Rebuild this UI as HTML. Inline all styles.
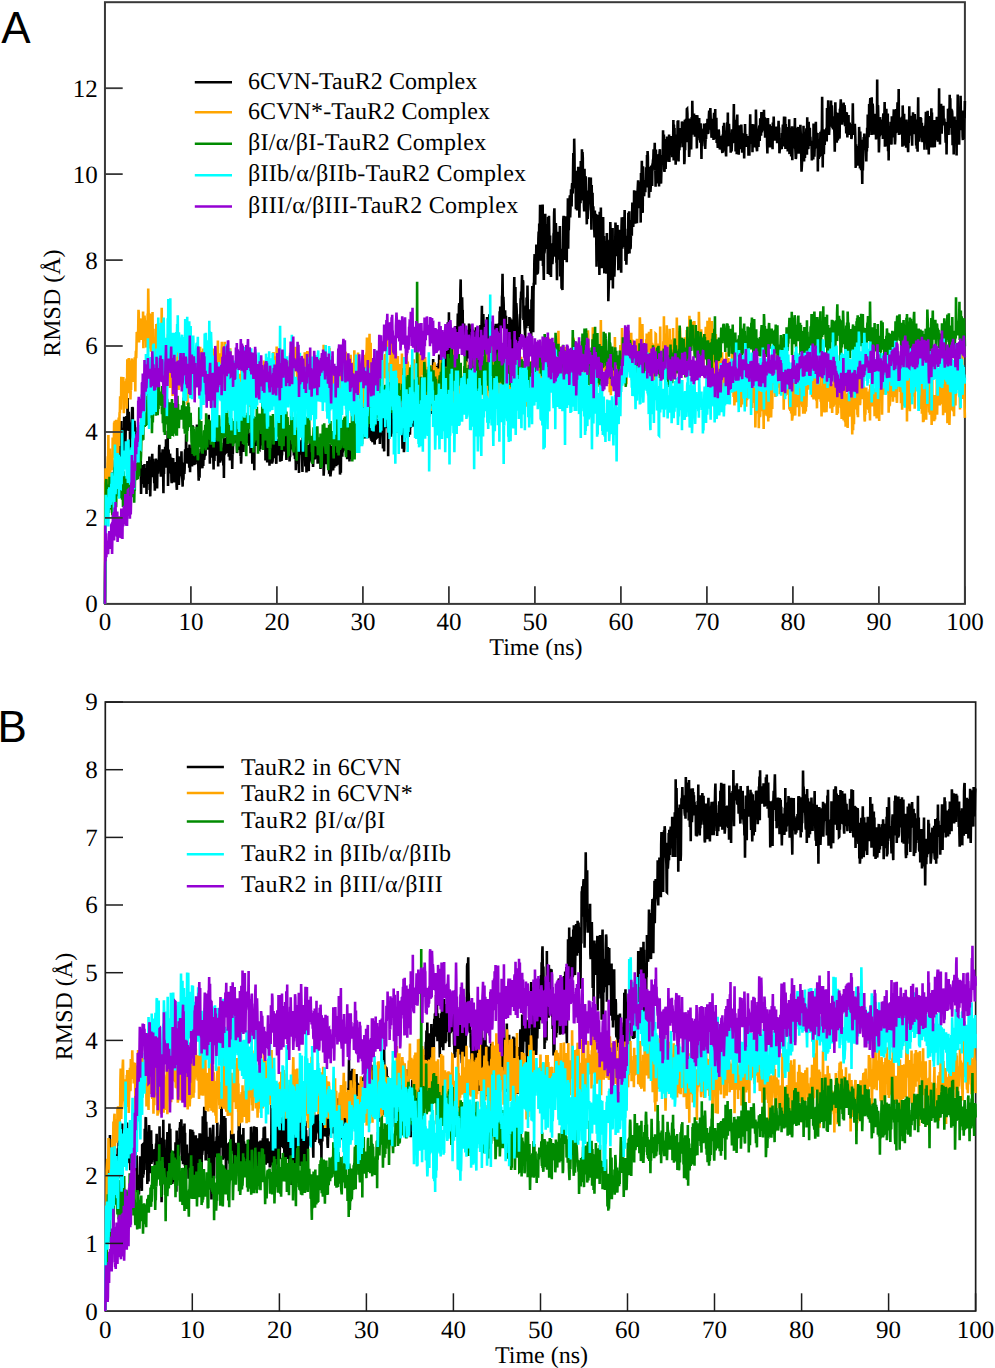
<!DOCTYPE html>
<html><head><meta charset="utf-8"><style>
html,body{margin:0;padding:0;background:#fff;}
svg{display:block;}
.t{font-family:"Liberation Serif",serif;font-size:24px;fill:#000;text-rendering:geometricPrecision;}
.n{font-family:"Liberation Serif",serif;font-size:25px;fill:#000;text-rendering:geometricPrecision;}
.L{font-family:"Liberation Sans",sans-serif;font-size:44px;fill:#000;}
.d path{fill:none;stroke-linejoin:miter;stroke-miterlimit:3;}
</style></head><body>
<svg width="995" height="1368" viewBox="0 0 995 1368">
<rect width="995" height="1368" fill="#fff"/>
<text x="1.2" y="43" class="L">A</text>
<text x="-2.5" y="742" class="L">B</text>
<rect x="104.95" y="2.20" width="859.95" height="601.70" fill="none" stroke="#383838" stroke-width="2.0"/>
<rect x="105.30" y="702.05" width="870.35" height="609.00" fill="none" stroke="#1c1c1c" stroke-width="1.7"/>
<g class="d">
<path transform="translate(104.95 2.20) scale(0.286650)" stroke-width="9.070" d="M0 2099 l1-129 1-158 1-46 1-103 1-29 1 35 1 57 1-34 1-3 1 19 1-20 1-1 1 34 1-45 1 1 1 40 1-26 1 21 1-59 1 29 1-6 1-36 1 26 1 27 1 5 1 68 1-99 1 21 1-24 1 30 1-16 1-41 1-10 1-19 1-12 1 10 1-10 1 32 1-20 1-13 1 16 1-20 1 27 1-26 1 35 1-18 1-3 1 28 1-25 1-11 1 14 1-76 1 31 1 22 1-34 1-2 1-92 1 158 1-72 1-29 1 22 1 49 1-79 1 15 1-40 1 83 1-122 1 57 1 7 1-55 1 85 1-23 1-67 1 16 1-22 1 51 1-15 1 6 1-105 1 86 1-35 1 24 1-27 1 52 1 15 1-7 1 7 1 64 1-80 1 34 1-6 1-38 1-1 1-18 1-39 1 14 1-13 1 109 1-37 1 8 1-2 1-20 1-11 1 23 1 1 1 2 1 66 1-41 1 52 1-14 1-51 1 99 1-20 1-10 1 27 1-35 1-57 1 50 1 69 1 18 1-18 1 33 1-9 1-43 1 1 1 113 1-55 1 20 1-45 1 18 1-39 1 45 1-33 1 10 1 29 1-33 1 61 1-83 1 81 1-21 1-17 1 12 1 21 1-62 1 91 1-60 1 25 1-80 1 52 1 13 1 14 1-5 1-30 1-1 1-59 1 117 1-55 1 77 1-45 1-76 1-1 1-1 1 50 1-42 1-34 1 82 1-41 1-23 1 17 1 37 1 6 1 25 1-27 1 53 1-26 1-29 1-6 1-51 1 14 1 2 1-11 1 99 1-68 1-15 1 32 1-27 1 0 1 10 1-74 1-10 1 69 1-42 1 11 1 40 1 33 1-29 1-15 1 30 1-36 1-11 1-34 1 82 1-1 1 72 1-96 1 29 1-70 1-12 1 18 1-31 1 62 1 11 1-99 1 20 1 39 1 34 1-38 1-22 1-63 1 193 1-43 1-84 1 27 1 21 1 15 1 20 1-69 1 14 1 44 1-3 1-42 1 82 1 8 1-40 1 28 1-55 1-8 1-13 1 22 1 32 1-37 1 68 1-6 1-28 1 19 1-45 1 57 1-68 1 28 1 56 1 13 1-146 1 39 1-6 1 22 1 29 1-55 1 100 1-34 1-16 1 19 1-10 1-17 1 13 1-52 1 16 1-36 1 65 1 24 1 9 1 25 1-49 1 26 1-6 1-55 1 6 1 34 1-19 1-52 1-15 1 7 1 42 1-102 1 59 1 24 1-35 1 31 1-9 1 33 1-14 1-14 1 4 1-26 1 64 1-81 1 41 1 56 1-72 1 13 1 28 1-53 1 49 1 10 1 0 1-24 1-115 1 118 1 14 1-59 1 11 1-11 1 66 1-104 1 67 1 25 1 9 1-36 1-1 1 16 1-58 1-60 1 26 1 64 1 40 1-29 1 57 1 38 1-25 1 7 1 8 1-65 1 5 1-10 1-30 1 45 1 14 1-8 1-72 1 75 1 13 1-69 1 42 1 19 1-48 1 12 1 15 1-10 1-52 1 11 1 34 1-1 1-60 1 40 1-3 1-21 1 3 1-32 1 55 1-36 1-46 1 41 1-81 1 65 1 0 1 41 1 65 1-68 1-21 1 23 1 1 1 44 1-34 1-41 1-9 1 46 1 20 1 0 1 15 1 44 1-101 1 54 1 18 1-59 1 26 1-3 1 17 1-14 1-30 1-54 1 76 1-3 1-23 1 19 1 18 1 49 1-77 1 57 1-98 1 83 1 3 1 14 1 4 1-24 1-37 1 18 1 13 1 23 1-8 1-19 1-8 1 21 1-3 1 34 1-79 1 123 1-140 1 60 1-6 1-38 1 25 1 14 1-25 1-2 1 18 1-71 1 73 1-96 1 46 1 55 1-69 1-14 1 96 1-45 1-18 1-3 1 79 1-41 1-45 1 26 1 33 1 5 1-28 1 14 1 65 1-57 1 7 1-41 1-46 1 14 1 8 1 2 1-12 1-3 1-20 1 24 1 33 1-32 1-39 1 48 1-43 1 102 1-31 1-3 1 4 1-37 1 3 1-14 1-22 1 89 1-39 1-82 1 94 1 48 1-5 1 32 1-36 1-40 1-24 1-32 1 35 1-30 1 0 1 86 1-27 1-58 1 47 1-43 1 43 1 2 1-13 1-75 1 93 1-34 1 34 1-88 1 44 1 5 1-28 1 44 1-8 1-6 1 26 1 20 1-4 1-21 1 2 1 7 1 42 1-38 1 30 1-83 1 27 1-28 1 129 1-9 1-55 1 6 1-15 1 25 1 5 1 66 1-167 1 72 1 4 1-5 1 11 1-36 1-28 1 24 1 4 1-28 1 33 1 11 1-33 1 38 1-45 1 59 1 11 1 1 1-30 1 28 1 2 1-73 1-7 1-22 1 55 1 4 1 10 1 20 1-9 1 0 1-31 1 23 1 16 1-33 1-11 1-6 1 41 1-56 1 119 1-80 1 42 1 18 1-16 1-30 1 73 1-69 1-10 1 22 1 15 1-20 1-11 1-40 1 124 1-96 1-22 1 92 1-65 1-14 1 42 1 0 1 19 1 36 1-5 1-3 1-55 1 37 1-41 1-20 1-21 1 40 1-15 1 60 1 0 1-79 1 20 1 80 1 3 1-74 1 39 1-50 1 5 1 51 1-37 1 24 1-27 1-15 1-25 1 64 1-34 1 72 1-91 1 80 1-22 1 8 1 22 1-18 1-5 1-63 1 10 1 5 1-3 1-16 1 57 1-20 1-4 1-46 1 38 1-27 1 60 1-83 1 75 1 37 1-34 1-17 1-8 1-49 1 57 1 4 1 14 1-76 1 47 1 5 1 62 1-16 1-2 1-47 1-60 1 6 1 77 1-33 1-41 1 41 1-30 1-17 1 25 1 25 1-75 1 126 1-27 1 4 1 12 1 23 1-11 1-38 1 89 1-28 1-18 1-16 1 17 1-19 1-26 1 68 1-67 1-77 1 96 1 79 1-84 1-18 1 38 1-10 1-33 1 24 1-27 1 22 1-27 1 28 1 38 1 46 1-126 1 74 1 7 1-71 1-1 1 45 1-48 1 57 1 2 1 42 1-104 1 66 1-18 1 77 1-93 1 81 1-31 1-28 1-19 1-7 1 65 1 27 1-84 1 42 1-28 1 4 1-43 1 15 1 38 1-19 1 32 1 8 1 5 1-6 1 0 1-38 1 59 1-21 1-59 1 45 1-16 1-43 1 68 1-63 1 61 1-39 1-31 1 57 1-9 1-2 1-1 1-22 1 64 1-11 1-25 1 19 1 11 1-45 1 15 1 32 1-59 1 23 1 58 1-41 1-55 1 33 1 25 1-38 1 6 1 5 1-16 1 58 1-73 1 120 1-22 1-88 1 34 1-53 1 29 1-19 1 7 1 19 1 53 1-55 1-41 1 15 1 49 1-32 1 51 1 27 1-56 1 24 1 43 1-1 1-55 1-41 1 110 1 0 1-13 1-2 1-65 1 58 1-45 1-7 1-29 1 68 1 18 1-15 1-5 1-12 1 23 1-53 1 34 1 2 1-27 1 6 1-38 1 71 1-47 1 18 1 24 1-18 1 10 1-71 1 43 1 16 1-8 1 2 1-3 1 0 1 63 1-17 1-33 1 44 1-117 1 37 1 8 1-31 1 47 1-61 1 46 1-40 1-31 1 65 1-67 1 46 1-6 1-23 1-15 1 53 1-33 1 23 1 11 1 9 1-51 1 82 1-67 1 25 1-6 1-40 1 27 1 22 1-78 1 125 1-47 1-63 1 102 1-57 1 0 1-35 1 15 1 11 1 34 1-30 1-76 1 33 1 46 1-7 1 63 1-69 1 40 1 8 1-22 1-65 1 49 1 25 1-134 1 96 1-27 1 23 1-60 1 1 1 10 1-3 1-5 1-7 1 23 1-48 1 18 1 3 1-6 1 85 1-43 1 46 1 16 1-78 1-69 1 37 1-9 1 51 1 18 1-25 1 35 1-56 1-42 1 22 1 26 1-1 1 68 1-68 1 24 1 13 1-1 1 18 1-45 1 42 1-53 1 52 1 17 1-85 1 49 1-6 1 37 1-69 1 64 1-10 1 9 1-4 1 19 1-39 1 45 1-5 1-11 1 20 1-21 1-31 1-54 1 6 1 70 1-66 1 98 1 6 1-48 1-40 1 71 1-12 1-20 1-3 1-37 1 41 1 23 1-1 1-19 1-30 1 32 1-13 1-44 1-69 1 67 1 100 1-56 1-25 1 18 1-30 1 11 1-12 1-2 1 45 1 2 1 28 1 37 1-17 1-4 1-9 1 40 1-118 1 33 1-33 1 37 1-11 1-26 1 2 1 29 1-39 1-11 1-42 1 95 1-34 1 135 1-142 1 11 1-14 1-10 1 22 1 7 1 51 1-29 1-17 1 53 1-17 1-54 1-24 1 18 1 5 1 4 1 3 1 4 1 3 1 38 1-1 1-37 1 3 1 28 1-22 1-83 1 104 1 12 1-53 1 50 1 0 1-16 1 2 1-39 1-19 1 68 1-27 1 35 1-62 1 16 1-21 1-38 1 87 1-6 1-21 1 50 1 1 1-48 1 23 1 76 1-64 1-1 1 24 1-17 1 70 1-12 1-81 1-23 1 1 1 12 1-3 1 8 1-60 1 99 1-50 1 56 1-46 1-37 1 35 1 28 1 20 1-83 1 45 1-17 1-8 1 55 1-46 1-47 1 68 1-21 1-42 1 45 1-3 1-62 1-29 1 109 1-54 1-3 1 10 1 18 1-28 1 17 1 4 1-23 1 19 1 56 1-79 1 7 1 20 1 55 1-128 1 42 1 69 1-102 1 12 1 8 1-30 1 11 1 63 1 1 1-51 1-44 1 55 1-33 1 53 1 8 1-53 1 42 1-42 1 70 1-54 1-41 1 68 1 10 1-100 1 22 1 51 1-17 1-63 1 99 1-71 1 0 1-26 1 43 1-10 1 50 1-42 1-44 1 17 1 21 1-26 1 98 1 10 1-128 1 50 1-31 1 38 1-12 1-8 1 30 1 12 1-12 1 38 1 13 1-85 1 1 1-107 1 109 1 6 1-101 1 55 1-3 1-38 1-1 1 14 1 4 1 52 1-26 1 7 1-36 1 37 1-55 1 13 1 0 1 84 1-106 1 55 1-86 1 31 1-4 1-1 1 68 1-7 1-33 1-34 1 76 1-10 1-73 1 77 1-31 1 60 1-130 1 18 1-16 1 25 1 57 1-76 1-24 1 22 1 72 1-88 1 16 1 60 1 10 1-37 1-116 1 69 1-93 1 47 1 116 1-53 1-145 1 125 1-14 1 11 1 27 1 42 1-45 1-28 1 8 1-28 1 69 1-3 1-69 1 41 1 71 1-8 1-117 1 79 1 15 1-67 1-5 1 58 1-37 1-77 1 98 1-43 1-48 1 32 1-14 1 26 1-30 1-65 1 6 1 14 1 35 1-79 1-12 1 47 1 9 1 38 1-138 1-39 1 122 1-16 1 101 1-78 1-67 1 56 1-1 1 98 1 17 1 10 1-75 1-13 1 32 1 8 1 46 1-20 1 26 1 16 1-55 1 82 1-113 1 42 1 43 1-27 1 42 1-80 1 21 1 17 1-80 1 65 1 9 1 25 1 3 1-49 1-33 1 35 1-15 1 29 1-66 1 67 1-50 1 78 1 10 1 32 1-12 1-53 1 37 1-88 1 92 1 64 1-84 1 12 1-95 1 38 1 69 1-51 1 30 1 9 1-50 1-25 1 60 1-48 1 106 1-94 1 21 1 45 1-93 1 28 1-53 1 106 1-87 1 17 1-41 1-62 1 114 1 15 1-25 1 5 1-80 1 49 1 23 1-3 1 14 1-49 1 68 1 27 1-75 1-14 1 70 1-44 1 15 1-71 1 52 1 27 1 15 1 2 1-3 1-55 1 20 1-67 1 81 1 71 1-88 1 12 1-51 1 55 1-1 1 63 1 23 1-63 1 14 1 8 1-82 1 122 1-3 1-78 1 38 1 20 1-57 1-44 1 75 1-82 1 72 1-66 1 186 1-179 1 78 1-66 1 42 1-63 1-4 1 42 1 46 1-40 1-27 1-65 1 58 1-74 1 37 1-7 1-4 1-23 1 72 1-108 1-9 1-73 1 89 1 30 1-38 1 27 1 64 1 27 1-33 1 1 1-39 1 31 1 73 1-85 1 111 1 12 1-5 1 10 1-64 1-35 1 91 1-32 1-25 1-12 1 61 1-108 1 30 1 39 1-64 1 128 1-37 1-29 1-17 1 9 1 3 1-53 1 63 1-25 1 11 1 89 1-160 1-69 1-57 1 140 1-83 1-18 1 0 1 87 1 104 1-139 1 18 1 27 1 15 1 51 1 14 1 69 1-33 1-46 1 0 1 67 1 24 1-64 1-103 1 14 1-70 1 4 1-28 1 24 1-38 1-43 1 45 1 21 1-48 1 6 1 133 1-9 1-1 1 17 1 23 1 9 1 44 1-130 1 37 1-41 1 79 1-107 1 23 1 29 1-94 1 66 1 54 1 16 1 1 1-54 1 40 1-35 1 61 1-21 1 32 1-30 1-3 1 57 1-135 1 45 1-47 1-45 1 96 1-15 1 80 1-140 1-32 1 2 1-76 1-26 1 48 1 59 1-67 1-28 1 5 1-51 1 36 1 70 1-54 1-10 1 60 1-18 1-103 1-26 1 70 1-98 1 72 1-49 1-88 1 55 1 140 1-18 1-103 1 57 1-24 1 51 1-46 1-113 1 214 1-127 1 129 1 47 1-132 1 39 1-9 1-58 1-71 1 99 1 24 1-11 1-20 1-51 1 22 1-19 1-8 1 174 1-199 1 37 1 0 1-41 1 56 1 63 1 88 1-138 1 95 1-64 1 114 1-87 1-31 1 55 1-45 1 63 1-20 1-12 1-12 1-62 1-4 1-69 1-16 1 75 1-13 1 36 1 71 1-118 1 30 1 109 1-15 1 76 1-116 1-46 1 52 1 38 1-97 1 53 1 4 1-40 1 39 1-76 1 176 1-81 1 78 1-94 1 75 1 65 1-86 1 82 1 8 1-101 1-78 1-67 1-13 1 144 1-67 1 77 1-79 1 57 1-101 1 24 1 7 1-60 1 53 1 107 1-124 1 65 1-53 1-111 1 176 1-91 1 28 1-49 1-28 1-32 1-14 1 77 1-30 1-34 1-34 1 31 1 29 1-70 1-12 1 35 1-2 1-70 1-68 1 36 1 46 1-132 1 54 1 120 1-34 1 1 1 4 1 101 1-134 1 114 1-34 1 59 1-137 1 26 1 59 1-101 1 36 1-29 1 33 1 138 1-48 1-94 1 2 1 89 1-147 1 29 1 109 1-42 1-137 1 147 1-137 1 21 1 146 1-52 1-13 1 85 1 20 1-149 1 63 1 68 1-104 1 3 1 60 1 31 1 21 1 52 1-107 1-11 1 99 1-26 1-7 1-23 1-35 1-54 1 85 1-44 1 25 1-62 1 65 1-68 1 90 1 92 1-156 1 68 1 20 1-61 1 72 1-14 1-1 1 30 1-23 1 61 1 31 1-94 1 32 1 39 1-60 1 50 1 36 1 99 1-182 1 95 1 62 1-109 1-37 1-10 1 74 1 2 1 69 1 65 1-221 1 48 1 18 1 100 1-181 1 132 1-35 1 95 1 20 1-120 1 32 1 75 1-166 1 153 1-81 1-5 1 130 1-88 1 13 1-37 1 52 1-33 1 94 1-35 1-49 1-58 1 118 1-94 1 17 1-5 1 202 1-35 1-32 1-94 1 42 1-30 1-29 1-98 1 38 1 77 1-2 1 90 1-29 1-14 1 4 1-143 1 211 1-129 1-14 1-13 1 42 1 73 1-30 1-41 1-23 1-95 1 28 1 22 1 44 1-33 1 56 1-39 1-70 1 80 1-36 1 114 1-59 1-33 1-49 1 64 1-18 1 42 1-54 1 14 1 76 1 26 1-157 1-37 1 32 1 78 1-29 1-5 1-56 1-20 1 104 1-70 1 1 1-60 1 87 1-22 1 113 1-65 1-23 1 101 1-40 1-40 1 4 1 25 1 13 1-50 1-93 1 23 1 47 1-76 1 148 1-117 1 74 1 27 1-7 1-52 1-32 1 30 1 15 1-74 1-42 1 26 1 1 1 58 1-32 1 18 1-114 1 107 1-76 1-11 1 97 1-69 1-46 1 50 1 32 1-42 1 73 1-63 1-45 1-21 1-21 1 88 1-46 1-36 1 4 1 88 1-26 1-12 1-24 1 112 1-173 1 55 1-32 1-66 1 106 1 51 1 25 1-163 1 98 1-26 1 25 1 8 1-25 1-16 1 20 1 7 1-43 1 9 1-53 1 41 1 29 1-113 1 112 1-126 1 20 1 93 1-10 1-44 1 104 1-96 1-12 1 62 1-17 1 43 1-18 1-51 1-22 1 50 1-52 1 72 1-78 1 3 1-16 1-2 1-35 1 41 1-28 1 8 1-44 1 97 1-5 1 62 1-130 1 40 1 64 1 14 1-55 1 27 1-63 1 84 1-22 1-62 1-11 1 113 1-101 1-22 1-7 1 89 1-60 1 45 1 46 1-36 1-42 1 1 1-23 1 25 1-15 1-96 1 66 1-28 1-23 1 122 1 8 1-35 1 12 1-92 1 105 1-49 1-53 1 77 1-48 1-40 1 65 1-64 1 38 1-19 1 28 1 36 1-91 1 95 1-37 1-26 1 15 1-32 1 33 1-5 1-38 1 65 1-63 1 72 1-30 1-41 1 48 1-107 1 141 1-124 1 46 1-35 1 72 1-49 1 18 1 87 1-43 1-10 1-34 1 71 1-71 1-1 1-65 1 93 1-95 1 144 1-56 1-26 1 43 1-54 1 44 1-28 1-18 1-22 1 36 1-31 1 38 1-66 1 4 1 25 1 61 1-61 1-11 1-12 1 15 1 128 1-13 1-142 1 106 1-78 1 35 1-66 1 16 1 46 1-96 1-1 1 17 1 99 1-29 1-35 1-18 1 71 1 63 1-19 1-48 1 41 1-108 1 77 1-62 1 93 1-59 1-54 1 60 1-117 1 57 1 47 1-28 1 33 1 9 1-74 1 49 1-27 1 59 1-25 1-10 1-40 1 47 1-19 1 18 1 70 1-116 1 11 1 64 1-28 1-15 1 48 1-28 1-42 1 55 1 22 1-12 1 21 1-68 1 46 1 16 1 63 1-87 1 42 1-30 1 11 1-24 1-8 1-10 1 28 1-46 1 35 1 0 1 34 1 20 1-25 1-14 1 4 1-35 1-20 1 14 1 25 1-54 1 19 1 32 1-3 1-20 1-40 1-17 1 11 1 45 1-20 1-45 1 35 1 41 1-22 1 50 1-6 1-22 1 13 1-38 1 25 1-38 1 74 1-73 1-22 1 59 1-38 1 36 1-70 1 104 1-39 1 30 1-65 1 88 1-20 1-25 1 42 1 20 1-36 1 17 1-45 1 8 1 26 1-12 1 48 1-8 1-20 1-20 1 44 1-15 1-26 1 28 1 21 1 8 1-64 1 61 1-92 1 26 1 61 1-97 1 19 1 34 1 24 1-2 1-48 1 75 1 15 1-61 1 8 1 19 1-85 1 70 1-104 1 117 1-29 1-12 1-37 1 18 1 26 1 5 1-11 1 3 1 60 1-35 1-24 1 55 1-21 1-57 1 6 1 42 1-3 1-6 1-61 1-66 1 116 1-36 1-7 1 10 1-28 1 111 1-53 1-14 1 6 1 70 1-123 1-15 1 107 1-62 1 18 1 10 1 67 1-94 1 17 1 39 1-65 1 82 1-26 1 8 1 20 1-86 1 28 1 24 1 46 1-38 1-30 1 59 1-18 1-37 1 17 1 67 1-61 1 3 1-62 1 50 1 9 1 8 1-32 1 45 1-21 1-9 1 0 1 21 1-13 1-5 1 58 1-69 1 10 1 59 1-47 1-39 1-59 1 82 1-12 1 14 1 18 1-4 1-50 1-14 1 98 1-82 1 13 1-24 1 75 1-55 1-24 1 81 1-54 1 36 1-19 1 30 1-126 1 49 1 81 1 8 1 8 1-29 1-8 1-39 1 10 1 51 1-59 1-8 1 1 1 45 1-28 1-51 1 35 1-12 1 38 1-83 1 31 1 40 1-24 1 18 1-28 1-15 1 22 1 7 1-59 1 52 1-13 1-13 1 72 1-68 1 56 1 1 1 10 1-6 1-33 1 62 1 33 1-82 1-42 1 54 1 12 1 24 1-64 1 52 1-56 1 81 1-40 1 1 1-16 1 14 1 27 1-41 1-20 1 31 1 50 1-93 1 52 1-19 1-54 1 49 1 11 1-12 1 36 1-23 1 20 1-43 1 34 1-1 1-36 1 24 1 34 1-28 1 11 1 6 1-37 1-30 1 43 1-20 1 90 1-10 1-42 1 34 1-24 1 16 1-15 1 17 1 10 1-57 1 46 1-51 1-24 1 19 1-1 1-1 1-41 1 0 1 95 1 5 1-103 1 112 1-87 1 36 1 15 1-6 1-3 1 8 1-40 1 86 1-76 1 13 1 20 1 29 1-99 1 122 1-83 1 6 1 63 1-78 1 73 1 27 1-8 1-23 1-74 1 118 1-100 1 59 1-43 1 22 1 8 1-11 1-41 1 6 1-47 1 95 1 23 1 25 1-5 1-31 1-38 1-35 1 57 1 25 1-23 1-62 1 87 1 6 1-57 1-9 1 4 1 38 1-41 1-35 1 24 1 35 1 43 1 61 1-16 1-20 1-41 1-31 1-25 1 59 1-86 1 66 1 59 1-89 1 48 1 28 1-45 1 30 1-60 1 0 1-28 1 73 1 19 1-131 1 112 1-47 1 45 1-2 1-92 1 34 1 17 1 5 1-35 1 43 1-11 1 22 1 9 1-17 1 3 1 65 1-38 1 32 1-29 1-12 1 44 1-126 1 105 1-102 1 113 1-33 1-36 1 9 1-6 1-56 1 59 1-21 1 20 1 29 1 6 1-54 1 135 1-102 1-8 1 66 1-37 1-13 1 44 1-63 1 36 1-62 1 84 1-28 1-46 1-13 1-6 1-113 1 137 1 110 1-93 1 5 1-46 1 87 1-51 1 2 1 17 1-42 1 8 1-4 1 12 1-23 1-11 1 48 1-117 1 9 1 25 1 15 1-76 1 111 1-52 1 62 1-21 1-74 1 40 1-24 1 50 1-55 1-36 1 56 1 3 1-42 1 27 1 52 1-22 1 27 1-46 1 9 1-7 1 32 1 35 1 55 1-67 1-106 1 46 1-12 1 26 1-14 1 95 1-57 1 42 1-39 1 46 1-80 1-16 1 18 1 16 1 56 1-6 1-98 1 8 1-18 1-23 1 51 1-34 1 47 1 17 1 7 1-33 1 6 1-29 1 4 1-25 1 68 1-10 1-49 1 11 1 63 1-9 1-41 1 24 1 51 1-13 1-61 1 38 1 50 1-30 1-36 1 25 1-37 1 68 1-5 1-34 1-3 1 30 1-5 1 10 1-10 1-20 1 52 1-6 1-30 1 8 1-17 1-79 1 74 1 17 1 7 1 8 1 2 1-13 1-24 1 22 1 33 1 99 1-82 1 53 1-26 1-7 1 15 1 39 1-34 1 10 1-36 1-8 1 23 1-90 1 39 1 58 1 48 1-129 1 39 1 27 1 69 1-106 1 34 1 64 1 56 1-128 1 81 1-41 1-48 1-28 1 31 1-43 1 25 1 18 1-7 1 17 1-9 1 15 1 39 1-55 1 20 1-83 1 71 1-117 1 44 1-7 1 42 1-28 1-88 1 43 1 48 1-92 1-20 1 59 1-6 1-43 1 119 1-131 1 102 1-40 1-40 1 10 1 44 1-13 1 67 1-47 1 22 1-48 1 35 1 28 1-20 1-29 1 76 1-21 1 15 1-18 1-185 1 181 1 12 1-103 1 51 1 35 1 78 1-32 1-82 1 59 1-68 1 39 1-18 1-8 1 0 1 19 1 31 1-20 1-26 1 6 1 53 1-82 1-7 1 27 1-26 1 20 1-61 1 156 1-115 1 64 1-23 1-19 1-39 1 58 1 73 1-69 1-7 1-39 1 132 1-87 1 119 1-111 1-8 1 27 1-24 1 22 1-4 1-37 1 28 1 40 1 12 1-99 1 74 1-28 1-45 1 31 1-9 1-14 1-33 1 49 1 29 1 14 1 30 1-16 1-76 1 53 1-84 1 31 1 14 1-6 1-24 1-39 1 74 1 32 1-35 1-117 1 160 1-38 1-1 1 13 1-29 1 53 1-4 1-39 1-16 1 38 1-32 1-9 1 105 1-144 1 41 1 2 1-7 1 105 1-112 1 86 1-10 1-1 1-34 1 68 1-43 1 53 1-99 1 63 1-55 1 40 1 40 1 8 1 18 1-57 1 25 1-18 1-110 1 103 1-53 1 11 1 37 1-21 1 20 1-64 1 26 1-15 1 94 1-72 1 30 1-75 1 62 1 14 1-40 1-2 1 16 1-44 1 26 1 23 1-8 1 26 1 43 1-66 1 77 1-102 1 45 1 68 1-120 1-70 1 116 1-36 1-2 1 77 1-85 1 47 1-4 1-44 1 25 1-22 1 68 1-2 1-49 1 55 1 12 1-35 1 10 1-10 1-15 1-1 1 25 1 53 1-47 1 22 1-54 1-16 1-38 1 106 1-44 1 39 1-25 1 57 1-136 1 82 1 10 1 8 1 52 1-124 1 7 1 6 1-23 1 21 1 47 1 7 1 35 1-137 1 118 1-103 1 86 1-31 1 24 1 43 1-69 1-2 1 25 1-18 1-32 1 95 1-50 1 15 1 10 1-13 1-11 1-3 1-54 1 42 1 31 1-36 1 50 1-73 1 28 1-15 1-127 1 156 1-101 1 141 1-94 1 17 1 3 1-68 1 67 1 38 1-47 1 15 1-35 1-21 1 24 1-34 1 58 1 11 1-24 1 16 1-5 1 13 1 32 1 28 1-64 1-1 1 106 1-87 1-15 1 21 1 11 1-89 1 41 1 50 1-38 1-55 1 27 1-74 1 116 1-104 1 80 1 16 1-23 1-36 1 90 1-85 1 12 1 110 1-89 1-6 1 47 1 80 1-125 1 3 1-10 1 94 1-20 1-6 1-46 1 70 1-21 1 65 1-124 1 45 1-19 1-115 1 76 1 31 1-1 1 35 1 34 1-100 1 22 1-12 1 40 1-121 1 74 1 9 1 18 1-2 1-12 1-15 1 70 1 13 1-68 1-35 1 99 1-52 1-24 1 5 1-61" stroke="#000000"/>
<path transform="translate(104.95 2.20) scale(0.286650)" stroke-width="9.070" d="M0 2099 l1-327 1-146 1 93 1-35 1-27 1 2 1 19 1 45 1-112 1-27 1 23 1-97 1 225 1-67 1 27 1-112 1-26 1 110 1-48 1-28 1-3 1 0 1 35 1 5 1 5 1-19 1-95 1 43 1 28 1-10 1-45 1-69 1 112 1-118 1 8 1 115 1-111 1 18 1-33 1 60 1 96 1-22 1 1 1-78 1 36 1 30 1-94 1-37 1 99 1-64 1-53 1 5 1-61 1 33 1 4 1 10 1-115 1 25 1 1 1 36 1-57 1 48 1-9 1-43 1 37 1 89 1-51 1-4 1-4 1 11 1-13 1-47 1-2 1 35 1-46 1 105 1-63 1-109 1 75 1 6 1 8 1 29 1-123 1 99 1-21 1-31 1-18 1-20 1 136 1-39 1 6 1-67 1-37 1-6 1 23 1-15 1 13 1 12 1 49 1-49 1-13 1-14 1 19 1-29 1 59 1 60 1-119 1-23 1 26 1-38 1-53 1 23 1-24 1 5 1 20 1-34 1-68 1 13 1 101 1-26 1-56 1 34 1-35 1 3 1 35 1 14 1 5 1 17 1-31 1-33 1 63 1-12 1-86 1 128 1-68 1 7 1-24 1-29 1 17 1 73 1-38 1-26 1-9 1 95 1-94 1 70 1-60 1 53 1-88 1 27 1-114 1 71 1 58 1-44 1 124 1-107 1-7 1 69 1 3 1 53 1-78 1-54 1 88 1-80 1 98 1-112 1 157 1-75 1-24 1 82 1-23 1-21 1 24 1 23 1 17 1-4 1-36 1 25 1-103 1 59 1-24 1-12 1 66 1-2 1-91 1 145 1-67 1-47 1 91 1-20 1-68 1 116 1-113 1 88 1 1 1-35 1-44 1-100 1 106 1 30 1-20 1 53 1-3 1-14 1-33 1 47 1 88 1-37 1 45 1-106 1 127 1-111 1 53 1-73 1-6 1 77 1-24 1-14 1 62 1-150 1 0 1 21 1 8 1 14 1 58 1-2 1 84 1-133 1 127 1-89 1 57 1-56 1-27 1 31 1-35 1 153 1-142 1-29 1 74 1 15 1 1 1 65 1-30 1-70 1-67 1 60 1 45 1 1 1-55 1-72 1 85 1 5 1 5 1-26 1 19 1 50 1 45 1-81 1-31 1-56 1 58 1 71 1-13 1 40 1-26 1-80 1 44 1-52 1 78 1-22 1-28 1-9 1 11 1 3 1 3 1 43 1-27 1-9 1 20 1 53 1-80 1-3 1 56 1 28 1 34 1-28 1-45 1 100 1-80 1-35 1 46 1 25 1-119 1 33 1 53 1-71 1-26 1 65 1 51 1-35 1-40 1 15 1 30 1 39 1-113 1 27 1 19 1 5 1 1 1 16 1-39 1 13 1-33 1-13 1-15 1 48 1-15 1 7 1 37 1-6 1-30 1-15 1-28 1 94 1 14 1-36 1 25 1-54 1-44 1 36 1 48 1-103 1 73 1-9 1-17 1 26 1-33 1 102 1-31 1-28 1-68 1 16 1-25 1 58 1-16 1-16 1 17 1 5 1 36 1-31 1-18 1 47 1-17 1 3 1-43 1-10 1 107 1-59 1 1 1-63 1 41 1 24 1-29 1 52 1-12 1 45 1-43 1-14 1 31 1-67 1 70 1-8 1-65 1 38 1-17 1 10 1-57 1 28 1 41 1 125 1-65 1-16 1 20 1-38 1 36 1-34 1-13 1 43 1 12 1-81 1 70 1-132 1 50 1-74 1 86 1 29 1-6 1-44 1-20 1 61 1 32 1-54 1 16 1-11 1 45 1-35 1-60 1-34 1 88 1 80 1-77 1 127 1-137 1 19 1-69 1 93 1 48 1-172 1 86 1 29 1 24 1 54 1 12 1-77 1 61 1-82 1-2 1-1 1 8 1-43 1 19 1-16 1 45 1 41 1-66 1 80 1-150 1 93 1 78 1-87 1-13 1 42 1 46 1-72 1-2 1 25 1-1 1-19 1 13 1-16 1-16 1 23 1 75 1-16 1-31 1-1 1 26 1-3 1-15 1-17 1-10 1 48 1 53 1-38 1 4 1 11 1-77 1 92 1-42 1-64 1 99 1-46 1 11 1-45 1-11 1 74 1-155 1 151 1-37 1-9 1 9 1-9 1-6 1-39 1-15 1-53 1 154 1-24 1-2 1 25 1-77 1 55 1-21 1 16 1-29 1 22 1 46 1-44 1-11 1-67 1 94 1 60 1-33 1 16 1 1 1-33 1-27 1-16 1 2 1 12 1-70 1 80 1 27 1-53 1-9 1 108 1-104 1 26 1 23 1-12 1-57 1-36 1 83 1-5 1-3 1-10 1 76 1 8 1-60 1 23 1-50 1 8 1 23 1-10 1-53 1 75 1-20 1-16 1 49 1-81 1 64 1-26 1 5 1-11 1 41 1 7 1-15 1-4 1 30 1 46 1-101 1 64 1-95 1 17 1-66 1 78 1 24 1 39 1-83 1-27 1 57 1 1 1 39 1-113 1 109 1-98 1 72 1 80 1-94 1 37 1 17 1 21 1-73 1 4 1 18 1-79 1 38 1 12 1 65 1-49 1-47 1 7 1-11 1 59 1-30 1 72 1-73 1-102 1 63 1-11 1-27 1-10 1 78 1-4 1-12 1 58 1-47 1 12 1-119 1 135 1-30 1-30 1-34 1 21 1 3 1-12 1 136 1-83 1-41 1 30 1-49 1 47 1 23 1-59 1 30 1-32 1 54 1 74 1-55 1-112 1 156 1-70 1 36 1-58 1-68 1 6 1 113 1-68 1 15 1 16 1 22 1 4 1 34 1-25 1-22 1 23 1-3 1-78 1 108 1-34 1 11 1 19 1-95 1 103 1-1 1-36 1-55 1 7 1 97 1-26 1 36 1-21 1-87 1 33 1-14 1 59 1-30 1 87 1-119 1-20 1-34 1 34 1 7 1 5 1-82 1 35 1-31 1 82 1-22 1 14 1 36 1-59 1 59 1-30 1 51 1-49 1 114 1-95 1-57 1 76 1 29 1-42 1 11 1-39 1-27 1 42 1 11 1 66 1-26 1-24 1-36 1-12 1 19 1-13 1-16 1 17 1-65 1 82 1 30 1-44 1-57 1 20 1 88 1-54 1 8 1-77 1 74 1 30 1 45 1-147 1 127 1-31 1 46 1 76 1-88 1 24 1-10 1-12 1-33 1-63 1 20 1 3 1 19 1-52 1 47 1-46 1 32 1 53 1-21 1 11 1-34 1 81 1-121 1 40 1-6 1-32 1 73 1-12 1 23 1-26 1-12 1 61 1-17 1 12 1 35 1-112 1-33 1 18 1 101 1-72 1-8 1-24 1-3 1 52 1-21 1-29 1 43 1 27 1 9 1-14 1-28 1 42 1-139 1 136 1 22 1-40 1-29 1-11 1-32 1 60 1 13 1 34 1-17 1-39 1 17 1 93 1-104 1-9 1 76 1-36 1 29 1-123 1-29 1 35 1 98 1-10 1-94 1 5 1 23 1 38 1 38 1-55 1-15 1 30 1 36 1-52 1 18 1 27 1-12 1 101 1-65 1 56 1-75 1 16 1-37 1-23 1 93 1-66 1 85 1-61 1 15 1-7 1 28 1 20 1 46 1-24 1-22 1-106 1 57 1-71 1-12 1 43 1-71 1 52 1 64 1-38 1-23 1 19 1 42 1-70 1 69 1-106 1 39 1-16 1-6 1 29 1-73 1 91 1-49 1-40 1 30 1-20 1 4 1 25 1 48 1 67 1-22 1 2 1-86 1 26 1-17 1 52 1 32 1-7 1-62 1-30 1-32 1 39 1 1 1 37 1-12 1 15 1 42 1-57 1 1 1-39 1 66 1 39 1-54 1-94 1 131 1-20 1-6 1 24 1-33 1 41 1-17 1 0 1-37 1 34 1-4 1-85 1-20 1 61 1 14 1-38 1 32 1-10 1 69 1 32 1-42 1-75 1 23 1 17 1 57 1-56 1-55 1 82 1-22 1 21 1-12 1 93 1-95 1 20 1 5 1-31 1-82 1 37 1 46 1-16 1-33 1-38 1-6 1-50 1 80 1-21 1 108 1-32 1-15 1 67 1-124 1 133 1-209 1 130 1-56 1-8 1-35 1 113 1-48 1 47 1-12 1 5 1 80 1-53 1-2 1-23 1 101 1-146 1 110 1-66 1 14 1 1 1 73 1-69 1 52 1-48 1 10 1 32 1-86 1 102 1-118 1 38 1 65 1-75 1-1 1 56 1-31 1-65 1 64 1 17 1-132 1 99 1-8 1 12 1 53 1-1 1-82 1 4 1 26 1 38 1-46 1-31 1-5 1 60 1-21 1-63 1 3 1 37 1 17 1-48 1 7 1 69 1-155 1 116 1 89 1-46 1 23 1 11 1-10 1-47 1-32 1 0 1 26 1-11 1 34 1-60 1-35 1-30 1 92 1 76 1-64 1 78 1-9 1-20 1-77 1 71 1-128 1 81 1-39 1 73 1-11 1-35 1 24 1-19 1-61 1 45 1 31 1 78 1-20 1-6 1-20 1-92 1 139 1 1 1-39 1-4 1 82 1-40 1-76 1-35 1 20 1 1 1 31 1 43 1-72 1-59 1 62 1-43 1 0 1 101 1-43 1 6 1-12 1 5 1-13 1 45 1 25 1-98 1 52 1 24 1-53 1-60 1 13 1 49 1 64 1-96 1 19 1 22 1 22 1 14 1-41 1 57 1-45 1 10 1 57 1-42 1 42 1-18 1-86 1 57 1-11 1 37 1-70 1 74 1 1 1-10 1-97 1 97 1-12 1-35 1 116 1-149 1 13 1 58 1 26 1-86 1 12 1 50 1 29 1-85 1-5 1 128 1-82 1-77 1 88 1-75 1-31 1 106 1-47 1 86 1-128 1 26 1 31 1-29 1-1 1 12 1 10 1-28 1-40 1 19 1 4 1 64 1-33 1 51 1-14 1 20 1-97 1 21 1 71 1-14 1 1 1 39 1-17 1-67 1 136 1-97 1 68 1-27 1-6 1-9 1-19 1 24 1-14 1-60 1 124 1-69 1 103 1-160 1 149 1-90 1 64 1-53 1-3 1 61 1-48 1-57 1 31 1 18 1-68 1-14 1 104 1-62 1 61 1-18 1-68 1 19 1 15 1 68 1-50 1-36 1 45 1-56 1 62 1-22 1-36 1 69 1 41 1-51 1-51 1 47 1-90 1 131 1-69 1-5 1-36 1 5 1 64 1-22 1 61 1 7 1-45 1 32 1-36 1 49 1 47 1-110 1-22 1 24 1-50 1 102 1-67 1 97 1-56 1 3 1-51 1 19 1-13 1 34 1-71 1 14 1 84 1-15 1 6 1-35 1 59 1-32 1 30 1 22 1-51 1-40 1 41 1 19 1-45 1-7 1-25 1-44 1 12 1 163 1-262 1 110 1 99 1-57 1 53 1-121 1 138 1-92 1 59 1-16 1 33 1 17 1 19 1-72 1 27 1 9 1-90 1 79 1 20 1-112 1 62 1 11 1-18 1 11 1 29 1 20 1-16 1 27 1 4 1-73 1 96 1-70 1-43 1 69 1-19 1-57 1 31 1 49 1-23 1 9 1-61 1-51 1 115 1-38 1-3 1-13 1 101 1-43 1-5 1-39 1 20 1-40 1 43 1 35 1 54 1-81 1 81 1-67 1 22 1-50 1 33 1-40 1 58 1-93 1 25 1 26 1-49 1 62 1 71 1-218 1 37 1 51 1 32 1 0 1 76 1-57 1-26 1-2 1 19 1-49 1-2 1 36 1 29 1-41 1-10 1 47 1-67 1 28 1-45 1 28 1 18 1 6 1-88 1 130 1-5 1-51 1-3 1 29 1-22 1 12 1-27 1-55 1-13 1 118 1 35 1-34 1-73 1-8 1 36 1 59 1-13 1-86 1 71 1-127 1 134 1 66 1-178 1 34 1 91 1-2 1-24 1-67 1 29 1 0 1 65 1-45 1-60 1 81 1-7 1-67 1 67 1-17 1 42 1-36 1 22 1-145 1 73 1-10 1 44 1-6 1-4 1 44 1-40 1 42 1-80 1 59 1-58 1-9 1 73 1-31 1 7 1 26 1-91 1-7 1 153 1-88 1 24 1-3 1 14 1 4 1-51 1 66 1-97 1 64 1-16 1 39 1-12 1-46 1 80 1-36 1-119 1 133 1-71 1 43 1-86 1 44 1 61 1-108 1 87 1-116 1 107 1 14 1 20 1-19 1 19 1-56 1 35 1 23 1-85 1 78 1 30 1-46 1 61 1-40 1 3 1 39 1-26 1 4 1 36 1-29 1 0 1-72 1-33 1-14 1 85 1-60 1 29 1-12 1 93 1-145 1 107 1-12 1-4 1-71 1 141 1-33 1 26 1-51 1-19 1-44 1 39 1 48 1-33 1-14 1-9 1 16 1-35 1 5 1-23 1 89 1-109 1 20 1 41 1-68 1 79 1 87 1-63 1-40 1-19 1 18 1 62 1-64 1 7 1-16 1-10 1 7 1 17 1-33 1-8 1-25 1 76 1 99 1-101 1-34 1 18 1-37 1 95 1-53 1 14 1-70 1 28 1 89 1-20 1-66 1-11 1 16 1 56 1-21 1-4 1-58 1 48 1 48 1-92 1 62 1 18 1-49 1 70 1-95 1-16 1 51 1-67 1 117 1-111 1 71 1-68 1 108 1 0 1-102 1 120 1-55 1 36 1-44 1-41 1 63 1-68 1-13 1 32 1-43 1 69 1-88 1 46 1 1 1-58 1 94 1 85 1-124 1 45 1 4 1-66 1 147 1-98 1-18 1-49 1 113 1 32 1-71 1-28 1 56 1-59 1 50 1-81 1 77 1 3 1-50 1-5 1-37 1 51 1 8 1-111 1 93 1 78 1-103 1 26 1 1 1-22 1 40 1-81 1 13 1-7 1 81 1-55 1 52 1-80 1 9 1 37 1 5 1-31 1 15 1 16 1-5 1-39 1 109 1-54 1 107 1-151 1 9 1-39 1 27 1 17 1-30 1 0 1 25 1 3 1-90 1 83 1-21 1 100 1-90 1-9 1 34 1 112 1-61 1-93 1 59 1 5 1-15 1 44 1-3 1-91 1 86 1-3 1-32 1-6 1-34 1 83 1-67 1-17 1 68 1-76 1 115 1-68 1-18 1-18 1 102 1-35 1-29 1-38 1 18 1-15 1 32 1 36 1-16 1-18 1 56 1-53 1-33 1 44 1 67 1-25 1-79 1 97 1-44 1 73 1-68 1-116 1 14 1-1 1 97 1-10 1-53 1-7 1 64 1-17 1 16 1-10 1-4 1-7 1 74 1-93 1 1 1 35 1-65 1 59 1-65 1-12 1 32 1 23 1-39 1 42 1-10 1 25 1 48 1-20 1-69 1 51 1-19 1 61 1 15 1-118 1-19 1 51 1 45 1 15 1-56 1 44 1-36 1-7 1-25 1-57 1 87 1 41 1-28 1-58 1 111 1-80 1 8 1-98 1 25 1 34 1 42 1 4 1 32 1-64 1 23 1 29 1 102 1-93 1 3 1-58 1 101 1-64 1-32 1 14 1-109 1 106 1-4 1 34 1-2 1-77 1 40 1-19 1 23 1-57 1 36 1-7 1 74 1 15 1-54 1 5 1-25 1 28 1 21 1-52 1 97 1 25 1-73 1-25 1 75 1-62 1-36 1 10 1-121 1 131 1 2 1 38 1-46 1 21 1-4 1-2 1 20 1-3 1-10 1-19 1 31 1 19 1-44 1 16 1 24 1-6 1-20 1-13 1 8 1-25 1 61 1 29 1-74 1 6 1 54 1-4 1-54 1 15 1-39 1 140 1-47 1 19 1-29 1 67 1-132 1 1 1-23 1 22 1 39 1 8 1-21 1 39 1 25 1-41 1-16 1 16 1 46 1-166 1 82 1 4 1-1 1 15 1 8 1 52 1-50 1-11 1-9 1-10 1 47 1-35 1-16 1 44 1-20 1 68 1-12 1-53 1-75 1 60 1-26 1 31 1-38 1-13 1-73 1 105 1-26 1 17 1 27 1 1 1 53 1-79 1-34 1 105 1-126 1 60 1 48 1 43 1-49 1 51 1-41 1-58 1-26 1 7 1 65 1-28 1-18 1-89 1 44 1 54 1 44 1-24 1-63 1 69 1-65 1 0 1-51 1 79 1 21 1-40 1-36 1 20 1 18 1-19 1 72 1-38 1 13 1 33 1 1 1-87 1 67 1-1 1-72 1 51 1 40 1-59 1-42 1 63 1-11 1 9 1 0 1 17 1 27 1-44 1-28 1-17 1-91 1 28 1 128 1-64 1-9 1 59 1-27 1-57 1 70 1-104 1 62 1 39 1 49 1-80 1 34 1 46 1-36 1-11 1 10 1-10 1 57 1-33 1-74 1 103 1-123 1 159 1-9 1-60 1 38 1 7 1-2 1-84 1-55 1 20 1 14 1 80 1-5 1-12 1-42 1-65 1 53 1 52 1-19 1-38 1 137 1-132 1 114 1-112 1 39 1-19 1 105 1-88 1 5 1 65 1-41 1-104 1 1 1 44 1 48 1-10 1-10 1 12 1-22 1-29 1 69 1 23 1-35 1-27 1-6 1-9 1 37 1-112 1 108 1-12 1 0 1 3 1 57 1-5 1-53 1 10 1-20 1 74 1-110 1 46 1-133 1 143 1 3 1-32 1-54 1 53 1 41 1-6 1-15 1 78 1-180 1 87 1 37 1 6 1-23 1 5 1-54 1 24 1-25 1 49 1-94 1 78 1 35 1-58 1 97 1-77 1-28 1 35 1 79 1-123 1 14 1 59 1-113 1 135 1-14 1-63 1 7 1 42 1-5 1 67 1-13 1-35 1-65 1 4 1 10 1-107 1 118 1 50 1-87 1 9 1 90 1-25 1-108 1 97 1-47 1-35 1-27 1 47 1 96 1-91 1-18 1 41 1 80 1-53 1-60 1 41 1 40 1-22 1 24 1-34 1 33 1-39 1 18 1-69 1 73 1-39 1 42 1 55 1-83 1 23 1-96 1 12 1 51 1 27 1-98 1 58 1-39 1-24 1 63 1-100 1 38 1-3 1 33 1 37 1-80 1 37 1-34 1 56 1-18 1-2 1-44 1 85 1-44 1 37 1-4 1 3 1-79 1 20 1 54 1 40 1-66 1 31 1-26 1 2 1-16 1 23 1 30 1-10 1-25 1 10 1 45 1-7 1-137 1 41 1 53 1-26 1 35 1-25 1 32 1-7 1-42 1 13 1 71 1-1 1 57 1-5 1-43 1 15 1 37 1-52 1-32 1 34 1-7 1-6 1-44 1-9 1-37 1 27 1 37 1-50 1 79 1 27 1-141 1 104 1 66 1-100 1-7 1 17 1 31 1-122 1 60 1 41 1-7 1-8 1 88 1-30 1-39 1-93 1 90 1-17 1 11 1-45 1-9 1 59 1 82 1 27 1-154 1 53 1-13 1-6 1 5 1-37 1 54 1-16 1 100 1-18 1 71 1-54 1 2 1-50 1 22 1-28 1 59 1 7 1 18 1 3 1-53 1 4 1 86 1-131 1 67 1-40 1 39 1-79 1 162 1-24 1-17 1 47 1-76 1 39 1-95 1-8 1 156 1-139 1 29 1 76 1-73 1 19 1-96 1 58 1-14 1 8 1 14 1 5 1-1 1-50 1 56 1 6 1-8 1-29 1 6 1 5 1 86 1-20 1-53 1 21 1 48 1-102 1-47 1 91 1-2 1 57 1-25 1 46 1-10 1-31 1 71 1-91 1 3 1 77 1-111 1-2 1 87 1-51 1 26 1 19 1-26 1 57 1-65 1 49 1 9 1 1 1 8 1-83 1 75 1-81 1 93 1-26 1 38 1-12 1-40 1-19 1-76 1 137 1-60 1 17 1-1 1 13 1 2 1-109 1 103 1-73 1 63 1-53 1 30 1 24 1-13 1 65 1-103 1 73 1 7 1-9 1 4 1-36 1 32 1-43 1-44 1-13 1-10 1-16 1 1 1 103 1-48 1-4 1 22 1 15 1-22 1-3 1 99 1-66 1-2 1 8 1 34 1-53 1 61 1-53 1-68 1 90 1-23 1 140 1-56 1-26 1 15 1 12 1 2 1-25 1-18 1-24 1 7 1 64 1-78 1 129 1-96 1-84 1 110 1 31 1-5 1-44 1-38 1 67 1-45 1 42 1-28 1 18 1-54 1 22 1-56 1 82 1 81 1-157 1 23 1 39 1 10 1 6 1-21 1 7 1-6 1 38 1 14 1-77 1-25 1 31 1 74 1-122 1 140 1-102 1 90 1-49 1-64 1 20 1 1 1-34 1-8 1 38 1 94 1-49 1-132 1 85 1 66 1-132 1 32 1-24 1-27 1 12 1 55 1-58 1 38 1-10 1-23 1 95 1-20 1-17 1-10 1 6 1-113 1 81 1-46 1 79 1-17 1 25 1-99 1 48 1-5 1-86 1 165 1-67 1 4 1-18 1-22 1 65 1-36 1-49 1 37 1 2 1-7 1-5 1 17 1 23 1 110 1-94 1 20 1-91 1 28 1-19 1 108 1-130 1 77 1-4 1 52 1-23 1-77 1 47 1-68 1 5 1 37 1 43 1 21 1 44 1 23 1-19 1-72 1 96 1-63 1 24 1 48 1-44 1 3 1 66 1-8 1-10 1-167 1 26 1 66 1-78 1 48 1 30 1-59 1 124 1 10 1-54 1-4 1-109 1 19 1 97 1-62 1-46 1 10 1 120 1-83 1 50 1 18 1-53 1 100 1-65 1-20 1-33 1 31 1-20 1 1 1 48 1-6 1 13 1 9 1-1 1-33 1 24 1 43 1-83 1 10 1 10 1 41 1 21 1-11 1-75 1-13 1 92 1-63 1 47 1-43 1-73 1 24 1 11 1-5 1-21 1 47 1-30 1 4 1-13 1 13 1-109 1 66 1-13 1 66 1-33 1 40 1 16 1-18 1 37 1-50 1-42 1 91 1-9 1 18 1-82 1-3 1 6 1 59 1-25 1-10 1-20 1-29 1 97 1 11 1-39 1 66 1-165 1 117 1-79 1 9 1 49 1-14 1-51 1 1 1 101 1-37 1 21 1-69 1 94 1-21 1 17 1 55 1-48 1 14 1-71 1 8 1 81 1-139 1 57 1-19 1-24 1 127 1-39 1 7 1-86 1 37 1-17 1 17 1 80 1-23 1-78 1-13 1 15 1 62 1-8 1-37 1-19 1 19 1-46 1 50 1 21 1-125 1 169 1-21 1-24 1 12 1-52 1 55 1 46 1-73 1 52 1-16 1-1 1 16 1-110 1 30 1 22 1-47 1 79 1 19 1-28 1-34 1 62 1-21 1 57 1-85 1 74 1-4 1 10 1-77 1-91 1 24 1 87 1-76 1 104 1-28 1 0 1-90 1 127 1-60 1 62 1 37 1-58 1 51 1-126 1 32 1 92 1-91 1 105 1-63 1 21 1-89 1 7 1 130 1-42 1 58 1-56 1-9 1-44 1-6 1 50 1-37 1 106 1-122 1 30 1-9 1 45 1-136 1 153 1-45 1-8 1-76 1 42 1 21 1 55 1-93 1 33 1 47 1 86 1-140 1 44 1 81 1-144 1-6 1 129 1-106 1 3 1 52 1-29 1-31 1-71 1 100 1-22 1 31 1 1 1-51 1 86 1 0 1 13 1-112 1-68 1 95 1 9 1 3 1-31 1 62 1-10 1-79 1 61 1-13 1-16 1-48 1 84 1-46 1 21 1-2 1-9 1-5 1 12 1-15 1 81 1 34 1 7 1-84 1 60 1-86 1 7 1-16 1 75 1 2 1-62 1 49 1-50 1 27 1 6 1 18 1-17 1 41 1-36 1-47 1 109 1-125 1 43 1 33 1-54 1-24 1 49 1 12 1-41 1-17 1 49 1-18 1 44 1-30 1-33 1 41 1 56 1-64 1 27 1-16 1-7 1 17 1-103 1 154 1-95 1-17 1 93 1-82 1-23 1-11 1 40 1-32 1 136 1-188 1 54 1-10 1 45 1-36 1 59 1-34 1 0 1-3 1 91 1-83 1 10 1-55 1 28 1 30 1-27 1-7 1-4 1-5 1-37 1 38 1-51 1 84 1-51 1 55 1-76 1 3 1-58 1 46 1 58 1-105 1 57 1 143 1-43 1 21 1-33 1 31 1-19 1-110 1 55 1-46 1 89 1-29 1 7 1 6 1-23 1-8 1 64 1-39 1 19 1-63 1-21 1 88 1-30 1-33 1 35 1-82 1 89 1 6 1-79 1 102 1 12 1-45 1-69 1 9 1-1 1-16 1 10 1 1 1 47 1-49 1 35 1 40 1-57 1-14 1 110 1-69 1-34 1 54 1 72 1-88 1-30 1 8 1 78 1-12 1 6 1 16 1-1 1-68 1 17 1 55 1-4 1-59 1-111 1 142 1-57 1 149 1-171 1 8 1 14 1 8 1 43 1 3 1-30 1 80 1-48 1 57 1-106 1-24 1-9 1 10 1 16 1-39 1 14 1 33 1 22 1 3 1 29 1-90 1 40 1-7 1 40 1-57 1 116 1-62 1-62 1-24 1 59 1-25 1 25 1-38 1 12 1-1 1-64 1 117 1-8 1 25 1 37 1-58 1 68 1-148 1 37 1 99 1-79 1 51 1-52 1 3 1 15 1 91 1-168 1 50 1 39 1 108 1-87 1 86 1-123 1 37 1-27 1-37 1-87 1 125 1-16 1 19 1 102 1-195 1 33 1-2 1 51 1-94 1 76 1 59 1-48 1 57 1 37 1-61 1-67 1 136 1-14 1-5 1-35 1-14 1 24 1 80 1-121 1-41 1 107 1 30 1-53 1 5 1-8 1 12 1 56 1-86 1-6 1 86 1-61 1-20 1 11 1 45 1 5 1-120 1 123 1-48 1-58 1-25 1 67 1-19 1-65 1 30 1 51 1 34 1-8 1-69 1 73 1-91 1 30 1 49 1 12 1-133 1 94 1-43 1 26 1 95 1-98 1-26 1-15 1 113 1-40 1-49 1-27 1 20 1 113 1-25 1-62 1-4 1-59 1 63 1 124 1-150 1 90 1 1 1-4 1 62 1-108 1 115 1-35 1-67 1 3 1-76 1 111 1-75 1 11 1 63 1 14 1-103 1 86 1-42 1 63 1-55 1-46 1 117 1-67 1-99 1 82 1-29 1 76 1-57 1 22 1-82 1 35 1-13 1-41 1 80 1-45 1 12 1-2 1 14 1-2 1-34 1 25 1 40 1 62 1-150 1 4 1-4 1 14 1-27 1 93 1 33 1-173 1 153 1-26 1-27 1 19 1 36 1-24 1-28 1 98 1 38" stroke="#ffa500"/>
<path transform="translate(104.95 2.20) scale(0.286650)" stroke-width="9.070" d="M0 2099 l1-127 1-103 1-189 1-13 1-3 1 40 1 57 1-31 1 17 1-29 1-35 1 18 1 9 1 72 1-72 1-54 1 70 1-15 1 27 1-20 1 21 1 31 1-76 1 23 1 52 1 20 1-53 1 59 1-125 1 33 1 54 1-31 1-103 1 49 1 35 1-15 1 40 1-74 1 104 1-48 1-32 1-2 1 24 1 19 1-41 1-10 1-35 1 34 1-32 1 37 1 20 1-79 1 57 1 4 1-65 1 109 1 8 1-24 1-70 1 100 1-27 1-30 1 82 1-93 1-32 1 41 1 35 1-6 1 20 1-25 1-20 1-23 1 136 1-75 1-66 1 5 1 52 1-56 1 0 1 32 1 12 1-14 1 87 1-66 1-38 1-112 1 126 1-61 1-7 1 40 1-13 1-30 1 117 1-65 1 46 1-97 1 31 1 13 1 16 1 42 1-52 1 85 1-51 1 9 1-59 1 23 1-21 1-44 1-48 1 112 1-63 1 56 1-44 1 25 1 23 1-110 1 22 1 34 1 43 1-75 1 37 1-72 1 84 1-117 1 90 1-21 1-56 1-31 1-9 1 41 1 5 1-85 1 72 1 1 1-96 1-3 1 2 1-36 1 98 1-65 1-45 1 79 1 27 1-90 1 15 1 11 1 5 1 47 1-11 1 20 1-138 1 133 1-32 1 14 1-55 1-48 1 83 1-11 1-14 1-69 1 83 1 3 1-30 1 110 1-55 1-17 1 34 1-47 1-13 1-59 1 12 1 46 1 26 1-76 1 77 1-37 1 8 1 40 1-74 1 37 1-26 1-53 1 0 1 114 1-19 1-19 1 16 1-86 1 27 1 34 1 8 1-44 1 26 1 21 1-20 1-20 1 44 1-10 1 38 1-98 1 37 1 93 1-73 1-23 1 99 1 28 1-81 1 49 1 42 1-61 1-35 1 59 1-16 1-33 1 13 1-53 1 3 1 22 1 48 1 7 1 57 1-53 1 0 1-4 1-68 1 7 1 121 1-80 1 3 1 41 1 5 1-83 1 32 1-58 1 129 1-7 1 1 1-72 1-28 1-9 1 78 1 29 1-89 1 0 1 16 1-24 1 66 1 38 1-120 1 75 1 45 1-80 1-59 1 93 1-64 1 52 1-26 1 58 1-43 1 10 1-31 1 5 1 26 1-27 1 5 1 19 1 6 1-7 1-43 1 30 1 12 1-13 1-9 1-47 1 109 1-94 1 60 1 35 1 16 1-70 1 41 1-50 1-16 1 95 1-6 1 34 1-84 1 47 1-16 1-5 1-78 1 23 1-8 1 71 1-21 1-23 1 29 1-7 1-29 1 47 1-3 1 57 1 10 1 1 1-23 1 55 1-51 1-45 1 8 1 4 1 90 1-35 1-12 1-21 1 43 1 18 1-1 1-58 1-12 1-23 1 51 1-20 1 67 1 19 1-7 1-76 1 33 1 0 1-135 1 137 1-50 1 50 1-27 1-44 1 48 1-66 1 106 1-12 1 19 1-44 1 45 1-26 1 7 1-32 1 14 1-41 1-1 1 17 1-7 1-32 1 6 1 83 1-129 1 40 1-6 1 16 1 69 1-74 1-6 1 41 1-59 1 36 1 30 1-45 1 8 1 34 1 9 1-68 1 85 1-42 1 8 1 16 1-41 1 59 1-90 1 35 1 29 1 19 1 16 1-68 1-52 1 86 1-16 1-19 1-19 1-5 1 29 1 10 1 19 1-55 1 64 1-35 1 40 1-29 1-7 1 28 1-79 1-4 1 16 1 75 1-19 1-4 1 9 1 15 1 33 1-30 1-56 1 5 1 13 1 2 1-6 1-20 1 47 1-3 1-42 1-34 1 45 1-18 1 6 1-2 1 11 1-2 1 35 1-133 1 71 1-46 1 46 1 86 1-22 1-47 1-15 1 3 1 79 1-38 1-18 1-35 1 9 1 82 1-53 1-3 1 12 1-43 1 8 1 6 1 66 1-4 1 21 1-40 1-9 1 40 1-79 1 21 1 16 1-17 1 39 1-18 1-69 1 96 1-50 1 71 1 21 1-89 1 60 1-17 1-64 1 89 1-51 1-72 1-22 1 77 1-27 1 70 1-82 1 89 1-78 1 58 1-77 1 2 1 47 1 16 1-8 1 49 1-88 1-1 1 27 1 65 1-34 1 5 1-47 1-27 1 15 1 99 1 29 1-63 1-35 1-40 1 59 1-73 1 49 1-29 1 30 1-9 1 9 1-12 1 14 1 4 1-47 1 61 1-12 1 5 1-35 1-65 1 96 1-83 1 131 1-27 1-55 1 114 1-68 1-23 1 56 1-85 1 1 1 71 1 5 1-54 1 3 1 40 1-10 1-96 1 63 1 0 1 29 1 72 1-100 1 17 1-10 1-16 1-31 1 27 1-25 1 28 1-11 1 32 1 20 1-58 1 23 1-7 1-66 1 51 1 113 1-32 1-44 1 10 1-55 1 14 1-22 1-7 1-18 1 111 1 10 1-13 1-58 1 28 1-57 1 32 1 16 1 72 1 5 1-56 1 54 1-33 1-74 1-3 1 153 1-46 1 8 1-28 1-13 1-33 1-16 1 26 1-49 1 77 1-12 1-72 1 28 1 78 1-5 1-43 1 0 1 4 1 0 1-2 1 24 1-37 1 25 1 6 1-26 1 23 1-4 1-69 1 20 1-62 1 21 1 89 1 9 1 20 1 12 1-92 1 24 1 34 1-102 1 26 1-17 1 70 1 71 1-114 1 38 1 25 1-52 1 4 1 86 1-53 1 9 1 4 1 0 1-87 1 92 1-54 1 45 1 4 1-81 1 63 1-9 1 9 1-44 1 40 1 66 1 27 1-1 1-21 1-53 1 10 1-9 1-31 1 53 1-20 1-28 1-57 1 85 1-11 1 20 1 25 1-34 1 57 1-118 1 124 1-25 1-66 1 2 1 9 1 58 1-38 1 5 1-20 1-2 1 35 1 71 1-77 1 36 1-70 1-54 1 97 1-80 1 44 1-7 1 25 1-22 1-17 1-57 1-11 1 84 1-35 1 7 1 36 1-22 1-40 1 27 1 60 1-88 1 20 1-19 1 27 1 47 1 2 1-33 1 5 1-16 1 67 1-83 1 134 1-130 1 65 1 21 1-97 1 65 1 1 1-6 1-8 1-21 1-37 1 34 1 49 1 17 1-21 1 2 1-8 1 25 1-10 1 4 1 38 1-39 1 80 1-87 1 64 1-70 1-35 1 23 1 32 1-36 1-19 1 4 1 1 1 59 1-3 1-9 1-36 1 28 1 24 1-72 1 55 1 46 1-47 1 39 1 2 1 3 1-59 1 37 1-13 1 42 1-79 1 95 1 25 1-19 1 14 1-61 1-8 1-15 1-63 1 22 1 32 1-25 1 47 1-80 1 31 1 3 1 30 1 22 1 17 1 3 1-27 1-63 1 55 1-26 1-17 1 37 1-3 1 102 1-108 1 12 1-63 1 24 1 15 1-2 1-7 1-43 1 72 1-30 1 34 1-1 1-7 1 6 1 10 1-49 1 38 1 38 1 20 1-55 1 1 1-27 1-15 1 40 1-38 1-48 1 50 1 49 1-21 1-56 1-2 1 102 1-92 1-32 1 30 1 103 1-29 1-65 1 26 1 21 1 28 1-46 1-16 1 57 1-47 1-43 1 11 1 17 1-38 1 38 1-11 1 30 1 28 1 9 1 4 1-104 1 37 1-43 1 108 1-38 1 63 1 9 1-74 1 28 1-47 1-77 1 93 1 8 1 19 1 25 1-65 1 21 1 12 1 15 1-26 1-22 1-29 1 96 1-2 1-78 1 21 1 31 1-121 1 187 1-100 1-31 1-7 1 79 1-38 1 8 1-29 1 111 1-57 1-7 1-73 1-19 1-11 1 105 1-33 1-6 1-22 1 17 1-51 1 12 1-9 1 38 1-75 1 145 1-22 1 0 1-10 1-7 1-19 1-122 1 126 1-54 1 55 1 46 1-121 1 95 1 8 1-51 1-13 1-46 1 50 1-1 1-23 1-13 1 38 1-10 1 45 1-68 1-2 1-32 1-28 1 94 1 19 1-47 1 7 1-2 1-27 1 7 1-30 1 20 1 28 1 32 1-71 1 21 1 4 1 11 1 34 1-20 1 15 1 6 1 18 1-65 1 3 1 25 1-65 1 23 1 59 1 10 1-69 1-17 1-5 1 66 1-16 1-38 1 50 1-104 1 15 1 76 1-39 1-37 1 12 1 50 1 1 1-3 1-69 1 15 1-52 1 26 1-10 1-4 1 56 1 12 1-51 1 18 1 12 1 7 1 26 1-46 1 40 1-8 1-11 1 17 1-57 1-7 1 57 1-37 1-13 1 23 1-24 1-4 1 50 1-45 1 103 1-17 1-67 1 25 1-8 1-41 1-11 1 58 1-8 1-7 1-19 1-11 1 81 1-48 1 25 1-67 1 103 1-80 1 48 1 13 1-57 1 11 1 85 1-60 1 29 1-12 1 15 1-18 1 37 1-22 1 70 1-107 1 4 1 32 1-49 1 26 1-12 1-27 1 6 1 121 1-157 1 52 1-21 1 30 1-11 1 18 1-35 1-9 1 19 1-8 1 22 1-33 1-22 1 32 1-10 1 24 1-62 1-39 1 124 1 1 1 42 1-137 1 48 1-13 1 40 1 7 1 25 1-62 1 49 1-34 1-29 1-36 1 129 1-47 1 15 1 9 1-26 1-35 1-52 1-20 1 87 1-40 1 25 1-13 1-16 1-4 1 11 1 30 1 48 1-17 1-50 1 19 1-25 1 11 1-24 1 70 1-23 1-13 1-1 1 77 1-115 1-25 1 95 1-406 1 300 1 100 1-18 1 31 1-1 1-23 1 28 1 31 1-41 1-17 1-5 1-17 1-36 1 23 1 31 1-21 1 45 1-10 1 9 1 32 1-78 1 67 1 2 1-64 1-88 1 13 1 29 1-16 1 74 1-37 1-9 1 15 1 35 1-23 1-38 1-3 1 104 1-118 1 65 1-28 1 21 1-10 1-51 1 27 1-5 1-32 1 46 1-28 1 0 1 40 1-25 1 93 1 15 1-49 1-7 1 13 1-82 1 39 1 57 1-29 1-39 1 78 1-84 1 73 1-40 1-25 1 63 1-18 1 3 1-15 1-15 1 5 1 48 1-23 1-13 1-11 1-17 1-3 1-16 1 58 1-4 1-12 1-55 1 16 1 13 1-28 1-32 1 59 1-27 1-66 1 68 1-8 1 58 1-17 1-16 1-24 1 26 1 44 1-64 1-14 1-2 1 79 1-56 1 63 1-58 1-18 1 52 1-110 1 143 1-45 1 60 1-70 1-66 1 12 1-19 1 60 1 46 1-33 1-122 1 40 1 71 1-55 1 20 1-39 1 57 1 70 1-34 1-61 1 20 1 29 1 21 1-70 1 35 1 42 1-1 1-101 1 62 1-76 1 48 1 16 1 9 1-18 1-2 1 62 1-111 1 87 1 7 1-43 1 56 1-28 1 0 1-48 1 78 1 5 1 63 1-81 1 26 1-33 1 24 1 10 1-27 1 49 1-39 1-19 1-45 1 53 1-134 1 119 1 40 1-47 1 34 1-55 1 3 1 57 1-63 1 30 1-24 1 47 1-17 1-32 1-15 1 98 1-54 1-53 1 68 1-43 1 25 1-2 1-21 1 33 1-73 1 1 1 44 1-8 1 6 1-4 1 0 1 80 1-84 1-9 1 36 1 32 1 18 1-69 1 29 1-5 1-100 1 115 1 38 1-84 1 113 1-50 1-22 1 28 1-91 1 48 1-16 1 32 1 19 1-3 1-90 1 56 1-11 1 4 1 63 1-60 1 49 1 20 1-4 1-96 1-32 1 58 1-24 1 77 1 17 1-160 1 10 1 93 1-48 1 30 1 4 1 24 1-48 1-14 1 65 1-34 1 52 1-61 1 25 1-63 1 46 1 70 1-28 1-59 1-10 1-7 1 66 1-45 1-56 1 73 1 56 1 60 1-78 1-21 1 71 1-98 1 4 1-18 1 6 1 2 1 29 1-71 1 104 1-97 1 34 1 50 1 40 1-62 1 1 1-12 1-23 1-43 1 105 1-14 1-104 1 78 1 10 1 29 1-79 1 26 1-6 1-19 1-39 1 23 1 18 1-1 1 46 1 53 1-24 1 64 1-89 1 0 1-19 1 44 1-87 1 17 1-27 1 64 1 0 1 6 1-7 1 12 1-35 1 81 1-31 1 6 1-28 1 5 1 28 1-12 1-56 1 15 1 45 1 14 1-7 1-34 1-2 1 31 1 10 1 10 1-69 1 45 1-35 1 29 1-11 1 15 1-56 1 52 1 49 1-49 1 42 1-65 1-50 1 73 1-56 1 25 1-40 1 28 1-15 1 6 1-9 1 23 1 40 1-16 1-10 1-63 1 95 1 42 1-108 1 82 1 22 1-13 1-13 1 5 1-92 1 58 1-52 1 22 1 49 1 66 1-137 1 59 1 25 1-32 1 40 1-1 1-58 1 19 1-26 1 15 1-80 1 112 1 41 1-81 1 39 1-129 1 125 1-9 1-6 1 27 1 2 1 39 1-33 1-86 1 119 1-43 1-25 1-7 1 18 1-29 1-10 1 22 1-12 1-34 1 35 1 25 1-79 1 38 1 55 1 30 1-32 1-22 1-3 1 33 1-75 1 57 1 9 1-48 1-55 1 35 1 17 1-42 1 20 1-32 1 56 1-8 1-5 1-17 1-61 1 59 1 2 1 53 1-14 1-40 1 17 1 44 1-41 1 8 1-26 1 4 1 14 1 55 1-19 1-67 1-75 1 56 1-3 1 45 1-59 1 67 1 10 1-26 1 10 1-40 1 22 1 1 1 57 1-13 1-19 1 61 1-47 1-16 1 2 1-71 1 112 1-76 1 22 1-12 1 19 1 36 1-58 1 22 1-74 1 62 1-43 1-11 1 5 1 56 1 3 1 7 1 34 1-60 1-86 1 31 1 90 1-73 1 39 1 2 1 12 1-44 1 71 1-12 1-77 1 101 1-21 1-30 1 8 1 23 1-60 1 48 1 27 1-31 1 12 1 28 1-38 1-37 1 64 1-76 1-15 1 62 1 68 1-91 1 30 1-50 1 45 1 16 1 20 1-17 1-21 1 35 1-24 1 14 1-63 1 25 1 39 1-49 1 41 1-7 1 7 1-57 1 44 1 87 1-39 1-26 1 65 1-107 1-15 1 62 1-74 1 15 1 21 1 39 1-146 1 52 1 27 1-45 1 44 1 12 1-51 1 29 1 64 1-49 1-18 1 7 1-11 1 16 1 0 1 65 1-27 1 8 1-34 1-2 1 36 1 43 1-86 1-19 1 42 1 25 1-74 1 83 1-45 1 36 1-62 1 73 1-100 1 26 1-53 1 88 1 40 1-104 1 48 1-45 1 43 1-88 1 43 1 11 1 0 1 31 1-85 1 14 1 7 1 89 1-46 1-4 1 33 1 27 1-30 1-17 1 125 1-105 1 26 1-32 1 61 1-53 1-11 1 29 1-36 1 55 1-65 1 69 1-26 1-72 1 74 1-2 1-44 1-12 1-35 1 44 1 11 1-13 1-67 1 173 1-75 1-14 1 21 1-44 1-4 1 140 1-175 1 77 1 27 1 41 1-10 1-7 1-3 1-87 1 133 1 16 1-73 1-42 1 46 1-73 1 64 1-18 1-10 1-16 1-2 1 34 1 20 1-1 1-120 1 62 1-12 1 59 1-66 1 11 1-49 1 18 1 11 1 84 1-44 1 34 1 45 1-58 1-30 1 38 1-13 1 23 1-27 1-67 1-17 1 107 1-71 1 8 1 48 1 70 1-59 1 57 1-75 1 10 1-46 1 68 1-10 1 26 1-27 1 6 1-8 1 23 1-54 1 19 1-40 1 54 1 0 1-38 1-4 1 50 1-10 1-9 1-15 1 3 1 31 1 12 1-28 1 25 1 36 1-41 1-55 1 38 1-6 1 21 1 13 1 41 1-11 1-48 1 0 1-6 1 49 1-137 1 128 1-80 1 82 1-71 1-4 1-26 1 7 1 59 1 45 1 33 1-73 1-47 1 85 1-112 1 41 1 51 1-63 1-65 1 116 1-47 1 2 1 52 1-46 1-56 1 2 1 10 1 40 1-28 1 78 1-80 1 59 1 58 1-74 1 54 1-14 1-66 1 21 1 72 1 49 1-106 1 71 1-103 1 23 1 27 1-56 1 27 1 46 1-7 1-4 1-5 1 42 1-53 1-25 1 81 1-29 1-66 1 65 1-99 1 24 1 12 1 26 1-4 1-25 1-1 1-29 1 155 1-138 1-6 1 37 1-16 1 49 1 7 1 27 1-56 1 8 1 18 1 15 1-35 1-47 1 2 1 54 1 41 1-39 1 70 1-113 1 10 1 54 1-24 1 7 1-20 1 41 1-69 1 43 1 44 1-58 1 24 1-2 1 17 1-23 1 11 1-3 1-1 1-9 1 18 1-89 1 26 1-7 1 35 1 0 1-25 1 33 1 16 1 31 1-46 1-15 1-15 1 41 1-49 1-13 1-1 1 11 1 14 1-18 1-16 1 59 1 4 1 37 1-22 1 35 1-54 1-38 1 57 1-38 1 45 1-9 1 35 1 6 1-9 1-48 1 8 1 25 1-75 1-8 1 67 1-41 1 28 1-23 1 9 1 54 1-49 1-6 1 59 1-48 1 59 1-68 1 16 1 42 1-5 1 39 1-62 1 19 1-52 1-16 1 47 1-14 1-70 1 66 1-48 1 25 1-15 1 57 1 50 1-29 1-22 1-41 1 48 1-35 1 28 1-36 1-57 1-12 1 57 1-18 1-11 1-4 1 52 1-2 1 7 1-38 1 79 1-62 1 9 1 0 1 30 1-49 1-14 1 29 1-110 1 70 1-19 1 30 1-23 1-3 1 81 1 23 1-116 1 120 1-29 1-47 1 9 1-2 1-48 1 26 1 93 1-46 1-21 1 13 1 70 1-36 1-68 1 31 1 0 1 27 1-60 1-71 1 93 1-36 1 39 1 25 1 10 1-43 1-13 1 21 1-40 1-23 1-58 1 101 1 8 1-5 1-49 1-22 1 35 1-50 1 47 1 18 1-8 1-5 1 9 1 16 1 25 1 13 1-55 1 25 1-84 1 92 1-33 1 12 1 38 1 17 1-8 1-97 1 80 1-45 1 13 1-29 1 122 1-88 1 60 1-75 1 2 1-37 1 30 1-9 1 25 1 15 1-27 1 78 1-48 1 22 1-19 1-26 1-25 1 29 1-37 1 47 1-37 1 56 1 22 1-36 1 20 1-16 1-34 1 39 1 29 1 64 1-48 1-85 1 157 1-148 1 84 1 10 1-67 1 71 1-15 1 22 1-41 1-33 1-33 1 119 1-5 1-126 1 47 1-52 1-15 1 60 1 16 1-59 1 26 1-58 1 33 1-76 1 147 1 13 1-39 1 43 1-55 1 37 1-60 1 39 1-45 1 45 1-43 1 50 1 24 1-82 1 76 1-55 1 19 1-35 1 38 1 27 1-70 1-35 1 12 1-4 1 39 1 8 1-43 1 31 1-51 1-2 1-3 1 8 1 39 1 1 1-10 1 60 1-79 1 9 1 55 1-43 1-15 1-27 1 64 1-62 1 81 1-32 1-42 1 91 1 17 1-79 1 25 1-32 1-12 1 41 1-27 1 18 1 4 1-13 1 64 1-24 1-9 1-69 1 83 1 21 1-36 1-35 1 8 1 58 1 45 1-81 1-35 1 40 1-14 1 34 1 22 1-45 1 44 1-33 1 18 1 11 1 7 1-62 1 53 1-65 1 26 1 31 1-2 1-30 1-90 1 89 1 37 1-34 1 64 1 2 1-56 1-16 1-45 1 59 1 28 1-54 1-34 1-16 1 97 1-71 1 62 1 46 1-71 1 14 1 31 1-8 1-58 1 4 1 52 1-88 1 61 1 40 1-70 1-28 1 74 1-10 1-25 1-39 1 35 1 15 1 22 1 5 1-93 1 20 1-38 1 49 1-21 1 28 1-13 1 104 1-9 1-26 1-107 1 64 1 37 1 40 1-28 1-76 1 50 1-51 1 87 1-24 1-29 1 1 1 52 1 5 1-49 1 36 1 14 1-59 1 40 1-16 1-31 1 9 1 59 1-38 1-48 1-7 1-17 1 7 1 25 1-8 1 56 1-1 1 11 1 11 1-139 1 19 1 100 1-77 1 19 1 19 1 5 1-7 1 72 1-25 1-43 1-31 1 45 1-1 1 12 1-36 1 13 1-42 1-11 1 35 1 41 1 14 1-45 1 4 1-4 1-7 1 19 1-38 1 53 1-44 1 41 1-8 1-29 1 25 1-19 1 86 1-77 1-18 1-4 1 81 1-5 1-96 1 79 1-50 1 52 1-21 1-39 1-18 1 131 1-64 1 49 1-36 1 44 1-35 1 48 1-54 1-4 1 11 1-31 1-25 1 18 1 6 1 28 1 28 1-58 1-11 1 19 1 47 1-19 1-61 1 20 1 28 1-27 1 15 1 51 1-13 1-62 1 55 1-11 1-80 1 9 1 9 1 59 1 5 1-39 1 15 1-50 1-4 1-12 1-25 1 61 1 11 1-63 1 53 1 11 1-11 1 2 1-85 1 151 1-112 1 1 1-20 1 57 1-11 1 2 1 8 1 37 1-101 1 7 1 45 1 2 1 24 1 35 1-80 1 26 1 10 1 22 1-23 1-10 1-40 1-17 1 68 1-27 1 49 1-18 1-6 1-41 1 91 1 71 1-154 1 34 1 5 1-18 1 36 1-17 1 84 1 1 1-66 1 2 1 30 1 35 1-119 1 33 1 20 1 62 1-15 1 8 1 26 1-70 1 4 1-91 1 127 1-87 1 48 1-17 1 21 1-8 1 26 1-53 1 15 1 67 1-25 1-67 1-26 1 76 1-63 1-56 1 26 1 52 1-47 1 27 1 74 1-79 1 12 1-19 1-42 1-13 1 35 1-15 1 99 1 11 1-48 1 4 1-27 1 42 1-49 1-33 1 54 1-7 1 15 1 69 1-47 1-20 1 0 1 13 1-64 1-10 1-23 1 164 1-49 1-56 1 4 1 9 1 18 1-57 1 50 1-15 1-85 1 98 1-56 1 41 1-34 1 47 1-59 1 9 1 58 1 15 1 15 1 9 1-83 1-31 1 137 1-45 1-34 1-22 1 87 1-47 1 20 1-17 1 55 1-77 1 62 1-73 1 50 1-22 1-29 1 6 1-33 1 55 1 4 1-25 1-32 1 60 1-16 1 56 1-97 1 88 1-37 1-41 1 109 1-87 1 38 1-53 1-21 1 73 1-96 1-32 1 85 1-12 1-29 1 50 1 15 1-69 1 66 1-56 1 79 1-61 1 136 1-63 1 77 1-162 1 86 1 8 1-26 1-19 1-13 1-70 1 31 1 57 1-21 1 50 1-51 1 37 1-21 1 73 1-87 1 37 1-53 1 51 1 38 1-100 1 129 1-167 1 35 1 19 1-15 1 22 1 18 1 35 1-29 1 78 1-102 1 47 1-14 1 20 1 23 1-47 1-7 1-10 1-5 1-12 1-11 1 77 1-63 1 102 1-21 1 21 1-23 1-36 1-51 1 6 1 17 1 48 1-88 1 42 1-52 1 49 1-60 1 107 1-80 1-9 1 62 1-10 1-64 1 10 1 38 1 24 1 16 1 14 1-113 1 66 1-8 1-27 1 0 1 26 1-56 1 133 1-86 1 42 1 20 1-40 1-20 1 39 1-15 1 27 1-9 1-24 1 64 1 21 1-55 1-52 1-15 1 3 1-26 1 59 1 19 1 8 1-60 1-16 1 55 1-116 1 68 1 86 1 32 1-62 1-11 1 75 1-48 1 3 1 1 1-54 1 98 1-74 1 78 1-36 1 13 1-94 1 94 1-73 1 31 1-11 1 43 1 15 1-31 1 30 1-70 1 47 1-71 1 65 1 59 1-39 1 15 1-59 1 110 1-69 1 47 1 6 1-84 1 46 1-109 1 21 1 5 1 2 1-8 1-14 1 85 1-17 1 27 1-20 1-14 1 68 1-45 1 31 1-57 1 71 1-18 1-15 1-49 1 18 1-44 1 17 1 88 1 5 1-64 1-31 1 19 1 31 1-47 1 28 1 11 1-38 1 30 1 56 1-12 1-28 1 50 1 19 1-101 1-25 1 38 1-2 1 20 1-34 1 48 1-31 1-36 1 48 1-15 1-12 1-57 1 49 1 42 1-22 1-22 1-51 1-16 1 87 1-37 1-22 1 40 1-18 1 2 1-50 1-6 1 80 1-28 1 41 1-44 1-15 1 114 1-48 1-9 1-62 1 28 1-19 1 29 1-23 1-24 1 35 1-17 1 23 1 49 1-57 1 19 1 97 1-38 1-23 1-96 1 39 1-52 1 155 1-70 1-36 1 52 1-36 1 27 1-66 1 39 1 63 1-116 1 27 1 6 1 90 1-119 1 71 1-62 1 99 1-81 1 65 1-22 1-1 1 40 1-59 1-59 1-15 1 62 1-16 1 64 1 18 1-44 1-23 1-20 1 120 1-92 1 21 1 2 1 67 1 20 1-120 1 47 1-48 1 79 1-59 1 24 1 45 1-29 1-56 1 64 1-61 1 36 1 65 1-48 1 31 1-83 1 115 1 6 1-41 1-56 1 49 1-12 1-25 1-7 1-17 1 38 1-53 1-3 1 71 1-18 1-19 1-14 1-88 1 30 1 22 1 146 1-46 1-89 1 56 1 3 1-16 1-35 1 14 1 8 1 70 1-87 1-46 1 20 1 62 1 26 1-98 1-36 1 74 1-5 1-3 1 35 1-16 1-11 1-10 1-26 1-6 1 46 1 60 1-43 1-13 1-36 1 2 1 17 1-3 1 16 1-8 1-3 1 30 1 34 1-43 1 20 1-10 1-18 1 85 1-25 1-59 1 50 1-26 1-61 1 18 1 10 1-11 1 52 1-31 1 94 1-19 1-130 1 12 1 66 1-44 1 119 1-90 1-36 1-7 1 20 1-9 1-16 1-28 1 89 1-41 1-10 1 57 1-100 1 133 1-57 1-11 1-10 1 48 1-34 1-16 1 54 1-64 1 99 1-39 1-90 1 107 1-45 1 4 1 5 1-23 1 96 1-65 1 48 1-32 1-36 1 16 1-5 1-139 1 72 1 34 1-18 1 6 1 4 1 36 1-28 1 20 1-42 1 14 1-22 1-60 1 133 1-61 1 19 1 0 1-60 1 75 1-9 1-46 1 98 1-30 1 14 1-19 1-24 1 58 1-90 1 5 1 81 1-34 1 45" stroke="#008b00"/>
<path transform="translate(104.95 2.20) scale(0.286650)" stroke-width="9.070" d="M0 2099 l1-147 1-57 1-177 1 35 1-2 1 16 1-40 1 58 1-51 1 19 1-18 1 94 1-131 1 63 1-69 1 73 1-49 1 38 1-19 1-12 1 30 1-73 1 25 1-64 1 13 1 1 1 28 1 45 1-11 1 23 1 6 1 54 1-120 1 26 1-163 1 127 1 46 1-36 1 2 1-41 1-15 1 42 1 30 1-125 1 45 1-14 1 76 1-101 1 153 1-85 1 6 1-39 1-5 1 85 1 1 1-110 1 50 1 47 1-110 1-79 1 99 1-10 1-14 1 86 1-36 1-54 1 60 1-32 1 38 1-8 1-13 1-25 1-52 1 91 1-7 1 46 1-20 1-46 1 11 1 70 1-131 1-20 1 102 1 8 1-18 1 14 1-71 1 122 1-25 1-80 1 65 1-31 1-59 1 29 1 29 1 1 1-157 1 165 1-20 1 29 1-131 1 202 1-157 1 21 1-49 1 51 1 42 1-40 1-13 1 50 1-18 1-13 1-10 1 13 1 28 1-140 1 141 1-121 1 6 1 51 1 20 1-72 1 67 1 1 1-83 1 15 1-40 1-81 1 97 1-4 1 39 1 8 1-20 1-82 1 52 1 16 1-42 1-5 1-2 1-102 1-17 1 65 1-145 1 140 1-99 1-10 1 81 1-98 1 19 1-88 1 51 1 169 1 52 1 45 1-154 1 9 1-106 1 142 1 33 1-76 1-30 1-12 1 146 1-133 1 94 1-34 1 27 1-200 1 61 1-65 1 247 1-206 1 13 1 97 1 11 1-33 1 110 1-137 1 4 1-89 1 8 1 56 1-14 1-30 1 55 1-183 1 96 1 86 1 1 1-48 1 34 1-120 1 60 1 19 1-29 1-81 1 37 1-32 1 73 1 87 1-31 1 8 1 67 1-116 1-111 1 70 1 88 1-43 1 97 1-20 1 96 1-84 1-133 1 153 1-20 1 140 1-89 1-58 1-194 1 149 1-217 1 223 1 19 1-115 1-59 1 117 1 66 1-253 1 212 1-27 1 38 1-68 1 97 1-132 1 49 1 38 1 19 1 18 1 2 1-72 1-54 1 131 1 75 1-81 1-86 1 6 1 24 1 15 1-86 1 55 1-37 1-46 1 81 1-112 1 130 1-58 1 54 1-66 1 17 1 104 1-80 1 75 1-7 1-20 1 35 1-22 1-58 1-22 1-14 1 34 1-19 1 131 1-138 1 222 1-118 1-36 1-17 1 5 1 32 1-151 1 216 1-206 1 277 1-223 1-19 1 146 1-199 1 194 1 46 1-132 1 31 1 3 1-86 1-40 1 84 1-54 1 239 1-177 1-75 1 208 1-105 1 101 1-33 1 84 1-139 1-59 1 43 1-67 1 43 1 27 1 12 1 60 1-87 1 39 1 38 1 42 1-118 1 37 1-59 1-8 1 95 1-96 1 53 1-74 1 91 1-17 1 25 1 20 1 18 1 79 1-106 1 30 1 44 1-92 1 197 1-60 1-116 1 89 1-7 1-72 1-2 1 67 1-6 1 56 1-104 1-31 1 4 1-118 1 105 1 93 1-35 1-166 1 65 1 85 1 94 1-113 1 82 1-85 1-102 1 93 1 12 1-102 1 119 1-190 1 173 1-136 1 40 1 100 1-94 1-43 1 33 1 21 1 63 1 16 1 249 1-145 1-90 1-65 1 45 1 136 1-49 1 169 1-185 1-18 1-26 1 124 1-132 1 131 1-6 1-85 1 147 1-70 1-68 1-8 1 35 1-7 1-110 1 6 1 121 1-34 1-68 1 108 1-27 1 30 1-123 1 99 1-10 1-96 1 241 1-64 1-32 1-6 1-35 1 138 1-65 1-92 1 67 1-7 1-192 1 164 1-142 1 141 1-185 1 240 1-87 1 78 1-7 1-93 1 85 1-79 1-22 1 66 1-9 1-155 1 200 1 59 1-148 1 154 1-232 1 113 1 138 1-173 1-8 1 29 1 15 1 8 1 17 1-120 1-12 1 175 1-71 1 14 1-6 1 148 1-66 1-77 1-80 1 119 1 56 1-24 1-84 1 53 1-174 1 185 1-17 1 89 1-176 1 185 1-101 1-57 1 27 1-44 1 49 1 11 1 45 1 31 1-113 1 81 1-134 1-70 1 221 1-50 1 38 1-173 1 99 1-156 1 247 1-103 1 57 1-97 1 31 1-33 1 57 1-20 1 28 1-110 1 119 1 3 1 86 1-52 1-74 1 63 1-197 1 199 1-105 1 22 1 37 1-142 1 138 1-150 1 200 1 148 1-7 1-315 1 155 1 32 1 32 1-35 1-55 1-136 1 39 1 136 1-27 1-164 1 177 1 32 1-118 1 50 1-35 1 86 1 0 1-106 1 48 1 11 1 17 1-150 1 145 1-135 1 138 1-40 1-51 1 36 1 83 1-71 1 71 1-91 1-18 1-5 1 100 1 27 1-95 1 79 1 23 1-27 1 5 1-19 1-77 1 135 1-64 1-36 1 84 1-193 1 150 1-117 1 204 1 25 1-166 1 124 1 35 1-186 1-56 1 88 1-109 1 207 1 3 1-83 1-1 1 3 1-86 1-19 1 162 1-139 1 101 1 57 1-200 1 146 1-5 1-66 1-50 1 106 1 56 1-41 1-58 1 44 1 55 1 43 1 78 1-191 1 122 1-116 1 35 1-85 1 81 1 5 1-55 1-29 1 170 1-211 1 104 1-101 1-131 1 188 1-57 1 180 1-42 1-67 1-11 1 35 1-9 1-4 1-79 1 224 1-3 1-100 1 6 1-88 1-131 1 168 1 98 1-16 1-168 1 38 1 74 1-55 1-75 1 87 1 85 1-32 1 39 1-30 1-52 1 30 1-31 1-58 1 41 1-91 1 162 1-38 1 97 1-38 1 52 1-298 1 262 1-79 1-24 1-78 1 52 1 107 1-50 1 78 1-8 1 90 1-161 1 48 1-77 1-13 1 105 1-24 1 2 1 17 1-88 1 165 1-109 1-41 1 173 1 61 1-195 1-63 1-15 1-72 1 84 1 144 1 68 1-85 1-2 1 40 1-86 1 16 1-136 1 216 1 86 1-54 1-76 1 12 1-179 1 28 1 12 1 163 1-46 1-112 1-37 1 22 1 21 1 41 1 55 1-102 1-6 1 100 1 41 1-42 1-170 1 87 1-16 1 10 1-22 1 62 1 98 1-3 1-68 1-24 1-75 1 152 1-204 1 161 1 9 1-89 1 71 1-10 1-26 1 103 1 74 1-187 1 82 1-105 1-87 1 223 1-87 1-100 1 89 1-24 1 45 1 15 1-166 1-12 1 67 1 40 1-56 1 62 1-43 1 109 1-71 1-31 1 57 1-41 1-8 1 91 1 0 1-144 1 65 1 114 1-93 1 40 1-58 1-61 1 63 1 29 1-40 1 90 1-62 1-138 1 168 1 10 1-82 1 136 1-72 1 97 1-17 1-38 1-106 1 114 1-23 1-184 1 271 1-253 1 24 1 183 1-86 1 24 1-66 1 98 1 26 1-38 1-47 1 19 1 21 1-45 1 8 1 83 1 104 1-122 1 9 1 97 1-136 1-37 1-43 1 11 1 143 1-56 1-62 1 50 1 77 1-143 1-31 1-57 1 180 1 123 1-177 1 91 1-13 1-28 1 28 1 15 1 41 1-138 1 17 1-48 1 124 1-62 1-31 1 19 1-77 1 83 1-49 1 73 1 11 1-154 1 61 1 77 1-7 1-31 1 68 1-165 1 186 1-40 1-40 1-80 1 202 1-118 1 8 1-66 1 44 1-19 1 17 1-1 1 30 1 46 1-23 1-116 1 147 1-59 1 70 1-106 1 15 1 68 1 41 1-93 1-39 1 26 1-47 1 31 1 3 1 71 1 7 1 17 1-62 1-147 1 241 1-132 1 62 1 173 1-231 1 86 1 55 1-91 1 20 1-6 1 167 1-111 1-69 1 24 1 129 1-183 1 13 1 20 1-116 1 259 1 10 1-13 1-51 1 11 1 9 1-7 1-84 1 29 1 17 1 37 1-100 1 121 1-170 1 63 1-134 1 124 1-76 1 197 1-252 1 174 1-30 1-28 1-110 1 65 1-50 1 26 1 69 1-66 1 62 1-3 1 33 1-7 1 80 1-7 1 4 1 13 1-160 1-44 1 134 1-102 1 175 1-74 1-165 1 172 1-43 1-28 1-29 1 142 1-257 1 193 1-36 1 51 1-88 1 62 1 43 1-106 1-47 1 95 1 78 1-97 1 54 1 23 1-2 1 14 1 48 1-135 1 8 1 121 1-152 1-6 1-144 1 172 1 86 1-33 1 9 1 18 1-72 1 68 1-87 1 12 1-15 1 132 1-62 1-43 1 79 1-108 1-4 1-143 1 181 1-95 1 91 1 67 1 56 1-105 1-27 1 63 1 91 1-167 1 3 1-1 1-38 1-59 1 148 1-55 1 9 1 22 1-20 1 57 1-26 1-86 1-24 1 291 1-88 1-98 1 62 1-34 1 190 1-140 1-185 1 92 1 68 1-134 1 187 1-111 1 112 1-128 1 51 1 75 1 79 1-134 1-68 1 23 1 81 1-53 1 24 1 54 1-72 1 79 1-10 1-87 1 48 1 25 1-95 1 57 1-147 1 182 1-180 1-65 1 296 1-172 1 38 1 61 1 23 1-5 1-76 1-53 1 56 1 114 1-48 1 97 1-110 1-92 1 132 1-129 1 70 1-8 1 42 1-130 1 2 1 36 1 3 1 98 1-123 1 110 1-127 1-132 1 173 1 57 1-82 1 97 1-18 1-15 1 37 1-47 1-10 1 117 1-155 1 101 1-206 1 264 1-216 1 135 1-100 1 119 1-111 1-16 1 149 1 57 1-139 1 151 1-103 1-31 1 60 1 70 1-60 1-35 1-65 1 93 1-16 1-102 1-55 1 144 1 115 1-166 1 45 1-17 1 80 1-35 1-167 1 182 1 33 1-93 1 63 1-10 1-3 1-110 1 10 1 48 1 8 1 69 1 8 1-109 1-87 1-96 1 416 1-102 1-239 1 123 1-38 1 10 1-103 1 113 1-21 1-28 1-4 1-25 1 38 1-7 1 128 1-11 1-10 1-68 1 3 1 49 1 20 1 96 1-38 1-74 1-79 1 34 1 85 1 22 1-16 1-39 1 11 1-88 1-9 1 42 1-82 1 155 1 75 1-145 1-58 1 41 1 76 1 39 1-164 1 109 1-90 1 156 1-85 1 40 1-43 1-53 1-149 1 263 1-82 1-51 1 55 1 13 1 138 1-81 1-178 1 209 1-70 1-83 1 76 1-58 1 7 1 2 1 57 1 70 1-49 1-120 1 98 1 163 1-197 1 96 1-29 1-187 1 159 1 22 1-76 1-122 1 112 1 43 1 32 1-48 1-19 1 105 1-28 1-79 1 173 1-83 1-166 1 70 1 4 1 1 1-111 1 128 1 93 1-216 1 45 1 126 1-176 1 42 1 117 1 28 1 6 1-14 1 1 1-82 1 56 1-74 1 41 1 53 1-122 1-26 1 3 1 150 1-86 1 43 1-51 1-64 1 133 1-73 1 30 1-102 1 42 1 52 1 51 1-70 1 46 1-82 1 121 1-42 1 36 1-8 1-21 1-58 1-48 1 117 1-22 1 0 1-6 1-121 1 91 1 120 1-77 1 78 1-209 1 121 1 75 1-73 1-3 1-45 1 102 1 20 1-203 1 161 1-1 1 191 1-231 1-70 1 4 1 57 1-103 1 229 1-100 1 55 1-114 1 23 1-16 1 91 1 113 1-189 1 137 1-167 1 54 1 86 1-177 1 47 1 89 1-110 1 153 1 51 1 42 1-199 1 33 1 37 1-51 1 83 1 29 1-105 1 15 1 24 1-163 1 64 1 77 1-87 1-55 1 128 1-66 1 55 1-6 1-23 1 22 1 72 1-75 1 8 1 89 1-109 1 89 1-73 1 58 1-8 1-23 1-403 1 314 1-30 1 59 1 37 1 77 1-86 1-30 1 54 1 5 1 80 1 48 1-197 1 73 1-24 1-89 1 186 1-92 1-81 1 44 1 20 1-4 1-79 1 19 1 95 1-92 1 50 1 99 1-71 1 41 1 16 1-72 1 143 1-168 1 61 1 17 1-113 1 107 1 26 1-118 1 120 1-88 1-14 1 13 1-42 1 101 1 32 1 144 1-156 1 22 1-88 1-25 1 57 1-31 1-136 1 177 1-213 1 174 1 52 1 13 1 4 1-165 1 87 1 133 1-53 1 71 1-67 1-30 1-88 1 124 1-53 1 112 1-120 1 19 1-22 1 69 1-40 1-140 1 51 1-104 1 231 1 11 1-123 1 110 1-109 1-83 1 76 1 0 1 38 1 114 1-125 1-169 1 184 1 25 1-124 1 110 1-92 1 0 1 55 1-13 1 93 1-42 1-34 1 70 1-67 1-107 1 27 1 22 1 119 1 44 1-125 1-27 1-56 1 160 1-101 1-62 1 98 1 13 1 30 1-6 1-87 1 170 1-166 1 64 1-172 1 52 1 68 1-57 1 88 1 24 1-12 1-64 1 31 1 99 1-102 1 36 1 102 1-129 1 94 1-58 1 43 1-17 1-110 1 40 1-23 1 55 1 93 1-178 1 104 1-29 1-22 1-14 1-70 1 136 1 8 1-40 1-77 1 54 1-43 1 16 1 63 1-63 1 77 1-5 1-111 1 41 1 101 1-42 1 10 1 4 1 12 1-109 1 70 1-24 1 64 1-23 1 74 1-71 1 75 1-72 1-78 1 24 1 143 1-114 1 73 1-194 1 318 1-287 1 85 1-3 1 199 1-269 1 120 1-92 1-102 1 209 1-88 1 28 1 72 1 9 1 49 1-121 1-19 1-4 1-73 1 152 1 2 1-115 1 8 1-44 1 29 1 57 1-103 1 70 1-35 1-7 1 62 1-5 1-11 1-9 1 58 1 34 1-39 1-11 1 12 1-43 1-127 1 282 1-160 1-118 1 78 1-42 1 140 1-152 1 176 1-112 1-29 1 46 1 62 1-30 1-6 1 59 1 13 1 3 1-179 1 153 1-77 1-40 1 24 1 33 1 34 1-2 1 63 1-76 1-45 1 61 1 26 1-77 1 57 1 20 1 16 1 136 1-207 1-57 1 81 1 16 1 27 1-144 1 155 1-138 1 113 1-120 1-1 1 40 1 72 1 24 1-59 1 37 1-2 1-29 1 80 1-217 1 60 1 154 1-139 1 22 1 98 1-128 1 38 1-34 1-38 1 100 1 21 1-167 1 148 1 75 1-201 1 52 1-7 1 30 1 126 1-167 1-27 1 124 1-24 1-45 1 51 1-150 1 146 1-25 1 128 1-214 1 117 1 59 1-17 1-37 1 175 1-202 1-55 1 39 1-12 1 0 1 68 1 13 1 11 1 13 1 32 1-118 1 136 1-153 1 63 1 155 1-30 1 16 1-142 1-12 1 13 1-77 1 159 1 42 1-127 1 65 1 34 1-114 1 119 1-56 1-2 1-57 1 108 1-52 1-1 1 38 1-165 1 141 1 36 1 114 1-261 1 95 1 34 1 30 1 12 1-89 1-65 1 115 1-48 1 19 1-3 1 37 1-29 1-27 1-127 1 97 1 37 1 129 1-104 1 96 1-94 1-45 1 77 1-78 1-5 1 84 1 29 1-141 1 130 1-124 1 21 1 101 1-43 1 52 1-150 1 174 1-89 1 103 1-48 1-29 1-57 1 79 1 29 1 31 1-60 1-21 1 100 1-92 1 35 1-44 1 43 1-4 1-86 1 94 1 18 1-47 1 44 1-98 1 79 1 55 1-20 1-122 1 119 1-83 1 74 1-107 1 56 1 1 1 32 1-106 1 15 1 116 1-90 1 93 1 37 1-88 1-7 1-9 1-4 1 10 1-78 1 68 1-84 1 155 1-10 1 103 1-140 1-21 1-22 1-7 1 52 1-14 1 22 1-76 1 34 1-68 1 58 1-14 1 38 1-66 1-47 1 29 1-53 1-38 1 5 1 64 1-57 1 36 1-18 1-70 1 83 1-10 1 28 1-31 1-61 1-10 1-29 1 86 1-8 1-66 1 42 1 56 1-16 1-108 1 104 1-32 1 5 1-45 1-12 1 23 1 38 1 4 1 22 1 18 1-23 1-5 1-31 1 43 1 51 1-98 1 127 1-111 1 27 1-7 1-2 1 94 1-46 1-6 1 1 1-86 1 119 1 63 1-71 1-18 1 30 1-27 1 56 1-49 1-5 1-67 1 7 1-6 1 78 1-5 1-32 1-4 1 96 1-35 1 34 1-159 1 135 1-40 1-31 1 1 1 49 1-104 1 44 1 65 1 35 1-31 1-65 1-4 1 30 1-31 1 29 1 11 1-43 1 59 1-65 1 7 1 62 1-123 1-12 1 144 1-98 1 105 1-14 1 79 1-149 1 50 1 37 1-35 1 128 1 25 1-233 1 41 1-15 1 42 1 63 1 46 1-109 1 101 1-66 1-44 1 89 1 60 1-117 1 15 1-2 1 3 1 21 1-47 1 27 1-103 1 38 1 57 1 64 1-28 1-5 1-35 1 69 1-56 1 142 1 1 1-173 1 40 1-66 1 118 1-53 1-9 1-65 1 117 1-39 1 14 1-31 1-2 1-14 1 48 1-31 1 15 1 67 1-77 1 13 1 38 1-33 1-151 1 126 1-16 1 56 1-80 1 64 1-53 1 67 1 50 1-43 1-38 1 38 1 2 1 21 1-53 1 9 1 32 1-135 1 81 1 43 1-123 1 89 1 94 1-72 1 11 1-70 1 64 1 20 1 20 1 9 1-65 1 7 1 36 1-77 1-30 1 11 1 48 1 31 1-34 1-61 1-1 1 99 1-27 1 40 1 47 1-34 1-87 1 91 1-47 1-25 1-79 1 97 1 7 1-37 1 62 1-55 1 14 1-59 1 170 1-175 1 100 1-8 1 3 1 10 1-62 1 86 1-20 1 30 1-11 1-90 1 68 1 23 1-46 1-25 1 3 1 31 1-71 1-13 1 63 1-119 1 136 1 40 1-50 1-38 1 44 1 82 1-24 1-118 1-6 1 15 1-41 1 44 1 26 1 124 1-34 1-38 1-96 1 114 1-4 1-29 1-6 1-20 1-74 1 95 1 59 1-31 1-52 1 1 1-29 1 21 1-9 1-3 1 30 1 20 1-46 1 54 1-47 1 70 1-141 1 34 1 71 1-47 1 4 1-2 1 0 1 24 1-35 1 65 1-38 1 7 1 10 1 103 1-86 1 75 1-110 1 20 1-35 1-28 1 15 1-11 1 32 1-10 1 101 1-125 1-47 1 109 1 34 1-27 1-99 1 0 1-14 1 73 1 4 1-48 1 86 1 2 1-126 1 116 1 51 1-131 1 54 1-31 1-39 1 61 1-8 1 44 1-29 1-56 1 88 1-54 1-5 1 49 1 66 1-72 1-16 1-10 1-32 1 29 1 37 1 52 1-24 1-33 1 28 1-15 1 17 1-45 1 18 1-82 1 124 1-23 1 11 1-86 1-47 1-38 1 51 1 33 1 11 1 18 1 52 1 6 1-71 1 5 1 12 1 25 1 44 1-25 1-77 1-15 1 79 1-70 1-9 1 46 1-58 1-37 1 115 1-17 1-77 1 102 1-16 1-40 1-23 1 37 1-9 1-4 1-27 1 83 1-87 1-29 1 0 1-10 1-11 1-23 1 90 1-67 1 95 1-13 1 10 1-8 1-20 1 26 1-29 1-4 1-5 1 40 1-13 1-109 1 60 1-109 1 118 1 37 1 13 1-55 1 13 1 10 1-31 1 83 1 55 1-217 1 118 1-20 1-23 1 44 1-33 1 60 1-6 1-64 1-10 1 17 1-9 1 32 1-60 1-28 1 84 1 68 1-106 1 21 1-37 1 167 1-168 1-71 1 34 1 88 1 70 1-131 1 88 1-84 1-45 1 138 1-89 1 14 1-23 1-42 1 176 1-95 1 30 1-37 1 7 1 84 1-51 1 119 1-145 1-73 1 104 1 0 1-41 1 48 1-35 1 21 1 2 1 23 1-63 1 11 1-29 1 13 1-8 1 60 1-60 1-50 1 207 1-46 1-113 1 21 1-2 1 54 1-14 1-40 1 40 1-63 1 42 1 53 1-56 1 11 1-72 1 45 1-42 1 25 1 10 1 39 1 43 1-79 1-76 1 118 1-12 1 23 1 87 1-134 1 72 1-58 1 12 1-47 1-23 1 58 1-36 1 56 1-28 1 61 1-11 1-95 1 80 1 34 1 32 1-87 1-38 1 56 1 27 1-52 1-21 1 29 1-22 1 50 1 18 1-68 1-86 1 124 1 4 1-32 1-94 1 1 1 105 1-2 1-23 1 81 1-122 1 31 1 19 1 49 1-42 1 54 1 6 1 16 1-54 1-6 1 1 1 6 1-24 1 26 1 5 1-71 1 34 1-12 1-16 1-9 1-39 1-2 1 159 1-90 1-14 1-29 1 79 1-106 1 19 1 109 1-92 1 29 1 41 1-81 1 69 1-102 1 180 1-127 1 13 1 65 1-179 1 101 1 93 1-148 1 110 1-67 1 16 1-33 1 95 1-67 1 3 1 56 1 9 1-13 1 100 1-72 1-48 1 48 1-31 1 43 1-95 1 42 1 20 1 8 1-24 1 7 1-59 1 61 1-8 1-30 1 22 1-56 1-20 1 148 1-166 1 3 1 54 1 29 1-38 1-25 1 57 1 88 1-92 1-33 1 48 1-63 1 26 1 18 1-16 1 10 1-10 1 89 1-127 1 95 1 78 1-154 1 58 1 23 1-96 1 82 1-27 1 96 1-116 1-4 1 66 1-98 1 65 1 51 1-21 1-68 1 22 1 32 1-88 1 72 1-20 1 7 1 60 1-65 1-10 1 16 1-23 1-42 1 17 1-21 1 80 1 82 1-65 1-106 1 100 1 13 1 11 1-95 1 69 1-36 1-57 1 36 1 9 1 50 1-53 1 53 1 14 1-46 1-40 1-13 1 64 1 8 1-10 1 16 1-18 1 61 1-158 1 114 1 43 1-22 1-56 1 39 1-14 1-54 1 38 1 20 1-45 1-17 1 3 1 18 1 29 1 6 1-20 1 32 1-114 1 22 1-18 1 114 1-51 1 88 1-37 1-7 1 4 1 12 1-67 1 48 1-23 1 43 1-58 1 16 1 84 1-99 1 5 1-9 1-28 1 115 1-6 1-74 1-13 1 49 1-78 1 27 1-10 1 2 1 69 1-2 1-56 1 20 1-45 1-61 1 82 1 28 1-61 1 49 1-12 1 86 1-87 1 17 1 13 1 56 1-59 1-66 1 32 1 74 1-72 1 50 1-19 1 65 1-59 1 17 1-35 1 57 1-1 1 22 1-42 1 10 1 40 1-107 1 8 1 19 1-34 1 96 1-7 1-72 1 29 1 47 1-64 1-18 1-7 1 104 1-47 1 32 1-103 1-2 1 30 1 36 1 3 1 2 1 2 1 12 1-43 1-37 1 49 1 41 1-15 1 101 1-146 1 2 1 84 1-24 1-6 1 74 1-70 1-44 1-16 1 115 1-103 1 2 1-48 1 104 1 8 1-66 1-33 1 51 1-12 1 117 1-117 1-62 1 85 1 41 1-93 1 58 1 21 1-127 1 105 1-92 1 22 1-4 1 45 1-114 1 19 1 122 1-9 1-30 1 10 1 53 1-54 1 5 1-47 1 78 1-54 1 48 1 23 1-124 1 87 1 69 1-34 1-63 1-95 1 27 1 67 1 28 1-55 1 25 1 51 1-22 1 31 1 16 1-134 1 151 1-52 1 42 1-45 1-13 1-16 1 47 1-38 1-54 1 59 1-84 1 116 1 14 1-34 1 68 1 48 1-103 1 7 1-33 1 37 1 64 1-73 1 25 1-82 1 19 1 46 1-32 1 4 1-6 1-11 1 103 1-74 1 22 1-4 1-36 1-48 1 65 1 98 1-49 1-115 1 126 1-13 1 12 1-42 1-24 1 36 1-71 1 91 1-28 1-41 1-42 1 80 1 17 1-24 1-60 1 48 1-47 1 102 1-1 1-3 1-60 1-5 1 60 1 7 1 32 1-80 1-4 1-55 1 51 1-1 1 60 1 16 1-30 1-47 1-11 1 16 1 28 1 11 1-76 1-35 1 101 1-38 1 13 1-8 1 58 1-69 1 59 1-108 1 65 1-83 1 107 1 47 1-37 1-25 1-7 1-14 1-2 1-91 1 86 1 20 1 63 1-90 1-10 1 48 1-23 1 5 1 9 1-21 1 65 1 8 1-50 1-7 1-27 1 3 1 28 1-50 1 58 1 17 1 30 1-87 1-33 1 116 1-39 1 41 1 20 1-135 1-30 1 39 1 95 1 14 1 71 1-182 1-5 1 76 1 16 1-92 1 55 1 8 1 18 1-114 1 114 1 11 1-29 1-5 1-14 1 5 1 17 1 17 1-46 1-50 1-2 1 1 1 88 1 61 1-51 1-47 1 138 1-134 1 84 1-60 1 69 1-21 1 1 1-114 1 69 1 45 1-24 1-19 1-64 1 75 1-20 1-57 1 65 1 60 1-135 1 14 1 13 1 52 1 120 1 0 1-87 1 37 1-38 1-55 1-33 1-48 1 27 1 53 1-63 1 117 1-18 1 18 1-102 1 67 1-27 1 48 1-37 1-33 1 102 1-15 1-76 1 67 1-101 1 38 1 60 1-1 1-69 1 48 1-9 1 110 1-106 1 39 1-54 1 14 1 3 1-23 1 53 1-31 1-68 1 75 1-50 1-37 1 64 1-3 1 146 1-160 1-16 1 44 1-20 1-8 1 54 1-110 1 94 1-21 1 10 1-24 1 48 1-32 1-84 1 49 1 17 1 20 1-2 1 41 1 16 1 33 1-70 1-2 1-19 1 8 1-15 1 29 1-9 1 46 1-116 1 36 1 64 1 18 1-79 1 28 1-36 1 90 1-71 1 57 1-51 1-43 1-65 1 144 1-36 1 6 1-4 1-45 1 74 1-60 1 22 1 37 1 13 1-68 1 36 1-25 1 67 1-23 1-61 1 0 1 30 1 35 1-94 1 22 1 91 1 26 1-3 1-112 1 78 1-19 1 23 1-82 1 64 1-17 1 6 1 112 1-104 1-37 1-10 1 80 1-91 1 67 1 52 1-97 1 15 1-40 1 119 1-175 1 164 1-68 1-64 1 40 1 58 1 22 1-94 1 45 1-59 1 145 1-53 1-113 1 67 1 137 1-126 1-47 1 121 1-23 1-95 1 118 1 5 1-103 1 18 1 9 1-20 1 43 1-17 1 32 1-21" stroke="#00ffff"/>
<path transform="translate(104.95 2.20) scale(0.286650)" stroke-width="9.070" d="M0 2099 l1-273 1 124 1-50 1-47 1 83 1-57 1 21 1 6 1-5 1 10 1 15 1-39 1 9 1-22 1-29 1 17 1 45 1-9 1-6 1-13 1 20 1-75 1-2 1 3 1 100 1-71 1 1 1-67 1 4 1-12 1 24 1 74 1-75 1-40 1 94 1-71 1-42 1 117 1-12 1 12 1-49 1 53 1-88 1 106 1-19 1-22 1 18 1-67 1 52 1 11 1-26 1 38 1-47 1 16 1-18 1 51 1-104 1 26 1 46 1-15 1 50 1-91 1 47 1-51 1 43 1-64 1 58 1-7 1-49 1 48 1-91 1 3 1 107 1-95 1 13 1 13 1 70 1-78 1 18 1-65 1-1 1 91 1-6 1-53 1 31 1-41 1 79 1-63 1-16 1 64 1-44 1-67 1 4 1-100 1 77 1 11 1 48 1-88 1 51 1-10 1 26 1-68 1-7 1-21 1 36 1-100 1-9 1-6 1 57 1-70 1 4 1 41 1-52 1 34 1-11 1-123 1 1 1-24 1 17 1-10 1 25 1 23 1-37 1 56 1-53 1 34 1-22 1 16 1-97 1-3 1 90 1-121 1 64 1-20 1-33 1 121 1-93 1-86 1 87 1-72 1 63 1 33 1-71 1 49 1 1 1-32 1-23 1-8 1-3 1-31 1 41 1 31 1-17 1-7 1 1 1 17 1-28 1 13 1-3 1 55 1-10 1-20 1-8 1-49 1-39 1 28 1 93 1-21 1-55 1 24 1 13 1 55 1-26 1-32 1 56 1-77 1 3 1 65 1-11 1-96 1 58 1-4 1 4 1 13 1-7 1-10 1 5 1 47 1-59 1-7 1 17 1-53 1 74 1-82 1 84 1 1 1-27 1 34 1-79 1 5 1 71 1-16 1 13 1 49 1-55 1 41 1-41 1-11 1 113 1-76 1-81 1-15 1-47 1 74 1 58 1-38 1-8 1 57 1-51 1-5 1-40 1 41 1-38 1 28 1-17 1-4 1 10 1 9 1 21 1-51 1-41 1 55 1 29 1-10 1 35 1-59 1-10 1 127 1-106 1 81 1-57 1-56 1 79 1-18 1 30 1 94 1-161 1 69 1 92 1-135 1 37 1 13 1-23 1-56 1 13 1 62 1-23 1 34 1-88 1 16 1-13 1 53 1-66 1-15 1 76 1-19 1 31 1 46 1-23 1-4 1-4 1-10 1-62 1-31 1 22 1-5 1 27 1 0 1 33 1-2 1-33 1-30 1 11 1 87 1-54 1 43 1 24 1-30 1-56 1 19 1 11 1 31 1-22 1 67 1-98 1-106 1 101 1 106 1-77 1-3 1-37 1 6 1-30 1 34 1 13 1 20 1-4 1-23 1 19 1-53 1 19 1 28 1 114 1-74 1-63 1 48 1-13 1-16 1 66 1-11 1-39 1 7 1-25 1 67 1-135 1-7 1 41 1 28 1 102 1-118 1 44 1 60 1-17 1-56 1 20 1-36 1-48 1 72 1 13 1-33 1-42 1 74 1-16 1 3 1-71 1 82 1-68 1 88 1 4 1-34 1-7 1 50 1 32 1-20 1 67 1-88 1 19 1-3 1-46 1 53 1 16 1-40 1 3 1 62 1-75 1-39 1-19 1 70 1 31 1 53 1 3 1-112 1-9 1 70 1-23 1-28 1 21 1-41 1 18 1 78 1-48 1 10 1 64 1-98 1-118 1 45 1 47 1-19 1-16 1 32 1 24 1 39 1 10 1-72 1 54 1-17 1-55 1 9 1 36 1 18 1-20 1 21 1-56 1 50 1-51 1-13 1 106 1-67 1-17 1-50 1 21 1-11 1-13 1-30 1 63 1-67 1 35 1 121 1-87 1-33 1 1 1 56 1-10 1-27 1 49 1-58 1-49 1 98 1-116 1 3 1 72 1 14 1-19 1-16 1-12 1 34 1 39 1-77 1 87 1-1 1-12 1-48 1 13 1 0 1-25 1 54 1 56 1-56 1-19 1-9 1 34 1 26 1-19 1 15 1-49 1 17 1-77 1 18 1 49 1-83 1 79 1-54 1-3 1 61 1 4 1-12 1 19 1-8 1-12 1 1 1-22 1-26 1 2 1-43 1 105 1-44 1 50 1-95 1 41 1-12 1-22 1 65 1-41 1-5 1 75 1-27 1-50 1 101 1-27 1-20 1-7 1 13 1-79 1 70 1 17 1-61 1 32 1-58 1-21 1 66 1 35 1-65 1 57 1-33 1-31 1 55 1-39 1 62 1 0 1 6 1 10 1-23 1-29 1-24 1 68 1-44 1 42 1 26 1-90 1 34 1 42 1-21 1-24 1-53 1 22 1 9 1 79 1 68 1-71 1 55 1-32 1-70 1 24 1 64 1 21 1-48 1-42 1 105 1-71 1-62 1 43 1-17 1 62 1-75 1-34 1 61 1-27 1 73 1-42 1-10 1 69 1-57 1-17 1 4 1 19 1 57 1-95 1 50 1-54 1 25 1-33 1 28 1-31 1 74 1-68 1 34 1 21 1 3 1-19 1-1 1 11 1 6 1 29 1 5 1 14 1-93 1 24 1 28 1 8 1 14 1-3 1-40 1 13 1-1 1 19 1 39 1-75 1 23 1-41 1 41 1-26 1-27 1 101 1-24 1 15 1-32 1 48 1-32 1-3 1 7 1-120 1 69 1-31 1 2 1-9 1 47 1 13 1-108 1 159 1 23 1-81 1-29 1-3 1 36 1 34 1-80 1-7 1 9 1-56 1 51 1-21 1 68 1-37 1-29 1 3 1 29 1 6 1 18 1-29 1-27 1 29 1 67 1-91 1 8 1 54 1-37 1 54 1-47 1 11 1 8 1-11 1 15 1-33 1 69 1-78 1-30 1 5 1-53 1 85 1 7 1-47 1 40 1 64 1-91 1 12 1 12 1-100 1 111 1-31 1-4 1 5 1 12 1 7 1-4 1-15 1 40 1-17 1 8 1-1 1-4 1 9 1-97 1 85 1 22 1-97 1 56 1 126 1-102 1 3 1 52 1 3 1-92 1 14 1 30 1 41 1-92 1 12 1 5 1 23 1 51 1-30 1-52 1 41 1 24 1-36 1 77 1-7 1-11 1-39 1 18 1 53 1-74 1 3 1 38 1-103 1 59 1 17 1-14 1-10 1-17 1 46 1-38 1 19 1 31 1 32 1-147 1 129 1 13 1-69 1 6 1 92 1-60 1-20 1 13 1 21 1-26 1 33 1 11 1-67 1-65 1 20 1 27 1-1 1 9 1 17 1-10 1 69 1-25 1-84 1 81 1 52 1-125 1 42 1-18 1-21 1 94 1-53 1-7 1 21 1-11 1-21 1-19 1 33 1-45 1 52 1-52 1-17 1 48 1-7 1 18 1-71 1 73 1-9 1-58 1 62 1-13 1 19 1 30 1-97 1 38 1 3 1 1 1 43 1-20 1-21 1-25 1 20 1 73 1-35 1-26 1-44 1 67 1 26 1 27 1-14 1-8 1-27 1 71 1 32 1-53 1-100 1 47 1 2 1-78 1 65 1 16 1-16 1-7 1 4 1-19 1 43 1-22 1-10 1-3 1 110 1-49 1-27 1 12 1-12 1 26 1-6 1 22 1-60 1-77 1 91 1-90 1-15 1 111 1-90 1-12 1 86 1-69 1 40 1-27 1-39 1 47 1 25 1 56 1-109 1-1 1-21 1-17 1 85 1-34 1 13 1-14 1-45 1 101 1 47 1-78 1 58 1-27 1-26 1 35 1 12 1-18 1-19 1 59 1-98 1 56 1 34 1-16 1-48 1-7 1 106 1 9 1-76 1 64 1-56 1-32 1 24 1 60 1-39 1-2 1 22 1-29 1 13 1 33 1 51 1-94 1 44 1-37 1-6 1 25 1 22 1-25 1-35 1 78 1-64 1 47 1-41 1 64 1-71 1 15 1-6 1-26 1-54 1 24 1 24 1 50 1-30 1 28 1-32 1 12 1 7 1 5 1-33 1-40 1-30 1 43 1 32 1 59 1-73 1 43 1 8 1-18 1-21 1 15 1 36 1-38 1 32 1-14 1-10 1 3 1-3 1 23 1-82 1 164 1-80 1-26 1-6 1 24 1-31 1 29 1-1 1 21 1-21 1 38 1 16 1-119 1 45 1-29 1 44 1-4 1-33 1-38 1 131 1-56 1-3 1-103 1 66 1 61 1-18 1 6 1-7 1-34 1 24 1-21 1 42 1-114 1 100 1 41 1-24 1-55 1-3 1-29 1-85 1 102 1-59 1 111 1-119 1 35 1-68 1 50 1 36 1-38 1 15 1-22 1 7 1 8 1-9 1-26 1 22 1-81 1 48 1 38 1-6 1 13 1-10 1-65 1 15 1-48 1 28 1-13 1-37 1 57 1-9 1 20 1 25 1-6 1-56 1 2 1 111 1-24 1-61 1 46 1-63 1 23 1 18 1-71 1 69 1-78 1 66 1-1 1 24 1 44 1-27 1-27 1 60 1-63 1 23 1-26 1 5 1 75 1-113 1-22 1-25 1 21 1 38 1-22 1 22 1-14 1 44 1-42 1-22 1 34 1 42 1-18 1-56 1 19 1 86 1-20 1-34 1-31 1 20 1-17 1-37 1 18 1 81 1-52 1 12 1 29 1-24 1 6 1-5 1-9 1-53 1 109 1-33 1 54 1 33 1-42 1 11 1-20 1 14 1-62 1 12 1-5 1 42 1-29 1-46 1 0 1-22 1 1 1 52 1-18 1-70 1 57 1-14 1 76 1-40 1-41 1-52 1 88 1 51 1-30 1 2 1-17 1-13 1 23 1-38 1 90 1-60 1 25 1-18 1-57 1 75 1-11 1-44 1-5 1 24 1 70 1-3 1-88 1-10 1 97 1-87 1 35 1-13 1 45 1-52 1-11 1 98 1-113 1 56 1 43 1-34 1 65 1-64 1-39 1 84 1-14 1 28 1-40 1-104 1 100 1-77 1 19 1 37 1-63 1 23 1-13 1-29 1 3 1 54 1 7 1-15 1-6 1 15 1-23 1 9 1-16 1 38 1 37 1-102 1 34 1 59 1-67 1 46 1 15 1-83 1 14 1 42 1-37 1-1 1 88 1 26 1-76 1 54 1 13 1-30 1-42 1-16 1 36 1 51 1-84 1 81 1-2 1-15 1-18 1-19 1 49 1-72 1 67 1-2 1-94 1 91 1-12 1-16 1-36 1-12 1 73 1 45 1-35 1-6 1-31 1-32 1 52 1 42 1-79 1 38 1 40 1-63 1-6 1 76 1-88 1-14 1-19 1 94 1-42 1 41 1-55 1 26 1-40 1 66 1-73 1-19 1 37 1-38 1-4 1 69 1 21 1-11 1-33 1-53 1 19 1 38 1 5 1-27 1 41 1-30 1 56 1-75 1 36 1-29 1 8 1-2 1 37 1 14 1-69 1 143 1-134 1 97 1-22 1-58 1 49 1 38 1-84 1-9 1 3 1 74 1-44 1 9 1 10 1-31 1 37 1-78 1 56 1-20 1-13 1 28 1-53 1 26 1 1 1 75 1-83 1 21 1 22 1-70 1 39 1 7 1 36 1 9 1 23 1-55 1 13 1 16 1 0 1-29 1-52 1 20 1 37 1 9 1 13 1 7 1-32 1-6 1 8 1-24 1 4 1 25 1 11 1 57 1 22 1-103 1 28 1-3 1 75 1-73 1-52 1 7 1-37 1 62 1-27 1-7 1 93 1-74 1 82 1-9 1 51 1-45 1-14 1-11 1-55 1 74 1-78 1-17 1 80 1-91 1-6 1 97 1-42 1-15 1 79 1-11 1-23 1 26 1 32 1-26 1 38 1-72 1-69 1 28 1 96 1-84 1 67 1-50 1 31 1-69 1 51 1-19 1-2 1 16 1 0 1-58 1-17 1 34 1-2 1 4 1-62 1 107 1 15 1-19 1-37 1 6 1 2 1 49 1-2 1 28 1-76 1 42 1-50 1 52 1-32 1-28 1 20 1-1 1 12 1 5 1-15 1 14 1-17 1-89 1 66 1 27 1 68 1-31 1-29 1 4 1 6 1 48 1-110 1 47 1 15 1 1 1-3 1-65 1 36 1-23 1 2 1 60 1-27 1-31 1 21 1-19 1 96 1-17 1-53 1 0 1 34 1-88 1 67 1 29 1 12 1 31 1-22 1-20 1-37 1 61 1 11 1-60 1 16 1-112 1 45 1 52 1 22 1-11 1-7 1 40 1-38 1-68 1 191 1-80 1-30 1 23 1 23 1-57 1 3 1-6 1 43 1-98 1 62 1-36 1 42 1 74 1-41 1 76 1-101 1 9 1 26 1-45 1-10 1 73 1 24 1-14 1-22 1-54 1 99 1-166 1 115 1-39 1 42 1-87 1 46 1-7 1 14 1-10 1-33 1 9 1 3 1 48 1-11 1 7 1-62 1 47 1 43 1-77 1-27 1 34 1-12 1 21 1-39 1-14 1 45 1-4 1-28 1 9 1 19 1 3 1-40 1 51 1-19 1 46 1-69 1 104 1-34 1-12 1 22 1 20 1-47 1 39 1-32 1-66 1 81 1-29 1 2 1 52 1-20 1-98 1 74 1-29 1-34 1 72 1-80 1 26 1 50 1-42 1-6 1 39 1-58 1 46 1 133 1-94 1 7 1-61 1 24 1-16 1 62 1 8 1-102 1 72 1-60 1 13 1 49 1-5 1-56 1 23 1 24 1 54 1-84 1 29 1-44 1 1 1 2 1 3 1 35 1-51 1 54 1 9 1-40 1 30 1-30 1 31 1-30 1 32 1 24 1-91 1 67 1 51 1-23 1-15 1-8 1-67 1 53 1 15 1 13 1-83 1 38 1 49 1-67 1-21 1 51 1-12 1-6 1-49 1 112 1-83 1 53 1 75 1-107 1 94 1-34 1-88 1 111 1-60 1 90 1-43 1-44 1 65 1-52 1-70 1 91 1-13 1-25 1 38 1-74 1 141 1-124 1 33 1 37 1-22 1 70 1-54 1-33 1 33 1 41 1-64 1 8 1 51 1-67 1 61 1-22 1 4 1-41 1 31 1 4 1-56 1 58 1 4 1 14 1-11 1-82 1 34 1 24 1-53 1 56 1-27 1-17 1-23 1 22 1 98 1-78 1-21 1 82 1-25 1-20 1-18 1 60 1-64 1-11 1 29 1-56 1 99 1-94 1 42 1-26 1 83 1-86 1 72 1 51 1-50 1-76 1 83 1-13 1-54 1-19 1 44 1 2 1-8 1-19 1 62 1-21 1 26 1-79 1 113 1 13 1-72 1 58 1-38 1-17 1-49 1-2 1-36 1 189 1-42 1-68 1 55 1-102 1 83 1-108 1 55 1 27 1-44 1-59 1 51 1-19 1 101 1-4 1-78 1-22 1 15 1 33 1 44 1-37 1 24 1-50 1 24 1 28 1-7 1-42 1 54 1-25 1-22 1 54 1-45 1 21 1-54 1 63 1-71 1 1 1 42 1-77 1 129 1-35 1-89 1-2 1 57 1-24 1 38 1 0 1 17 1-41 1 11 1 16 1-3 1 87 1-101 1 87 1-10 1-31 1 26 1-20 1 42 1-68 1 125 1-125 1-54 1 51 1 27 1-17 1 7 1-51 1 55 1-11 1 10 1-5 1 41 1-21 1 22 1-38 1-25 1-11 1 30 1 39 1-11 1 16 1-35 1-20 1 58 1-16 1-7 1 6 1-38 1 80 1-50 1 49 1 18 1-3 1-28 1-27 1 47 1 6 1-54 1-8 1 19 1-9 1 16 1-26 1-8 1 59 1-54 1 46 1-78 1 26 1 32 1-15 1-2 1-52 1 8 1 55 1-18 1-12 1-12 1-37 1 60 1-2 1-10 1 10 1 53 1-16 1-17 1 20 1 15 1-13 1 30 1-7 1-2 1-9 1-4 1-79 1 34 1 46 1-12 1 82 1-84 1-42 1 73 1-5 1-20 1 19 1-21 1-12 1 63 1-28 1-47 1-11 1-3 1 4 1-9 1-2 1 15 1 5 1-17 1-38 1 9 1 14 1-29 1-20 1-30 1 22 1 7 1-22 1 3 1-34 1-39 1 72 1 33 1-60 1 40 1-1 1 21 1-22 1-3 1-75 1 54 1-61 1 82 1 18 1 0 1 10 1-29 1-17 1 53 1-6 1-25 1-7 1 6 1 6 1-18 1 61 1-63 1 47 1-41 1 24 1-25 1 31 1-52 1 58 1 4 1-37 1-8 1 69 1-16 1-34 1 17 1-8 1-7 1 39 1-15 1-9 1-9 1 13 1 37 1-31 1-18 1-8 1 27 1-21 1 35 1-19 1-64 1 78 1 12 1-45 1 41 1 33 1-14 1-42 1-44 1 33 1-38 1 53 1-44 1 14 1 45 1-42 1-15 1-9 1 83 1 2 1-40 1 77 1-78 1 4 1-6 1-5 1 15 1 14 1 7 1 29 1-19 1-16 1 47 1-81 1 37 1 32 1-85 1 71 1 42 1-40 1-7 1-40 1 61 1-92 1 17 1 11 1 27 1-21 1 54 1-54 1-19 1 77 1 10 1-32 1 0 1 25 1-53 1 33 1-23 1 27 1-11 1-26 1 19 1-39 1 33 1-11 1 50 1-45 1-11 1 80 1-105 1 71 1 25 1-27 1 30 1-14 1-41 1 0 1 6 1 16 1-19 1 1 1 14 1-59 1-22 1 50 1-16 1-23 1 17 1 2 1 20 1-45 1 77 1-10 1-30 1 62 1 16 1-36 1 0 1-9 1-26 1 14 1 12 1 4 1 45 1-32 1-11 1-15 1 23 1-50 1 31 1-8 1 18 1 6 1 32 1-15 1-52 1 16 1 52 1-91 1 37 1 8 1 4 1 8 1 3 1-30 1-16 1 44 1-21 1-19 1 30 1-11 1 68 1-50 1-28 1 32 1-37 1 35 1 4 1 1 1 24 1-49 1-20 1-19 1 20 1 13 1 10 1 28 1 6 1-24 1 3 1-45 1-14 1 10 1 55 1 10 1-29 1 41 1-6 1-42 1 46 1-20 1-33 1 31 1-4 1-28 1-6 1 21 1-27 1-20 1-17 1 60 1 42 1-19 1-36 1 4 1 70 1-41 1 19 1-54 1 23 1 1 1-36 1 98 1-36 1-10 1-2 1 36 1-47 1-19 1-5 1 42 1 4 1-38 1 10 1-1 1 52 1-104 1 49 1 0 1 4 1-41 1 25 1-2 1 60 1-52 1 38 1-56 1-1 1 43 1-14 1 36 1-18 1-3 1-38 1-29 1-2 1 48 1 17 1 11 1 18 1-15 1 19 1-43 1 7 1 11 1 15 1-7 1-28 1 23 1-9 1-1 1 34 1-12 1 40 1-97 1 66 1-26 1-35 1 42 1 10 1 42 1-67 1 49 1-37 1 22 1 13 1 16 1-5 1-60 1 47 1-9 1 11 1-8 1 0 1-20 1 3 1 79 1-45 1-17 1-20 1 2 1-49 1 21 1 11 1 32 1-23 1 92 1-80 1 3 1 21 1 23 1-48 1 41 1-48 1-15 1 82 1-4 1-45 1-46 1 49 1-1 1-43 1 2 1 36 1-32 1-26 1 24 1-26 1 21 1-26 1 18 1 17 1 29 1-64 1 96 1-59 1 16 1 27 1-18 1-16 1-31 1 28 1 4 1 79 1-29 1-21 1-4 1 36 1-98 1 51 1-22 1 66 1-32 1-30 1 10 1 21 1-48 1 23 1 21 1 14 1-46 1-10 1-21 1 28 1 3 1-4 1-56 1 57 1-6 1 45 1-2 1 4 1-35 1 17 1-24 1 6 1 19 1 11 1 6 1-28 1-10 1-52 1 15 1 61 1-81 1 37 1-14 1 35 1-8 1 16 1-6 1 30 1-45 1-24 1 11 1-5 1 3 1 29 1-12 1-24 1 30 1-18 1-13 1 20 1-57 1 98 1-48 1 11 1 25 1-31 1 47 1-9 1-19 1-22 1 28 1-14 1 48 1-42 1-8 1 37 1-58 1 32 1-2 1 30 1-37 1-25 1 95 1-31 1-27 1 51 1-4 1-62 1-39 1-18 1 107 1-105 1 77 1-10 1-65 1 88 1-100 1 50 1 64 1-103 1 65 1 36 1-35 1-25 1 20 1-7 1 67 1-18 1-14 1-42 1 62 1-18 1 31 1-13 1-34 1-21 1-8 1 7 1 46 1-47 1-15 1 73 1-117 1 54 1 33 1-72 1 86 1 30 1-50 1-30 1 23 1-23 1 39 1-38 1-10 1 4 1 3 1 23 1 4 1-95 1 76 1-37 1 63 1-47 1 17 1-12 1 6 1 20 1-16 1 30 1 2 1-66 1 43 1 31 1-44 1 7 1 33 1-9 1 5 1-84 1 71 1-19 1 2 1 10 1-25 1 9 1-3 1 26 1-20 1 17 1-47 1 27 1 26 1 37 1-32 1 23 1-76 1 34 1 32 1 18 1-8 1-65 1 51 1-40 1 30 1 4 1 67 1-57 1 25 1-38 1 28 1 39 1-65 1 42 1-20 1 28 1-19 1 41 1-82 1 10 1 28 1 12 1-47 1 34 1-9 1 7 1-1 1 17 1-54 1 29 1-2 1 30 1-31 1 45 1-59 1 34 1-45 1 33 1 6 1-4 1-17 1 60 1-82 1 29 1-74 1 75 1 8 1-66 1 33 1-13 1 4 1 3 1 31 1-9 1 35 1-35 1 12 1-38 1 18 1-29 1 67 1-48 1 24 1-28 1 45 1-56 1 7 1 9 1-42 1 23 1 8 1-35 1 43 1-19 1 3 1-43 1 3 1 34 1-2 1 53 1-16 1 16 1-71 1 26 1 43 1-25 1-25 1 18 1 12 1-52 1 2 1 42 1 13 1-38 1-7 1-25 1 36 1 12 1-7 1-5 1-35 1 83 1-15 1-68 1 66 1 18 1-28 1-30 1 22 1-9 1-1 1 20 1-2 1-85 1 68 1-3 1-45 1 75 1-20 1-56 1 47 1-5 1 9 1-63 1 99 1-10 1-48 1-6 1 39 1 10 1 49 1-24 1-12 1-2 1 7 1-19 1-2 1-46 1 43 1-25 1 55 1-8 1 2 1-8 1-19 1-56 1 54 1 41 1-69 1-14 1 37 1 31 1 0 1-51 1-25 1 26 1 25 1-50 1 53 1-53 1 32 1-23 1 48 1 45 1-58 1 15 1-31 1-24 1 81 1 3 1-6 1-19 1 3 1 9 1-13 1-36 1 8 1 84 1-26 1-28 1 37 1-63 1-9 1 49 1-15 1-17 1-31 1 53 1-17 1-21 1 40 1 35 1-59 1 67 1 10 1-59 1 40 1-33 1 41 1 44 1-79 1 25 1 25 1-26 1 12 1 1 1-22 1 44 1-34 1 39 1-31 1-16 1-23 1 14 1 67 1 10 1-85 1 55 1 2 1-21 1-94 1 114 1-33 1 8 1-15 1 5 1 5 1-21 1-10 1 36 1-1 1-27 1 53 1 5 1-55 1 15 1-30 1 27 1-35 1 74 1-35 1 10 1-49 1 45 1-32 1 43 1 29 1-50 1 62 1-58 1 7 1-17 1-2 1-17 1 31 1-7 1 43 1-39 1 22 1-55 1-3 1 40 1-15 1-10 1 44 1 17 1-63 1 43 1 25 1-59 1 7 1-22 1-11 1-8 1 18 1-19 1 44 1-54 1-10 1 32 1 22 1 4 1-36 1 2 1 1 1 72 1-84 1 22 1 4 1-12 1 30 1-45 1 18 1 21 1-39 1 23 1-9 1-10 1-40 1 30 1 10 1 7 1-19 1-20 1 38 1-23 1 11 1-2 1 18 1 16 1-20 1 13 1-8 1-1 1 16 1-75 1 38 1-40 1 18 1 42 1-34 1 90 1-57 1-81 1 39 1 8 1-43 1 83 1 9 1-28 1 16 1-17 1 2 1-8 1-1 1 33 1-42 1 38 1-3 1-87 1 52 1 13 1-30 1 21 1 15 1 24 1-43 1 16 1-11 1 37 1-45 1 48 1 62 1-23 1-46 1 33 1-66 1 75 1-26 1-1 1-15 1-50 1 49 1-45 1 22 1-30 1 14 1-23 1 72 1-33 1 6 1 19 1 21 1 6 1-32 1-14 1 2 1 2 1 3 1 4 1 34 1-81 1 27 1-23 1 32 1 4 1-9 1-19 1 7 1-30 1 6 1-6 1-1 1-5 1 18 1 0 1 33 1 21 1-32 1-47 1 44 1 30 1-11 1-8 1 6 1-23 1-57 1 60 1-55 1 10 1 57 1-40 1 36 1 67 1-16 1-35 1 50 1-67 1-20 1 45 1-29 1-6 1-38 1 1 1 18 1 42 1-14 1-21 1-51 1 48 1 45 1-43 1-2 1-14 1-17 1 16 1-50 1 34 1 36 1-28 1 16 1 53 1-30 1-61 1 40 1 8 1-35 1 36 1 1 1 41 1 1 1-19 1 0 1 14 1-17 1-30 1 19 1-23 1 40 1 0 1-16 1-42 1 55 1 17 1-64 1-17 1 40 1 32 1-17 1 10 1 23 1-30 1-42 1 43 1-71 1 82 1-69 1 81 1-29 1 19 1-19 1-69 1 49 1-34 1-6 1 32 1-8 1 19 1 15 1-43 1-19 1 56 1-31 1-8 1-31 1 69 1-42 1 74 1-59 1-31 1 72 1-25 1-47 1 44 1-30 1 2 1-8 1 0 1 72 1-31 1-27 1 9 1-5 1 21 1-21 1 37 1-65 1 56 1 72 1 26 1-92 1-10 1 33 1-22 1-8 1 13 1 25 1 39 1-55 1-45 1 29 1 4 1-5 1 36 1-52 1 7 1-32 1 20 1 24 1 41 1-88 1 58 1 8 1-12 1-17 1 35 1-60 1-4 1 40 1-8 1 37 1 3 1-25 1-39 1 35 1 18 1-5 1-6 1-15 1-21 1-37 1 33 1 2 1 4 1-71 1 78 1-9 1 29 1-25 1 0 1-15 1-16 1 9 1 59 1 20 1-35 1-26 1 31 1-3 1-16 1 38 1-50 1 48 1-68 1 43 1 34 1-22 1 2 1-28 1 38 1-56 1 26 1 32 1-37 1-5 1 47 1-60 1-9 1-4 1 47 1-57 1 53 1-32 1-32 1 56 1-29 1-7 1 46 1-3 1 3 1-14 1 47 1-56 1-6 1 33 1 14 1-69 1 74 1-36 1 58 1-77 1 10 1 11 1-40 1-1 1 57 1-50 1 34 1-56 1 39 1 11 1-37 1 42 1-22 1 2 1 10 1-36 1 11 1 40 1-47 1-23 1 11 1 47 1 18 1-5" stroke="#9400d3"/>
</g>
<g class="d">
<path transform="translate(105.30 702.05) scale(0.290117)" stroke-width="8.962" d="M0 2099 l1-104 1-56 1 80 1-99 1-97 1 16 1-55 1-59 1-17 1-87 1 122 1-140 1 7 1-49 1 32 1-101 1 215 1-160 1 79 1-7 1-61 1 64 1-96 1 0 1 104 1-120 1 34 1 95 1 5 1 32 1-57 1-22 1-5 1 31 1 22 1-12 1 26 1-39 1-61 1 41 1 18 1 2 1-82 1 13 1 90 1-136 1 8 1 35 1 5 1-1 1 48 1-93 1-38 1 23 1 65 1 1 1-34 1-71 1 123 1-28 1 27 1 26 1-53 1-36 1 91 1-100 1 12 1 25 1-33 1 91 1-133 1 61 1-42 1 65 1-100 1 64 1 52 1 10 1-47 1-50 1 19 1 51 1 38 1 1 1-27 1 54 1-63 1-60 1 50 1-39 1 21 1-38 1 30 1-29 1 87 1 10 1-60 1 54 1-40 1 40 1 24 1-24 1-22 1-7 1 69 1-46 1 4 1-13 1 47 1 81 1-52 1 26 1-28 1 34 1-41 1 68 1-42 1-17 1 32 1-104 1 75 1-25 1-23 1 81 1-31 1 42 1-158 1-1 1 85 1 28 1-15 1 5 1-37 1 9 1 12 1-142 1 17 1 54 1-108 1-3 1 48 1 23 1 82 1-10 1 87 1-66 1-67 1 61 1 64 1-162 1-33 1 35 1 131 1-115 1 55 1-9 1-26 1-53 1 116 1-69 1 63 1-43 1 26 1-12 1-13 1 30 1 3 1-7 1-5 1-24 1 97 1 5 1-85 1-8 1-28 1 13 1-47 1 73 1 26 1-64 1 67 1 12 1-65 1 32 1-53 1 48 1-102 1 126 1-74 1 85 1-84 1 120 1-32 1 121 1-80 1-142 1 43 1-6 1-24 1-75 1 146 1-46 1 15 1-47 1 86 1 50 1 19 1-118 1 20 1-25 1 99 1-27 1-39 1-91 1 19 1 44 1 65 1-95 1 26 1-29 1-59 1 109 1 68 1-159 1 83 1 23 1-30 1 17 1 2 1-8 1 103 1-32 1-45 1-32 1 15 1-19 1 107 1-49 1 35 1-62 1 25 1-87 1 152 1-7 1 26 1-211 1 88 1 23 1 7 1-43 1 29 1-74 1 97 1-36 1-19 1-82 1 11 1-30 1 25 1-10 1 58 1-83 1 35 1-11 1 119 1-58 1 8 1 62 1-115 1 8 1-21 1 16 1-28 1 145 1-113 1 182 1-73 1-6 1-29 1-1 1-33 1 47 1-8 1 46 1-46 1 7 1 72 1-82 1 36 1-42 1 19 1-28 1-73 1 67 1 34 1-38 1 7 1 38 1-91 1-16 1 183 1-149 1-27 1 143 1-84 1 22 1-54 1 175 1-151 1 33 1-26 1-46 1 185 1-114 1-27 1 1 1-19 1-15 1 73 1-52 1 117 1-91 1 27 1-31 1-61 1 101 1-51 1 62 1-96 1-15 1 98 1 25 1-94 1 45 1-13 1-120 1 99 1-2 1-32 1-24 1-74 1 65 1 86 1-18 1-118 1 170 1-99 1-34 1 57 1 31 1 23 1-32 1-25 1 12 1-15 1 84 1-41 1-6 1-35 1 56 1-89 1 9 1 57 1 102 1-42 1 122 1-145 1-38 1 45 1-25 1-46 1-49 1 78 1 67 1 40 1-85 1-40 1-2 1 29 1 25 1-25 1 14 1-39 1-21 1 23 1-72 1 99 1 8 1-56 1-4 1 64 1 27 1 3 1-71 1-2 1-12 1-25 1-24 1 80 1-142 1-8 1 87 1 24 1-31 1 112 1-75 1 37 1-41 1 45 1-117 1 146 1-56 1-2 1-81 1 71 1 133 1-23 1-93 1 54 1-26 1-13 1 43 1-37 1-13 1-7 1-1 1 38 1 31 1-72 1 113 1-111 1 58 1-34 1-68 1 21 1 8 1-6 1 39 1 18 1-56 1 6 1-19 1 46 1-2 1 118 1-44 1-11 1-69 1-7 1 42 1 74 1-59 1-30 1-20 1 51 1 28 1-22 1-20 1-86 1 4 1-86 1 8 1 55 1 63 1-13 1 4 1 85 1 36 1-12 1-130 1 67 1 15 1-68 1 37 1 65 1-139 1 127 1-81 1 18 1 77 1-68 1-14 1 40 1-44 1 13 1 73 1-76 1 78 1-33 1-7 1 44 1-84 1 42 1 20 1-85 1 22 1-10 1-11 1 12 1 14 1 49 1-119 1 2 1 164 1-34 1-37 1 31 1 32 1-133 1 81 1-78 1 1 1-32 1 130 1-92 1 107 1-141 1 13 1 33 1 46 1-93 1 10 1 130 1 48 1-57 1 2 1-68 1 17 1-3 1 58 1-87 1 37 1 37 1 52 1-130 1 86 1 49 1-68 1-34 1-21 1 111 1-72 1-58 1 46 1-14 1-70 1 114 1-22 1-71 1-24 1 50 1 15 1 67 1-76 1 15 1 56 1-48 1 48 1-86 1 63 1-50 1-3 1 39 1-32 1 13 1-19 1 89 1-22 1-40 1 41 1 14 1-56 1-152 1 132 1 43 1-67 1 52 1 54 1 31 1-79 1 25 1-60 1 102 1-8 1 16 1-2 1-104 1 52 1-104 1 61 1-84 1 125 1-82 1 102 1-51 1 6 1-78 1 86 1-57 1 54 1 22 1-67 1-79 1 65 1-62 1 87 1 6 1 3 1 4 1-12 1-25 1 0 1 42 1-113 1 37 1 58 1 24 1 51 1-97 1 23 1-123 1 193 1-81 1-49 1 63 1-94 1 29 1 34 1 82 1-117 1 55 1 34 1-106 1 66 1 133 1-108 1-31 1 111 1-82 1 62 1-41 1 114 1-64 1-38 1 5 1 48 1-110 1 33 1 92 1 22 1-157 1-1 1-63 1-36 1 85 1 28 1-50 1 76 1 79 1-119 1 40 1 6 1-74 1 43 1 0 1-79 1 122 1 43 1-43 1 30 1-104 1 104 1 16 1-63 1 63 1-172 1 86 1-30 1 32 1 22 1 58 1-93 1 17 1 35 1 45 1-143 1 75 1-10 1 82 1-159 1 61 1-30 1 29 1 68 1-52 1 84 1-8 1-69 1-16 1-9 1 27 1-28 1 0 1 10 1 2 1-62 1 66 1-43 1-51 1 24 1 29 1-20 1 41 1-39 1 54 1 20 1 39 1-139 1-28 1 34 1 57 1-11 1 32 1-53 1 12 1 34 1-44 1-27 1-15 1 4 1 12 1 24 1-41 1 59 1-34 1 40 1-85 1 119 1-34 1-3 1-38 1 82 1-131 1 48 1 140 1-139 1-15 1 84 1-46 1-3 1 18 1-32 1-16 1 61 1-36 1 36 1-46 1 40 1-71 1 5 1-3 1 66 1-29 1 41 1-53 1 76 1 14 1-44 1 5 1-101 1 37 1 17 1 16 1 2 1-36 1 57 1-15 1-79 1 22 1 24 1 23 1-62 1 84 1-18 1-72 1-1 1-10 1 86 1-89 1 75 1-25 1 73 1-79 1-59 1 27 1 126 1-132 1 22 1 28 1-46 1-10 1-17 1 40 1 85 1 16 1-133 1 24 1 21 1 91 1-52 1-35 1 56 1-44 1-29 1-4 1 14 1-8 1 99 1-18 1-64 1-75 1 63 1-30 1 38 1 75 1-57 1-6 1 50 1-5 1-41 1 45 1-47 1 62 1-72 1 69 1-57 1 30 1-127 1 1 1-109 1 192 1 16 1-91 1-41 1 109 1-109 1-22 1-15 1 58 1 78 1 10 1-153 1 107 1-24 1 33 1 1 1 2 1 26 1-26 1 75 1-27 1-44 1 33 1 24 1-129 1-33 1 78 1 79 1-127 1 51 1 83 1-102 1 83 1-20 1 21 1-58 1 7 1-61 1 81 1-34 1-6 1-32 1 78 1-54 1-56 1 22 1 69 1-10 1 10 1 11 1 6 1 47 1-115 1-46 1 26 1 21 1-1 1 2 1-101 1-21 1 202 1-129 1 22 1-25 1 49 1 61 1-95 1 9 1-33 1 5 1 32 1-101 1 126 1-33 1 69 1-17 1-105 1 85 1 54 1 12 1-59 1 78 1-62 1 57 1-10 1-31 1 53 1-117 1 105 1-56 1-4 1-98 1 82 1-49 1 61 1 15 1-17 1-38 1 67 1-26 1-103 1 174 1 24 1-64 1 14 1-55 1 25 1-65 1 55 1-17 1-27 1 66 1-29 1-6 1-39 1 81 1 37 1-177 1 55 1 21 1-125 1 70 1 32 1 69 1-68 1 21 1 47 1-107 1 1 1 9 1 73 1-8 1-47 1 33 1 34 1-37 1 5 1 34 1-19 1-7 1 18 1 62 1 8 1-54 1 46 1-40 1-3 1 67 1 28 1-79 1-22 1-26 1-17 1 47 1 3 1-33 1 70 1-90 1 109 1-1 1-21 1-80 1 77 1 15 1-41 1-32 1 49 1-65 1 87 1-124 1 136 1-54 1 36 1 18 1-29 1-10 1 68 1-163 1 85 1-23 1 48 1-47 1-41 1 82 1 12 1-4 1 13 1-80 1 57 1-85 1 103 1-35 1-23 1 29 1 37 1-43 1-14 1 17 1 1 1 62 1-123 1-54 1 25 1-3 1 57 1 50 1-69 1 58 1-40 1 70 1-62 1 65 1 83 1-91 1-49 1 0 1-3 1-54 1 23 1 55 1-97 1-49 1 139 1-56 1 47 1 83 1-56 1-14 1-85 1 56 1 1 1-30 1-72 1 72 1 43 1-60 1 71 1-77 1-19 1 55 1 35 1-40 1 86 1-180 1-58 1 123 1 89 1-94 1 30 1 43 1-39 1 17 1-30 1-96 1 62 1 23 1-56 1 82 1-42 1 21 1-92 1 40 1 14 1-66 1-34 1 40 1-79 1 91 1-23 1-95 1 110 1 87 1-117 1 78 1-72 1-3 1-17 1-29 1 42 1-30 1 106 1-41 1-35 1-74 1 111 1-29 1-25 1 58 1 40 1-12 1-116 1 81 1-88 1-38 1 51 1-69 1 80 1-83 1 39 1-100 1 38 1-9 1-13 1 93 1 50 1-29 1-67 1 85 1-45 1-24 1 26 1 53 1 57 1-130 1 67 1 28 1-54 1-63 1 86 1-81 1-26 1 1 1 52 1 45 1 50 1-72 1-10 1-94 1 107 1-24 1 13 1 56 1-91 1 59 1 26 1-89 1-40 1 56 1 25 1 15 1-36 1-68 1 55 1-14 1 1 1 114 1-109 1-15 1-17 1 93 1-24 1-26 1-10 1-5 1 60 1-43 1-52 1 73 1-68 1 34 1-3 1 101 1 8 1 40 1-95 1-30 1 104 1-34 1-23 1-45 1 61 1-6 1 8 1 21 1 36 1-84 1-6 1 15 1-48 1 115 1-42 1 22 1-79 1 0 1 83 1-58 1 9 1 78 1 17 1-63 1-17 1 49 1-54 1-26 1-71 1 57 1 94 1 8 1-81 1 9 1 43 1-10 1-33 1-43 1-58 1 22 1-160 1-10 1 76 1-56 1-41 1 118 1 16 1 48 1 74 1-67 1 72 1-5 1-6 1 61 1-40 1 68 1 20 1 33 1-21 1-11 1-7 1 10 1 16 1-63 1 12 1 65 1-75 1-16 1 3 1-57 1 45 1 35 1-50 1-22 1 127 1-62 1-66 1-16 1 27 1 0 1 167 1-99 1 127 1-62 1-11 1-47 1 78 1-86 1 41 1-165 1 124 1-10 1 50 1-12 1-67 1 67 1 38 1-4 1-14 1-104 1 81 1-49 1 2 1-76 1 113 1 94 1 3 1-141 1 55 1 120 1-99 1 16 1-2 1-54 1 4 1-37 1 126 1-93 1 2 1 59 1-55 1 83 1 15 1-147 1 54 1-11 1-37 1 107 1-49 1 43 1-27 1-28 1 16 1 60 1-22 1-33 1-5 1 131 1-146 1 141 1-138 1 36 1-53 1 66 1-76 1 39 1-19 1-19 1 140 1-57 1 1 1-56 1-18 1-25 1 30 1-93 1 91 1-18 1 31 1 49 1 36 1-51 1 24 1 13 1 5 1-6 1-198 1 85 1 104 1-34 1-3 1 61 1-146 1 100 1-62 1 58 1 18 1-178 1 171 1 65 1-57 1 6 1-100 1 55 1 46 1-147 1 88 1 70 1-82 1 5 1 91 1 18 1-77 1-1 1-64 1-4 1 61 1 32 1-63 1-68 1 90 1-81 1 63 1-69 1 64 1-19 1 75 1-6 1-84 1 45 1 95 1-99 1 97 1-49 1 76 1-50 1-33 1 18 1 10 1-107 1 86 1 4 1 30 1-167 1-14 1 89 1 58 1-86 1 38 1 42 1-192 1 93 1 54 1-22 1-43 1-49 1 4 1 11 1 20 1-97 1 94 1-23 1 25 1 27 1-41 1-35 1 204 1-93 1-61 1-44 1 136 1-77 1 24 1 10 1 4 1-69 1-52 1-22 1 54 1 8 1-62 1-90 1 160 1-9 1-132 1 179 1 44 1-176 1-13 1 37 1 33 1 26 1 97 1-141 1 106 1 39 1-64 1 60 1 5 1-27 1-88 1-44 1 103 1-43 1-62 1 15 1-17 1 8 1 66 1-67 1-106 1 84 1 41 1 18 1-100 1-56 1 62 1-106 1 106 1-135 1-26 1 74 1 51 1-55 1 66 1 108 1-125 1 235 1-157 1 135 1-147 1 86 1-145 1 100 1 99 1-309 1 221 1-26 1-11 1 23 1-70 1 93 1-182 1 152 1-100 1-16 1 62 1-85 1 58 1 66 1 10 1-132 1 21 1 143 1-102 1 144 1-50 1-16 1 157 1-157 1 97 1 55 1-193 1-2 1 62 1 56 1-7 1 27 1-68 1 53 1-43 1-26 1-57 1 51 1 3 1-13 1-100 1-2 1 120 1 15 1 58 1-43 1-24 1-132 1 17 1 165 1-137 1 74 1 78 1-122 1 64 1-56 1 37 1 32 1-156 1 95 1 66 1 37 1-213 1 149 1-64 1-41 1-60 1 216 1 47 1-163 1 56 1-92 1-159 1 188 1-143 1 143 1-229 1 186 1-3 1-23 1 6 1-134 1 77 1 42 1 33 1 1 1-51 1-11 1 48 1-5 1-159 1 122 1-137 1 105 1-28 1 91 1 4 1-60 1-87 1-7 1-22 1 108 1-43 1 44 1-63 1-57 1 66 1 45 1-105 1 22 1-6 1 32 1-26 1 39 1 55 1 112 1-186 1-21 1 51 1-180 1 10 1-27 1 79 1-15 1-48 1-32 1-9 1 130 1-18 1 125 1-119 1-90 1-12 1-108 1 107 1 101 1 31 1-48 1-129 1 192 1 23 1-25 1-11 1-44 1 76 1-29 1-6 1 30 1-91 1 175 1 16 1-30 1-56 1-3 1-39 1 66 1 10 1 152 1-44 1-42 1 130 1-107 1-39 1-62 1 66 1 53 1-55 1 37 1-91 1 68 1-40 1 48 1 12 1-114 1 257 1-225 1 90 1-35 1 112 1-103 1 30 1-57 1-72 1 167 1 52 1-150 1-40 1 104 1 159 1-68 1-189 1-54 1 171 1 139 1-209 1 116 1-26 1-14 1 16 1-56 1 61 1-69 1-73 1-39 1 9 1 80 1 143 1-131 1 11 1-69 1 83 1-13 1 58 1-51 1-73 1 128 1-31 1-31 1 0 1 9 1 64 1 94 1-180 1 175 1-117 1 139 1-114 1 138 1-40 1-4 1 8 1-165 1 129 1 46 1-7 1-58 1-7 1 15 1 107 1 10 1-52 1-8 1 11 1 83 1-9 1-103 1 63 1 62 1-59 1 38 1-64 1-44 1 77 1 9 1 54 1-109 1 40 1-24 1 66 1-58 1 60 1 12 1-58 1 32 1-28 1-37 1-108 1 117 1 96 1-136 1-89 1 73 1 135 1-110 1-32 1 14 1-37 1 33 1 221 1-246 1 94 1-13 1 89 1-48 1-54 1-129 1-22 1 89 1-56 1 154 1-9 1-169 1 122 1 14 1-72 1 128 1-152 1 154 1-15 1-14 1-58 1 84 1-151 1-9 1 5 1-53 1 138 1-88 1 56 1 54 1-104 1 5 1 8 1-45 1-116 1 238 1 6 1-97 1-40 1 13 1 53 1 7 1 4 1-197 1 180 1 15 1 64 1-140 1 98 1-62 1 22 1 17 1-213 1 105 1-77 1 143 1 77 1 36 1-106 1-66 1 6 1 129 1-155 1 32 1-147 1 93 1-42 1 29 1 12 1-49 1-43 1-88 1 101 1 69 1-103 1-46 1 80 1 60 1 10 1-97 1-62 1 96 1-118 1-26 1 27 1 101 1 59 1-117 1-74 1 27 1-86 1 146 1-67 1-12 1-73 1 29 1 26 1 14 1-26 1-40 1 53 1-121 1 74 1 82 1-142 1 74 1 40 1-137 1 78 1-51 1 40 1-49 1 119 1-179 1-46 1 137 1-62 1 33 1-23 1-25 1 147 1-179 1 24 1-58 1 82 1-96 1 12 1 91 1-25 1 28 1 1 1 26 1 94 1 1 1-171 1 59 1 30 1-17 1-18 1-88 1 94 1-105 1 23 1 64 1-85 1 2 1-15 1 31 1-26 1 28 1 43 1-110 1 9 1 130 1-131 1 92 1-32 1-6 1-35 1 38 1-80 1 20 1 134 1-268 1 171 1-12 1-129 1 97 1 75 1-104 1 13 1 27 1 181 1-150 1 28 1 27 1-39 1-98 1 192 1-75 1 78 1-23 1-126 1-65 1-2 1 0 1-39 1 44 1 24 1 7 1-34 1-13 1 38 1 2 1 21 1 9 1-17 1 28 1-144 1 77 1-44 1 43 1-13 1-21 1 81 1-104 1 63 1-26 1 94 1-139 1 88 1-31 1 105 1-2 1-52 1 103 1-141 1 68 1-109 1 116 1-22 1-19 1-76 1 81 1-68 1 25 1-14 1 70 1-47 1 28 1 14 1-31 1 14 1 92 1-26 1-29 1 57 1-30 1 4 1-96 1 65 1-122 1 169 1-93 1-24 1 77 1 47 1-49 1 24 1-114 1 66 1 36 1-23 1-41 1 11 1-56 1 20 1 62 1-64 1-9 1 50 1 50 1-34 1 89 1 6 1-35 1-7 1-92 1 53 1 4 1 22 1-21 1 65 1-117 1 46 1-49 1-23 1 48 1-18 1 22 1 36 1 63 1-73 1 28 1-19 1-17 1-42 1-14 1 92 1 23 1-95 1 30 1-6 1 34 1 37 1-116 1 16 1 21 1-23 1-53 1-23 1 73 1 3 1 65 1 22 1-15 1 33 1-59 1 18 1-6 1 30 1-53 1 1 1-51 1 75 1-29 1 41 1-123 1 124 1-116 1-36 1 94 1-90 1 47 1 111 1-17 1-133 1 40 1-19 1 33 1-62 1 98 1 74 1-15 1-47 1-7 1-27 1 40 1 6 1 2 1 24 1-73 1 37 1-30 1 70 1-62 1 30 1 73 1-187 1 143 1-106 1 19 1-30 1 88 1 84 1-156 1 8 1-25 1 62 1-68 1 8 1 52 1-133 1 150 1 44 1-114 1-26 1 25 1 26 1-37 1 26 1 1 1-30 1 35 1-54 1 68 1 5 1-3 1-29 1 20 1 44 1-13 1-71 1 7 1 62 1 23 1 26 1-130 1 79 1-31 1-27 1 56 1-55 1 35 1-40 1 99 1-36 1 39 1 14 1-16 1 54 1-71 1 148 1-114 1 6 1-107 1 55 1-37 1 136 1-151 1 44 1-80 1 46 1 60 1-30 1-1 1 3 1-32 1-19 1 35 1 28 1-77 1 100 1 39 1-129 1 93 1 27 1 49 1-60 1-103 1 106 1-49 1 85 1-102 1 22 1 11 1 57 1-109 1 28 1 17 1-77 1 99 1-101 1 40 1 28 1-13 1 61 1-41 1-25 1 16 1-75 1 0 1-39 1 150 1-172 1 89 1 22 1 2 1-58 1 54 1 3 1 2 1-13 1-7 1-31 1 15 1-33 1 55 1-47 1 73 1-75 1 0 1 71 1-4 1-94 1 71 1 3 1-83 1 92 1-11 1 37 1-39 1-52 1 77 1-14 1 59 1-40 1-14 1 57 1 99 1-120 1-39 1 89 1-51 1 32 1 63 1-72 1 93 1-157 1 30 1-36 1-27 1 66 1-30 1-58 1-35 1 53 1 44 1-14 1 78 1-78 1 103 1-19 1-77 1 5 1 20 1-35 1 28 1 30 1-41 1 58 1 52 1-125 1 44 1-34 1 0 1 49 1-29 1 81 1 52 1-55 1-35 1-20 1 66 1-2 1-38 1 4 1-22 1 66 1-94 1 66 1-134 1 151 1-73 1 72 1-73 1 56 1-83 1 79 1-26 1-20 1-16 1-39 1 18 1 3 1 62 1 61 1-82 1 27 1 31 1-29 1-85 1 20 1 104 1 26 1 46 1-109 1-16 1 15 1-75 1-10 1 107 1-45 1 50 1-28 1 12 1 29 1-22 1-36 1 53 1-44 1 26 1-29 1-18 1 13 1 43 1-117 1 76 1-77 1 22 1 91 1-13 1-43 1 5 1 81 1-139 1 108 1 13 1-75 1 44 1-43 1-20 1-119 1 70 1-15 1 31 1-2 1-2 1 63 1-23 1 33 1 42 1 6 1-106 1 1 1 152 1-186 1 57 1 27 1-52 1 111 1-16 1 41 1-38 1-87 1 82 1 31 1-97 1 49 1-1 1-3 1-75 1 33 1-3 1-8 1 93 1-87 1 64 1-37 1 9 1-35 1 8 1-59 1 101 1 12 1 35 1 23 1-122 1 140 1-142 1 101 1-40 1 63 1-75 1 30 1 124 1-139 1-41 1-15 1 76 1 43 1-28 1 40 1-31 1-38 1-4 1-54 1 38 1-21 1 57 1-29 1-67 1 120 1-47 1-14 1-40 1-14 1 61 1-49 1 31 1-20 1-12 1 1 1 40 1 59 1-49 1-89 1 86 1-106 1 112 1 81 1-31 1-59 1 74 1 15 1-27 1 12 1-4 1-8 1 38 1-163 1 41 1 26 1-40 1 44 1-36 1 110 1-131 1 8 1-63 1 3 1 66 1 53 1-106 1-23 1-3 1 57 1 16 1-49 1 69 1 57 1-113 1-7 1 14 1 107 1-38 1 61 1-1 1-111 1 87 1-34 1-103 1 39 1-9 1-2 1 39 1 48 1-111 1 107 1 6 1-52 1 54 1-49 1 67 1 14 1-50 1-89 1 25 1 10 1 33 1-28 1 73 1-77 1 60 1-9 1 43 1-30 1 11 1-39 1-16 1 51 1-16 1-13 1-14 1-46 1 118 1-67 1-5 1 10 1-88 1 101 1 42 1-64 1 31 1-108 1 157 1 6 1-108 1 58 1 11 1 9 1 11 1-34 1 90 1-61 1-76 1 1 1 72 1-24 1 37 1-86 1 8 1 99 1 16 1-26 1-47 1 123 1-94 1 112 1-14 1-50 1-23 1-6 1-65 1 141 1-82 1-46 1 1 1-54 1 90 1 10 1 76 1-22 1-116 1 104 1-81 1 0 1 49 1-49 1 92 1-36 1 25 1 2 1 24 1-63 1-69 1 17 1 54 1-23 1-6 1 43 1-72 1 53 1 18 1-152 1 93 1 42 1-48 1 88 1-30 1-121 1 37 1 76 1 29 1-37 1 23 1-102 1 155 1-134 1 97 1 28 1-25 1 43 1-35 1-16 1 47 1-57 1-48 1 104 1-18 1-3 1-28 1-26 1-41 1 100 1-80 1 7 1 61 1-76 1 35 1 12 1 9 1-10 1-53 1-3 1 57 1 17 1-45 1-47 1 34 1 104 1-103 1-1 1 66 1-17 1-21 1-46 1 43 1-7 1 8 1-69 1 137 1-170 1 163 1-48 1 2 1-49 1-38 1-64 1 46 1 96 1-43 1 21 1 10 1-27 1 29 1 29 1 33 1-85 1 21 1-59 1-12 1 133 1 25 1-109 1 2 1 14 1 7 1-119 1 59 1-72 1 0 1 118 1-106 1-13 1 160 1-34 1-61 1 71 1-117 1 123 1-142 1 137 1-16 1-75 1 11 1-16 1-33 1 10 1 16 1 72 1-47 1 35 1-92 1 156 1-84 1-33 1 34 1-65 1 152 1-45 1 22 1-32 1 46 1-90 1-4 1 134 1 19 1-147 1 57 1 80 1-107 1 49 1-110 1 92 1-40 1-40 1 30 1-52 1 12 1 126 1-61 1 90 1-103 1 5 1 14 1-62 1 31 1-57 1 47 1 12 1-14 1 42 1-64 1 163 1-9 1-57 1-82 1 98 1 39 1-21 1-48 1 35 1-59 1 48 1-74 1 64 1-51 1-91 1 125 1-4 1-46 1 111 1 3 1 4 1-55 1 92 1-115 1 38 1-28 1 36 1 6 1 84 1-136 1 83 1-40 1 45 1-12 1-57 1-59 1 122 1 47 1-39 1 104 1-95 1-8 1-36 1 66 1-88 1 64 1-45 1 24 1 10 1-8 1-110 1 43 1-30 1 81 1-50 1 6 1 31 1-2 1 72 1-12 1-10 1-26 1-49 1-2 1-25 1 59 1-16 1-27 1 36 1 36 1-95 1 96 1 17 1 1 1-137 1 57 1 2 1 95 1-91 1 36 1 37 1-139 1 43 1-90 1 79 1-23 1 56 1-41 1 33 1-9 1-8 1 86 1-48 1-12 1 35 1-21 1-71 1-57 1 48 1 110 1-112 1-33 1 69 1 16 1-75 1-1 1-46 1 87 1-73 1 50 1 75 1-93 1 36 1-17 1 2 1-10 1-11 1 81 1 8 1-34 1-22 1-30 1-7 1 86 1-113 1 20 1-20 1 7 1 13 1-17 1 99 1-144 1 17 1 46 1 28 1-65 1 62 1-75 1 76 1 28 1-19 1 5 1-70 1 18 1 11 1 50 1-97 1 67 1-23 1-38 1 64 1 1 1-6 1-28 1 32 1 46 1-88 1 109 1 47 1-50 1 18 1-81 1-11 1 26 1 52 1-21 1-66 1 128 1-122 1 2 1 11 1-6 1 82 1-153 1-23 1-6 1 133 1-61 1 18 1 86 1-64 1-53 1 41 1-49 1 48 1 54 1-22 1-40 1 100 1-59 1-77 1 42 1-31 1 18 1-64 1 163 1 24 1-81 1-30 1-64 1-7 1 69 1-34 1 68 1 16 1 6 1-136 1 33 1 9 1 59 1-23 1-54 1-19 1 0" stroke="#000000"/>
<path transform="translate(105.30 702.05) scale(0.290117)" stroke-width="8.962" d="M0 2099 l1-44 1-35 1-171 1-82 1-154 1-19 1-20 1 38 1-36 1 36 1-109 1 48 1 47 1 0 1 21 1 9 1-41 1 2 1-53 1 67 1-3 1 4 1-97 1 107 1-75 1 29 1-47 1-75 1 120 1-102 1-37 1-8 1 122 1-27 1-63 1 33 1 10 1-56 1 9 1 72 1-27 1-91 1 69 1-77 1 119 1-32 1 4 1-57 1 43 1-57 1 11 1-116 1-45 1 91 1 83 1-47 1-17 1 2 1-59 1-62 1-22 1 82 1 1 1-13 1 48 1 15 1 32 1 7 1-23 1-81 1 33 1-24 1 29 1-52 1 21 1-39 1 93 1-64 1 99 1-24 1 44 1-63 1-23 1-29 1-40 1 80 1-5 1-106 1 58 1 11 1-14 1-8 1-77 1 55 1 2 1 22 1-37 1 73 1-57 1 30 1-6 1-39 1 81 1 107 1-68 1-96 1 26 1-40 1 72 1-25 1 35 1-48 1-88 1 86 1 70 1-55 1-16 1 22 1-4 1-24 1 4 1-6 1 50 1 9 1-20 1-86 1 37 1 18 1-53 1-4 1 17 1 43 1 43 1 15 1-74 1 42 1-4 1-37 1-28 1 84 1-29 1 95 1-34 1-130 1 101 1-84 1 53 1 46 1 60 1-112 1 48 1-15 1-2 1 3 1-70 1 93 1-90 1 20 1 52 1-75 1 0 1 110 1-8 1-55 1-14 1 128 1-79 1-107 1 157 1-97 1 63 1-50 1-28 1-48 1 34 1 62 1-28 1 29 1-31 1 130 1-12 1-1 1-45 1-6 1 49 1-77 1 36 1-45 1 28 1-83 1 101 1 50 1-55 1-71 1 66 1-36 1 3 1-118 1 63 1-29 1 172 1-132 1 14 1 93 1-95 1 42 1 68 1-64 1-24 1-5 1 90 1-151 1 114 1 55 1-114 1-53 1 96 1-42 1-1 1 47 1-34 1-6 1 13 1 52 1-15 1-76 1 91 1-109 1 30 1-65 1 22 1 33 1-110 1 40 1 86 1-109 1 52 1 49 1-34 1 46 1-35 1-31 1 85 1-34 1 10 1 27 1-12 1-81 1 50 1 92 1-64 1 9 1-18 1 38 1 13 1-3 1-71 1-35 1 47 1 76 1-37 1-5 1 15 1-38 1 30 1-109 1 120 1-130 1 52 1 37 1-12 1-5 1 15 1-11 1-5 1 106 1-84 1-5 1 75 1-8 1-46 1-98 1 103 1 71 1-42 1-37 1 25 1 16 1-52 1 41 1 39 1-29 1-95 1 93 1 0 1-36 1-50 1 38 1-2 1-135 1 146 1-5 1 3 1 42 1-78 1 61 1-82 1 36 1-92 1-34 1 65 1-46 1 69 1 29 1-24 1 18 1 3 1 11 1 4 1-82 1-4 1 35 1 115 1-91 1 18 1-36 1-24 1 102 1-137 1 44 1 112 1-68 1-5 1-6 1-55 1-7 1 142 1-137 1-22 1 149 1-33 1 3 1-94 1 39 1-42 1 126 1 62 1-129 1 16 1 76 1 23 1-23 1-53 1-11 1 104 1-133 1 50 1-1 1-100 1 55 1-14 1 24 1 11 1 96 1-110 1 120 1-17 1-14 1 11 1-86 1-50 1 162 1-62 1-77 1 35 1 37 1 13 1-33 1 76 1 22 1-67 1 7 1 85 1-145 1 24 1-47 1-23 1 41 1 41 1-3 1-84 1 75 1 61 1-34 1 46 1-51 1-42 1 73 1 12 1-50 1 16 1-27 1-21 1 4 1 14 1-73 1 144 1-51 1-9 1-119 1 109 1 35 1-47 1-21 1 105 1-108 1 116 1-31 1-60 1 74 1-114 1 146 1-39 1-69 1 81 1 12 1-133 1 33 1 69 1 6 1 39 1-84 1-60 1 136 1-140 1 48 1 164 1-145 1-5 1-28 1 67 1-30 1-8 1 23 1-23 1 9 1-67 1 32 1-69 1 157 1-33 1-34 1-16 1-93 1 46 1 50 1-57 1 148 1-99 1 147 1-47 1-13 1 30 1-49 1 69 1-92 1 69 1-77 1 44 1-52 1 79 1 26 1-128 1 55 1 48 1-56 1-3 1-6 1 39 1 32 1-89 1 28 1 24 1-89 1-42 1 150 1 40 1-93 1-10 1-15 1 63 1-51 1 35 1-42 1 109 1-103 1 19 1-151 1 72 1-1 1 16 1-73 1 34 1 15 1 80 1 34 1-189 1 208 1-43 1-73 1 41 1-16 1 42 1-74 1 76 1-70 1 5 1 26 1 78 1-55 1-75 1 5 1 112 1-5 1 50 1-100 1-27 1 96 1-104 1 80 1-125 1 84 1-18 1-52 1 78 1 71 1-127 1-13 1 120 1-17 1-23 1 45 1-15 1-45 1-18 1-17 1-121 1 70 1-5 1 10 1 22 1-47 1 26 1 100 1-62 1 72 1-37 1 60 1-77 1-63 1 42 1 44 1-71 1 39 1-95 1 175 1-88 1 88 1-89 1 12 1 29 1 14 1-155 1 136 1-19 1 3 1-65 1 114 1-47 1-31 1-24 1 57 1 8 1 83 1-7 1-73 1 61 1 27 1-112 1 54 1 38 1-38 1-29 1 75 1-84 1 56 1-13 1 2 1-24 1-33 1 6 1-11 1 22 1 88 1-56 1-18 1-71 1 14 1-12 1 103 1 4 1-2 1 47 1-87 1-73 1 89 1 18 1-95 1 108 1-51 1 8 1 17 1 74 1-67 1 16 1-39 1-14 1 85 1-96 1 12 1 7 1 15 1 8 1 1 1 0 1-61 1 52 1 115 1-156 1 10 1 118 1-56 1-81 1 9 1 0 1-9 1-38 1-43 1 65 1 38 1 47 1-1 1-29 1 10 1-88 1 30 1 72 1-22 1 16 1 0 1-21 1-78 1 96 1 10 1 8 1-70 1-9 1 46 1-43 1 101 1 1 1-25 1 14 1 11 1-5 1-124 1 109 1-33 1 0 1 1 1 67 1-29 1-48 1-29 1 72 1 5 1-35 1-46 1 44 1-50 1 38 1 86 1-109 1 45 1 28 1 23 1-26 1 63 1-66 1-6 1 90 1-75 1-35 1 21 1-39 1 55 1-54 1 97 1-52 1-64 1-99 1 116 1-23 1-14 1 26 1-17 1 41 1 72 1-80 1 1 1-10 1-21 1 51 1-30 1 17 1 10 1 14 1-23 1-7 1 0 1-38 1-44 1 27 1-21 1 150 1-58 1 25 1 34 1-53 1-83 1 158 1-60 1-50 1-21 1 35 1-30 1-1 1-40 1 89 1 31 1-139 1 97 1-55 1 83 1-7 1 5 1-86 1 174 1-67 1-14 1-98 1 102 1 15 1-28 1-71 1 92 1-3 1 40 1-23 1-104 1 5 1 75 1-32 1 71 1 9 1-75 1 19 1 29 1 59 1-92 1 2 1 45 1-79 1 21 1 45 1-96 1 13 1 37 1 15 1 49 1-65 1-67 1 125 1 18 1-1 1-99 1 54 1 3 1 2 1 59 1-18 1-18 1-4 1-25 1-4 1 104 1-135 1-12 1 34 1 5 1-11 1-54 1 40 1-24 1 5 1 43 1 70 1-71 1 30 1-75 1-26 1-34 1 92 1 64 1-40 1-75 1-12 1 55 1 17 1 21 1 20 1 15 1-91 1 8 1 108 1-62 1 7 1-68 1 68 1 11 1 5 1-55 1 66 1-52 1 14 1-90 1 122 1-40 1 15 1 56 1-47 1-80 1 20 1 96 1-105 1-26 1-33 1-17 1 43 1 5 1 120 1 9 1-83 1 42 1-27 1 57 1 44 1-85 1 38 1 32 1-102 1 49 1-2 1 0 1-85 1 49 1-6 1 22 1-47 1-18 1-30 1 147 1-109 1 76 1-17 1 14 1-95 1 21 1 65 1-49 1-2 1 106 1-99 1-15 1 53 1-54 1 27 1 44 1 28 1-90 1 119 1-147 1 59 1-92 1 111 1-14 1 25 1-1 1-150 1 97 1-33 1-7 1-56 1 25 1 78 1 28 1 45 1-66 1-59 1 58 1 89 1-73 1-10 1-45 1 79 1-132 1 110 1-140 1 12 1-9 1 60 1-2 1 133 1-40 1-37 1-28 1 20 1-55 1 1 1 80 1-135 1 2 1 141 1 16 1-78 1 52 1-62 1 23 1 52 1 28 1-48 1 56 1-29 1 38 1-8 1-126 1 59 1-5 1 6 1 33 1-29 1-57 1 31 1-85 1 78 1 18 1 61 1-10 1-36 1-51 1 33 1 31 1-81 1 86 1 20 1-87 1-15 1 100 1-59 1-18 1 90 1-62 1 0 1 19 1-4 1-54 1 35 1 71 1-98 1 25 1-74 1-24 1 72 1 80 1-56 1 17 1-12 1-37 1 26 1-73 1 45 1-37 1 33 1 20 1-135 1 112 1-56 1 134 1-109 1 58 1 43 1-116 1 94 1-135 1 112 1 53 1-20 1-85 1 42 1 5 1-31 1-4 1-30 1-29 1 43 1-28 1 102 1-8 1-26 1 10 1-18 1-54 1 45 1-16 1-8 1 59 1-4 1-12 1 73 1-92 1 56 1-48 1 14 1 33 1-72 1-37 1 33 1-23 1 0 1-69 1 123 1-29 1 14 1-52 1-7 1 55 1-36 1-3 1 59 1-70 1 73 1-45 1 86 1-24 1-39 1-59 1-6 1 72 1-81 1 13 1 144 1-144 1 91 1 37 1-51 1 50 1-41 1-145 1 138 1 15 1-60 1-1 1-35 1-58 1 161 1 14 1-123 1 55 1 50 1 19 1-48 1-103 1 16 1 78 1 9 1-92 1 94 1 18 1 15 1-91 1 27 1-16 1 96 1-31 1-75 1 66 1-63 1 77 1 4 1-73 1 97 1-96 1 25 1 46 1 13 1-98 1 32 1 10 1 77 1-54 1 25 1-3 1-55 1-30 1 1 1 129 1-97 1-77 1 120 1-69 1-22 1 98 1-128 1 125 1-48 1 29 1 1 1-58 1 98 1-7 1-2 1 51 1-41 1-36 1 124 1-58 1-136 1 191 1-98 1 49 1-32 1 15 1 1 1-15 1 38 1-33 1-48 1-86 1 53 1-21 1 74 1 53 1-71 1-83 1 104 1 1 1-28 1 15 1 55 1-42 1-54 1 75 1 10 1 43 1-103 1-18 1 7 1 3 1 39 1 19 1 38 1-69 1-40 1 20 1 92 1-108 1 91 1 16 1-43 1 30 1 13 1-34 1 17 1 33 1-120 1-64 1 1 1 83 1 70 1-32 1-22 1 37 1-48 1 14 1 16 1 60 1 11 1-77 1-22 1 36 1-48 1 66 1 27 1-78 1 53 1-167 1 117 1-34 1 77 1 42 1-91 1 9 1 48 1-68 1-8 1 12 1-6 1 59 1-20 1-33 1-95 1 145 1-128 1 45 1-5 1 81 1-68 1 51 1 38 1-105 1 58 1 40 1-87 1 45 1-130 1 108 1 50 1-20 1 15 1-101 1 106 1-85 1-7 1-20 1 30 1-10 1 47 1 57 1-106 1 111 1-31 1 2 1-32 1-88 1 5 1 70 1-48 1 86 1 96 1-90 1-6 1-5 1-78 1 16 1 24 1-10 1-38 1 45 1 90 1-143 1 79 1 48 1-118 1 68 1-4 1-88 1 60 1-41 1-3 1-39 1-51 1 186 1-39 1-10 1 122 1-87 1 44 1-61 1-30 1 14 1 24 1-9 1 39 1-72 1 24 1-24 1-39 1 140 1-15 1 30 1-154 1 40 1-71 1 100 1-26 1-24 1 16 1 96 1 0 1-97 1 7 1 80 1-73 1 178 1-25 1-32 1 35 1-115 1-19 1-47 1-12 1 47 1-93 1 65 1-78 1 70 1 43 1-55 1-45 1 27 1 91 1-99 1 120 1 46 1-111 1 115 1-113 1-118 1 72 1-39 1 105 1-29 1-3 1 19 1 11 1 23 1-80 1-43 1 49 1-76 1 90 1 102 1-34 1-52 1 17 1-16 1 16 1 62 1-41 1 12 1 8 1-16 1 89 1-63 1-14 1-44 1-43 1 0 1-60 1 169 1-126 1 58 1-33 1 76 1-180 1 64 1 110 1 32 1-61 1 10 1 15 1 11 1-35 1 36 1-146 1 211 1-43 1-45 1 83 1-11 1-198 1 126 1 15 1-11 1-62 1 143 1-144 1 150 1-111 1 39 1-79 1 69 1 85 1-73 1-79 1 95 1-13 1-35 1-135 1 182 1-103 1 128 1-19 1-95 1 5 1 43 1 55 1-13 1 2 1 20 1-77 1-2 1 70 1 1 1 2 1-134 1 41 1 8 1 55 1-43 1 19 1-61 1-15 1 134 1-122 1 1 1 178 1-70 1-84 1 96 1-86 1 182 1-73 1-25 1-6 1-5 1 4 1 96 1-97 1-37 1-47 1-68 1 16 1 109 1-35 1 0 1-122 1 13 1 37 1 100 1-79 1 58 1 24 1 29 1-89 1-41 1 70 1 14 1 1 1-28 1 90 1-27 1-47 1-8 1 75 1-3 1-43 1-18 1 5 1-18 1-4 1 53 1-18 1 1 1 20 1-8 1-14 1 86 1-87 1-78 1 98 1 7 1-52 1 69 1-6 1 70 1-108 1 93 1-138 1-4 1 29 1-21 1 68 1-63 1 43 1 86 1-10 1-72 1 39 1-126 1 77 1 46 1-88 1-22 1-13 1 164 1-140 1 33 1 14 1 11 1-28 1 6 1 78 1-47 1-50 1 28 1 43 1-51 1-17 1-3 1 45 1 19 1-10 1-34 1 3 1 37 1-32 1 0 1 27 1-24 1-81 1 5 1 44 1-52 1-5 1 34 1-7 1 75 1 34 1-127 1 69 1-52 1 154 1-50 1-8 1 0 1 45 1-51 1-70 1-71 1 149 1-45 1 18 1-8 1 54 1-64 1-6 1-7 1 33 1-125 1 4 1 83 1 22 1 19 1-66 1-15 1-11 1 58 1 17 1 21 1 14 1 63 1-106 1 49 1-70 1-81 1 112 1 14 1 16 1-5 1 43 1-120 1 11 1 3 1 49 1-42 1 0 1-3 1-122 1 92 1 46 1-15 1-2 1 10 1-9 1 5 1-59 1 166 1-71 1-41 1-40 1 113 1-3 1-33 1-20 1-74 1 42 1-64 1 52 1-9 1-30 1 53 1 70 1-67 1 88 1-41 1-45 1 140 1-68 1 11 1-8 1 8 1-58 1-108 1 106 1 31 1-24 1 11 1 37 1-145 1 88 1 14 1-22 1 37 1-25 1 101 1 15 1-87 1-71 1 110 1 34 1-122 1-60 1-22 1 57 1 39 1-51 1 26 1 16 1-35 1-3 1 67 1-9 1-49 1 5 1 101 1-132 1 75 1-171 1 152 1-3 1-94 1 88 1 33 1-81 1 72 1-69 1 17 1-69 1 140 1-2 1 13 1-31 1-5 1 51 1-108 1 15 1 11 1 45 1 26 1-59 1 11 1 10 1-26 1 54 1 20 1-70 1 41 1 69 1-122 1-2 1 25 1-58 1-32 1-9 1 58 1 56 1 31 1-88 1 63 1-65 1 60 1-43 1-3 1-15 1 63 1-16 1 38 1-15 1-93 1 51 1 47 1 4 1-38 1 3 1 48 1-131 1 50 1-70 1 15 1 59 1-39 1 110 1-47 1-3 1-45 1 76 1-103 1 114 1-44 1-13 1 49 1-78 1 36 1-19 1 96 1-15 1-128 1-1 1 36 1 70 1-36 1 30 1 12 1 23 1 45 1-79 1-10 1 18 1-35 1-72 1 86 1-17 1-66 1 96 1-11 1-36 1 70 1-27 1-70 1 81 1-87 1 143 1-35 1-51 1 49 1-42 1-61 1 100 1-71 1 28 1 0 1-83 1 145 1-60 1 56 1-113 1 42 1-4 1-1 1 81 1 12 1-84 1 41 1-29 1 12 1 10 1-51 1 14 1-73 1 59 1 10 1-17 1 87 1-72 1 10 1 7 1 0 1 28 1 1 1-13 1 60 1-136 1 80 1 15 1-50 1 26 1-46 1 22 1-12 1 41 1-48 1 64 1-4 1-23 1-39 1 99 1-14 1-43 1-60 1 23 1 40 1 59 1-154 1 159 1-90 1 86 1 10 1-52 1 47 1-21 1-10 1-3 1-78 1 56 1 44 1-90 1 116 1-119 1-59 1 20 1 22 1 45 1-26 1 41 1 21 1-130 1 15 1-28 1 130 1-72 1 25 1 71 1-132 1 85 1 12 1-87 1-30 1 127 1 13 1-28 1-38 1 3 1 7 1 29 1 41 1 45 1-83 1-27 1 36 1-105 1 93 1 0 1 121 1-143 1 174 1-170 1 4 1 76 1 56 1-90 1-38 1 81 1-113 1-9 1-34 1-15 1 175 1-129 1 96 1-76 1 23 1-72 1 25 1-37 1 22 1 13 1 21 1 51 1 73 1-116 1 15 1-27 1-30 1 13 1 14 1-104 1 3 1 90 1 148 1 59 1-45 1-27 1-35 1 9 1-67 1 21 1 37 1-60 1-28 1 67 1 36 1-115 1-31 1 107 1 8 1 11 1 8 1-3 1-77 1 7 1 36 1-56 1 30 1 62 1-58 1-26 1 11 1-55 1 54 1 21 1 43 1-50 1-16 1 79 1-43 1 22 1-57 1 46 1-26 1 114 1-101 1 25 1 4 1 14 1 34 1 9 1-96 1 32 1 55 1-25 1 5 1 33 1-39 1-82 1 15 1 53 1-97 1 98 1-78 1-35 1 39 1 27 1 109 1-85 1 20 1-54 1-59 1 72 1 29 1 76 1-162 1 76 1 115 1 12 1-136 1 32 1 5 1 31 1-42 1 31 1 5 1 122 1-198 1 51 1-92 1 141 1-31 1-19 1-39 1-63 1 39 1-86 1 125 1 102 1-60 1 23 1-58 1 7 1 24 1 35 1-72 1 23 1 34 1-55 1 35 1-50 1 76 1 99 1-94 1-9 1-54 1 43 1-8 1-85 1 51 1-8 1-51 1 37 1-8 1 65 1-62 1 84 1 20 1-17 1-7 1-116 1 39 1-21 1 34 1 29 1-45 1 38 1 24 1 45 1-46 1-4 1-12 1-2 1 0 1-87 1 62 1-47 1 109 1-42 1-45 1-21 1 96 1-67 1-4 1 69 1 34 1-54 1-23 1-73 1 98 1 37 1-127 1 96 1 20 1-13 1-29 1 153 1-66 1-46 1-48 1 28 1-8 1 27 1-8 1-14 1-15 1 17 1 107 1-105 1-52 1 98 1-145 1 146 1-58 1 118 1-151 1 70 1-101 1 40 1-68 1 22 1 97 1-18 1 29 1-109 1 123 1-64 1 9 1-68 1 77 1-24 1-11 1-34 1-3 1 13 1-79 1 197 1-82 1 21 1-13 1-10 1 41 1 25 1-47 1-26 1 82 1-145 1 94 1-30 1-14 1 51 1-7 1-72 1 77 1-72 1 106 1-43 1-36 1 64 1-10 1-74 1 91 1-48 1-11 1 58 1-42 1-54 1-29 1 73 1-29 1 25 1-58 1 195 1-209 1 28 1 40 1 9 1-41 1 14 1-68 1 146 1-77 1-1 1 56 1 54 1-103 1 19 1 1 1-22 1-9 1 60 1 24 1-16 1-59 1-4 1 22 1 110 1-35 1-43 1 71 1-127 1 125 1-126 1 9 1 60 1 104 1-218 1 94 1-4 1-47 1 39 1 5 1 48 1-107 1 5 1 94 1-92 1-4 1 62 1-117 1 59 1 40 1-3 1 99 1-150 1-65 1 33 1 33 1 69 1-50 1 28 1-72 1-38 1 125 1-125 1 45 1 25 1-3 1 30 1 19 1 30 1-4 1-21 1-46 1-71 1 104 1-39 1 12 1 36 1-6 1 1 1-36 1-39 1 104 1-105 1 65 1-31 1 53 1-10 1 58 1-17 1 16 1-50 1-22 1 35 1-27 1 13 1-64 1 156 1-34 1-40 1 36 1-154 1 111 1 0 1-86 1 55 1 94 1 8 1-42 1-38 1-1 1-37 1 35 1 40 1-41 1 17 1 7 1 71 1-133 1 65 1 136 1-78 1-65 1 37 1 61 1-15 1-95 1-9 1 128 1-46 1-44 1-11 1-4 1 28 1-20 1 0 1-4 1-68 1 82 1 37 1-99 1 205 1-100 1 106 1-116 1-62 1 0 1 13 1-4 1 8 1 40 1-54 1 29 1 7 1 63 1-78 1 52 1 2 1-10 1 88 1-45 1 39 1-10 1-117 1 18 1 7 1-135 1 140 1-26 1 118 1-112 1 50 1-21 1 67 1-11 1-48 1 9 1 26 1-5 1-54 1 50 1-57 1-17 1 5 1 76 1-31 1 55 1-61 1-26 1-53 1-39 1 48 1 36 1-86 1 102 1-67 1-44 1 186 1-145 1 97 1-6 1 14 1-9 1-117 1-5 1 155 1-88 1-86 1 106 1 31 1-27 1-30 1 12 1 3 1 121 1-86 1-36 1 6 1 2 1 35 1-94 1 47 1-41 1 40 1-70 1 27 1 48 1-23 1 76 1-38 1-64 1 25 1 34 1 113 1-135 1 41 1-51 1-24 1 84 1-45 1 49 1 19 1-82 1 74 1-72 1-31 1-6 1 59 1-2 1-51 1 47 1-62 1 66 1 46 1-58 1 117 1-49 1 64 1-88 1-22 1 54 1-60 1 13 1-11 1-38 1 55 1 43 1-55 1-87 1 18 1 69 1 54 1-62 1 20 1 16 1-4 1-150 1 46 1 80 1-73 1 58 1 12 1-59 1 51 1-163 1 156 1 54 1-46 1-20 1 62 1-89 1 88 1-101 1 47 1 153 1-193 1 75 1 63 1-76 1 56 1-45 1-6 1 85 1-19 1-61 1-51 1-93 1 171 1-70 1 58 1-7 1 18 1-23 1-25 1-41 1 26 1 33 1-10 1-8 1 26 1 43 1-24 1-115 1 106 1-2 1-35 1-8 1-35 1 11 1 53 1-33 1 0 1 64 1-30 1 45 1-43 1-8 1 72 1-57 1 4 1 29 1-38 1-6 1 78 1-35 1 98 1-118 1-8 1 23 1 11 1-113 1 60 1-31 1 109 1-106 1-1 1 145 1-120 1 13 1-44 1 69 1-101 1 11 1-40 1 59 1 49 1-78 1-34 1 82 1-37 1-18 1 27 1-2 1 17 1 16 1 12 1 3 1-13 1-21 1-11 1-4 1 39 1 30 1 8 1-29 1-79 1 127 1-47 1-30 1 36 1 39 1-52 1 31 1-14 1 22 1-33 1 4 1-62 1 72 1-42 1 34 1 136 1-68 1-52 1-57 1 58 1-43 1 81 1 31 1-23 1-29 1-37 1 2 1 63 1-54 1 22 1 15 1-83 1-3 1 100 1-40 1 2 1 113 1-110 1 84 1-60 1 48 1-50 1-53 1-18 1 12 1-9 1 80 1-54 1-29 1-15 1 56 1 6 1-11 1 14 1 32 1-97 1 72 1 28 1-107 1-18 1 141 1-21 1-18 1-80 1-26 1 88 1-58 1-42 1 52 1 75 1-49 1 24 1-55 1-10 1 77 1-67 1 5 1-14 1-84 1 90 1-77 1 96 1-13 1-87 1 49 1 1 1 29 1-14 1 99 1-21 1-103 1 20 1-8 1 14 1-67 1 109 1-11 1-69 1-58 1-25 1 90 1-55 1 42 1 34 1-1 1 57 1-102 1 31 1 33 1-4 1 2 1-9 1-92 1 103 1 1 1-63 1 28 1 44 1 53 1 13 1-69 1-60 1-23 1 151 1-25 1-44 1 16 1 16 1-61 1-15 1-13 1 86 1-94 1 154 1-35 1-134 1 89 1-5 1-5 1 7 1-122 1 109 1-67 1 50 1 72 1-83 1 32 1 62 1-133 1 118 1-113 1 32 1 9 1 67 1-19 1-5 1 26 1 9 1-65 1-63 1 77 1-111 1 74 1-23 1 129 1-61 1 37 1-6 1 3 1 3 1 1 1-63 1 97 1-39 1-18 1-14 1-4 1 20 1 38 1-34 1-112 1 25 1-8 1 78 1 67 1-152 1 84 1 94 1 0 1-13 1-39 1-77 1 80 1-110 1 107 1-38 1 48 1-58 1 53 1-96 1-18 1 48 1-38 1 31 1 3 1 69 1-114 1-25 1-66 1 90 1 48 1-121 1 92 1 11 1 8 1-22 1 46 1 75 1-100 1-50 1 130 1-24 1-58 1 40 1-52 1-69 1 121 1 45 1 29 1-111 1 122 1-76 1-84 1 96 1-69 1-11 1-48 1-3 1 87 1 27 1-127 1 56 1 53 1-48 1-45 1 55 1-43 1-20 1 77 1-13 1 41 1 149 1-239 1 66 1-85 1 55 1 30 1-13 1-37 1 36 1 20 1-44 1 71 1-54 1 56 1-130 1 161 1-2 1-34 1 16 1 10 1-30 1 103 1-62 1-117 1 75 1 60 1-61 1 115 1-130 1 79 1 60 1 23 1-128 1 5 1 17 1-59 1 72 1-132 1 138 1-33 1-24 1 0 1 34 1 23 1 24 1-69 1 29 1-1 1 39 1-39 1-39 1 11 1-35 1-34 1 143 1-87 1 74 1-1 1-30 1 24 1-38 1-12 1 45 1-37 1 89 1-74 1-67 1 24 1 132 1-122 1 55 1-101 1 100 1-53 1-79 1 30 1 29 1-82 1 59 1 48 1-29 1-21 1-8 1 73 1-105 1 38 1 34 1 81 1-129 1 127 1-52 1-37 1-37 1 192 1-162 1 7 1 24 1-26 1 62 1-18 1-21 1 0 1-5 1-6 1-28 1 39 1-53 1 52 1-58 1 76 1-41 1 61 1 8 1-16 1-13 1-70 1 160 1-190 1 99 1-19 1-76 1 9 1-48 1 108 1-86 1 61 1-24 1 104 1-154 1 85 1-77 1 46 1 3 1 25 1 76 1-70 1 20 1 7 1-70 1 32 1-14 1-79 1 63 1 9 1-30 1 52 1-20 1 41 1 23 1 2 1 39 1-99 1-31 1 27 1-19 1 41 1-156 1 97 1 12 1 23 1-85 1 57 1 44 1-1 1 21 1 28 1 3 1-110 1 123 1-82 1 52 1-28 1-90 1-9 1 38 1 47 1 19 1-46 1-21 1-5 1 92 1 37 1-110 1 59 1 3 1-15 1-54 1-1 1 107 1-96 1-92 1 61 1 41 1-19 1 102 1 10" stroke="#ffa500"/>
<path transform="translate(105.30 702.05) scale(0.290117)" stroke-width="8.962" d="M0 2099 l1-105 1 3 1-80 1 27 1-37 1-64 1-17 1-25 1-104 1 116 1-36 1-40 1 42 1 34 1 48 1-75 1-23 1-25 1-94 1-1 1 86 1 3 1-40 1-1 1 47 1-12 1-18 1 97 1-17 1-91 1-9 1 34 1-11 1-60 1 27 1 55 1-52 1-14 1 22 1 30 1 18 1 29 1-22 1-21 1 21 1 39 1-43 1 26 1-36 1 16 1-78 1-20 1 50 1-27 1 29 1 103 1-118 1 17 1 57 1 32 1-110 1 2 1 30 1-7 1-72 1 65 1 33 1 55 1-69 1 82 1-109 1 1 1-11 1 59 1-32 1 36 1-34 1-4 1-8 1 5 1-16 1 40 1 33 1-136 1 156 1 13 1-38 1-100 1 46 1 50 1-7 1-72 1 41 1 3 1 4 1-64 1 114 1-136 1 95 1-115 1 98 1 21 1 60 1 10 1-65 1 38 1-18 1 8 1 22 1 30 1-136 1 25 1-21 1 37 1 67 1-73 1 18 1 80 1-46 1-4 1 22 1-60 1-8 1-18 1 78 1 10 1-47 1 23 1-23 1 91 1-52 1-51 1 67 1-69 1 25 1-3 1 50 1-54 1-4 1 27 1 41 1-71 1-7 1 14 1-34 1 43 1-31 1-8 1-17 1 61 1-62 1 9 1-5 1 9 1 18 1-56 1 26 1 41 1-76 1 58 1-25 1-98 1 53 1-27 1-22 1 60 1 4 1-68 1 75 1 3 1-81 1 155 1-44 1 10 1-61 1 14 1-21 1-66 1 31 1 32 1-56 1 28 1-16 1-5 1-9 1-64 1 122 1-65 1 50 1 36 1-51 1-18 1 108 1-120 1 51 1-26 1-43 1 84 1 9 1-30 1 27 1 4 1-56 1 18 1 15 1 60 1-51 1 142 1-111 1-22 1-3 1-14 1 29 1 34 1-29 1-57 1 18 1-10 1 52 1-39 1-49 1 62 1-48 1-9 1-2 1 72 1-10 1-25 1-75 1 27 1-35 1 55 1-21 1-24 1 58 1-5 1 38 1-12 1-65 1 53 1-33 1 117 1-127 1-2 1 69 1-10 1 30 1-63 1 39 1-45 1-72 1 80 1-10 1-7 1-25 1 66 1 43 1 49 1-51 1 8 1-25 1 64 1-86 1 30 1-56 1 128 1-38 1-91 1 34 1 56 1 17 1-5 1 47 1-132 1 35 1 29 1-60 1-30 1 71 1 80 1-21 1-42 1 22 1 7 1-12 1 12 1 28 1 33 1-95 1 9 1-30 1-53 1 55 1 52 1-98 1-52 1 92 1-26 1 28 1-57 1 114 1-46 1-25 1 60 1-46 1-8 1 24 1-19 1-24 1 84 1-74 1 34 1 10 1-65 1 34 1 87 1-54 1-9 1-36 1 33 1-9 1-75 1 15 1 103 1-54 1-77 1 38 1-11 1 43 1 10 1-71 1 149 1-81 1-4 1 76 1-67 1 57 1-18 1-21 1-66 1 75 1-31 1 16 1 9 1 26 1-8 1-46 1 29 1 2 1-61 1 42 1 25 1 58 1-77 1 75 1-111 1-61 1 109 1-41 1 17 1-69 1 12 1 54 1 21 1-27 1 0 1 8 1 32 1-25 1-22 1 55 1-44 1 44 1-63 1 153 1-107 1-9 1 55 1 11 1-80 1 21 1 76 1-21 1-41 1 28 1-163 1 36 1 47 1-58 1 37 1-63 1 54 1 18 1 70 1-62 1 101 1-125 1 98 1-145 1 89 1 30 1-90 1 39 1 21 1 86 1-48 1-56 1-38 1 67 1 26 1-14 1-68 1 32 1-22 1 79 1-47 1 35 1-11 1-9 1 31 1-84 1 31 1 9 1 66 1-77 1-4 1 104 1-73 1-23 1-76 1-62 1 56 1 86 1-9 1-93 1 86 1-5 1-37 1 22 1 104 1-43 1-16 1-27 1-22 1 45 1 10 1-102 1 4 1 51 1 47 1-28 1-31 1-26 1 36 1-48 1 45 1-31 1 24 1-86 1 61 1 106 1-57 1-15 1 11 1 74 1-18 1-55 1 16 1-59 1 14 1 83 1-25 1 12 1-30 1-82 1 79 1-65 1 38 1 21 1 10 1-14 1-40 1 52 1-53 1 19 1 25 1 0 1-53 1 99 1-65 1-99 1 179 1-75 1 59 1-92 1 18 1 47 1-39 1 71 1-20 1 19 1-30 1 52 1-76 1-79 1 5 1 63 1 5 1 32 1-15 1 24 1 36 1-37 1-42 1 38 1-44 1-72 1 27 1 36 1 82 1-55 1 67 1-94 1 44 1-21 1 47 1-43 1-2 1-29 1-45 1 81 1 50 1-9 1-29 1 40 1-71 1 17 1-29 1-9 1-53 1 88 1-79 1-7 1 115 1-42 1 30 1-84 1 56 1 25 1 32 1 59 1-75 1 22 1-35 1 50 1 18 1-30 1-45 1-21 1 2 1-5 1 31 1-29 1 24 1-15 1-15 1 14 1 73 1-29 1-42 1 4 1-2 1-6 1 15 1 62 1-37 1-21 1-52 1 88 1-58 1 17 1-68 1 162 1-42 1-101 1-10 1 80 1-46 1 62 1-12 1-32 1-2 1 5 1 43 1 18 1-51 1-100 1 84 1-6 1 19 1-34 1 37 1 55 1-92 1 35 1 67 1-61 1-35 1-38 1 62 1 6 1-85 1 30 1 64 1 3 1-46 1 47 1-3 1-57 1-3 1 3 1-24 1 23 1 13 1 12 1 73 1-63 1-10 1 9 1 57 1-50 1-43 1 111 1-73 1 20 1-73 1 89 1-31 1-69 1 5 1 73 1-45 1 10 1 30 1-1 1-56 1 139 1-117 1 70 1-20 1-23 1 30 1-5 1-64 1 62 1 15 1 72 1-123 1 40 1-75 1-16 1-27 1 94 1-64 1-46 1 92 1 59 1-57 1 63 1 1 1-11 1-28 1-1 1 47 1 12 1-55 1-59 1 10 1 106 1-102 1 3 1-3 1-3 1 13 1-27 1-23 1 25 1 109 1-12 1-93 1 93 1-50 1-12 1 37 1-6 1-66 1 35 1 71 1-149 1 117 1-30 1 33 1-51 1 21 1 20 1-4 1 12 1 54 1-84 1 47 1 75 1 35 1-132 1 93 1-58 1-2 1 2 1-70 1 65 1 1 1-13 1-32 1 104 1-132 1 104 1-77 1 93 1-6 1-65 1 24 1-23 1 65 1-95 1 92 1-65 1-18 1-3 1 46 1-91 1 77 1 12 1-96 1-6 1 47 1-56 1 123 1-59 1 22 1 30 1 19 1-121 1 44 1-51 1 29 1 22 1 45 1 56 1-97 1-34 1-4 1 72 1-86 1 119 1-44 1-19 1-28 1 90 1-95 1 39 1 23 1-19 1 0 1-76 1 51 1 31 1-57 1-19 1 6 1 13 1 41 1-1 1-57 1-10 1 58 1-10 1-99 1 38 1 26 1-4 1 39 1 20 1-66 1 97 1-124 1-6 1 112 1 25 1-79 1 53 1 10 1-48 1 62 1-68 1-53 1 19 1 19 1 71 1-8 1 8 1-60 1-32 1 65 1 47 1 8 1 9 1-57 1-6 1 22 1-48 1 18 1-58 1-1 1 47 1-24 1 25 1 31 1 30 1-60 1-22 1 60 1 4 1 11 1-28 1 4 1 75 1-69 1 68 1-89 1 145 1-145 1-39 1 15 1 145 1-40 1-50 1 60 1-81 1-32 1 97 1 1 1-30 1-63 1 22 1 9 1 38 1-85 1 4 1-8 1-6 1-50 1-4 1 27 1 119 1-78 1-96 1 78 1-104 1 115 1-34 1-37 1 34 1-65 1 137 1-123 1 32 1 75 1 29 1 14 1-91 1 39 1-33 1-66 1 16 1 35 1-4 1 156 1-171 1 38 1 22 1-40 1-58 1 127 1-33 1 27 1-10 1-61 1 47 1 0 1-11 1 56 1-46 1-43 1 3 1 7 1-50 1-10 1 118 1-41 1-49 1 19 1 28 1-15 1 62 1-69 1 63 1-22 1-105 1 46 1 22 1 76 1-112 1 27 1-17 1 69 1 17 1 9 1-17 1-39 1 38 1 20 1-4 1-41 1-19 1 45 1-69 1-30 1 164 1-166 1 68 1-96 1 49 1-23 1 31 1-15 1 39 1-40 1-6 1-53 1 62 1-53 1 23 1-61 1-1 1 90 1-9 1 2 1 88 1-58 1-51 1 35 1-59 1 99 1-119 1 48 1 58 1-60 1 30 1 12 1-70 1 53 1-14 1-51 1 29 1-39 1-69 1 87 1 35 1 95 1-86 1 9 1-19 1 28 1-109 1 80 1 10 1-58 1 50 1 2 1 24 1-40 1 44 1 24 1-46 1-2 1-14 1 14 1 13 1 13 1-48 1-9 1-86 1-3 1 107 1-51 1-15 1-16 1-39 1 36 1 121 1-140 1 81 1-28 1 79 1-6 1 3 1-32 1-89 1 60 1 8 1 27 1-16 1-3 1 12 1-61 1 69 1-23 1-65 1-34 1-23 1 129 1-28 1 13 1 3 1-34 1-48 1 7 1 109 1 0 1-48 1-18 1 26 1 1 1-48 1-93 1-11 1 68 1 60 1-17 1 36 1-52 1 18 1 32 1-49 1 34 1-47 1 14 1-32 1-34 1 119 1-129 1 78 1 11 1-32 1-70 1 92 1-50 1-22 1 3 1 55 1 79 1 1 1-59 1 97 1-107 1 1 1-29 1 31 1 51 1-117 1 147 1-91 1 61 1-80 1-1 1 137 1-114 1 42 1-43 1-550 1 606 1-63 1 41 1-50 1-33 1-28 1 85 1 19 1-23 1-73 1-1 1 9 1 57 1 4 1-10 1 2 1-147 1 104 1 71 1-41 1 34 1-47 1-27 1 29 1-5 1 20 1 3 1-57 1 37 1 44 1-3 1-7 1-15 1-55 1 38 1-35 1 14 1-41 1 78 1-18 1-45 1-40 1 68 1-71 1 51 1 9 1 12 1 32 1-30 1 19 1-83 1 88 1 2 1 74 1 3 1-49 1-90 1 102 1-40 1 58 1-55 1-38 1 30 1-16 1 53 1 55 1-111 1 45 1-13 1-14 1 62 1-56 1 65 1 17 1-69 1-69 1 85 1-29 1 65 1-120 1 79 1-3 1-51 1 43 1 14 1 27 1-20 1-43 1-11 1 53 1 14 1-28 1-3 1-3 1-50 1 25 1-2 1-31 1 113 1-28 1-12 1 21 1-10 1 109 1-78 1-46 1-4 1-72 1 134 1 6 1-43 1 17 1-36 1 40 1 25 1-38 1 67 1-67 1 37 1-39 1-9 1 35 1 6 1-49 1 8 1 41 1-22 1 57 1-20 1 37 1 2 1-88 1-34 1 60 1-10 1-71 1 71 1-34 1 39 1 20 1-90 1 152 1-29 1-77 1 17 1 53 1-57 1 47 1 9 1-24 1-3 1 38 1-18 1 20 1-75 1-28 1 25 1 31 1 31 1-98 1 101 1 71 1-79 1 26 1-9 1 39 1 8 1-39 1-29 1 72 1-78 1-32 1 20 1-41 1 54 1 46 1 15 1-6 1-46 1 52 1-41 1-12 1 29 1-52 1-48 1 6 1 74 1-78 1 62 1-28 1-72 1 69 1 32 1-50 1-35 1 56 1 4 1 54 1-51 1 46 1-2 1-39 1 24 1 20 1-18 1-11 1 4 1 52 1-70 1 10 1 19 1 9 1-11 1-32 1 73 1-32 1 56 1-73 1-9 1-84 1 27 1-3 1 82 1-2 1-84 1 78 1 55 1 23 1-70 1 45 1 33 1-69 1 23 1-21 1-40 1 46 1 28 1-89 1-14 1 56 1 29 1-30 1 0 1-28 1 32 1-33 1 10 1-4 1 1 1-30 1-2 1-48 1 112 1 11 1-55 1 118 1-15 1-63 1-16 1 40 1-89 1-3 1 102 1-9 1 8 1-26 1 21 1-46 1-103 1 107 1 82 1-28 1-22 1 11 1-31 1-27 1-25 1-12 1 31 1-57 1 132 1-36 1-32 1-19 1 64 1-90 1 91 1-64 1-33 1 78 1-21 1 67 1-59 1-11 1 20 1 17 1 23 1 41 1-56 1 56 1-6 1-13 1-52 1-23 1-7 1 31 1 87 1-68 1 31 1 59 1-58 1 50 1-183 1 9 1 108 1 3 1 5 1 8 1-2 1-4 1 4 1-28 1 88 1-56 1-95 1 54 1-23 1-10 1 85 1-30 1-70 1-6 1 109 1-136 1 17 1 117 1-55 1 105 1-1 1-19 1-151 1 9 1-3 1 143 1-67 1 105 1-104 1-30 1 31 1-18 1 12 1 33 1 26 1 13 1-18 1 44 1-7 1-73 1 39 1-91 1-12 1 54 1-6 1-4 1 10 1-42 1 146 1-157 1 50 1 16 1 54 1 2 1-80 1 81 1 78 1-50 1-34 1 40 1-4 1-73 1 60 1-19 1-47 1 77 1-25 1-60 1-34 1 127 1-97 1-20 1 75 1 18 1 19 1-86 1 55 1-18 1 14 1 58 1-69 1 44 1-54 1 44 1 17 1-84 1 20 1-12 1-28 1 16 1-8 1 18 1-11 1-8 1 7 1-36 1 65 1 20 1-115 1 122 1-75 1 80 1 8 1-34 1-30 1 20 1-69 1 24 1-19 1 70 1 21 1-34 1 13 1-55 1 79 1 6 1-41 1 16 1-71 1 7 1 53 1-43 1 108 1-41 1-96 1 49 1 39 1-3 1-82 1 100 1-43 1 82 1-101 1-12 1-12 1 19 1 1 1 19 1-37 1 13 1 42 1 1 1-55 1 98 1-19 1-94 1 21 1 63 1-12 1 20 1 4 1-61 1-27 1 25 1 45 1-31 1-69 1 101 1-83 1 75 1-20 1 23 1-11 1-20 1 21 1-13 1-93 1 79 1 15 1 64 1-12 1-117 1-4 1 6 1 18 1-48 1 36 1 20 1-34 1 21 1-9 1 0 1 69 1-2 1-18 1-20 1 58 1-81 1 18 1 4 1 75 1 24 1 20 1-53 1 10 1 5 1-64 1 0 1 6 1 7 1-23 1 17 1-76 1 59 1 5 1-7 1 84 1 15 1-91 1-18 1 34 1 64 1-114 1 59 1-94 1 29 1 25 1 8 1 20 1 28 1-5 1 22 1 2 1 17 1-40 1 117 1-62 1-29 1-25 1 39 1-36 1 87 1-98 1 46 1 37 1-27 1-60 1 17 1-13 1-39 1 71 1-71 1 139 1-66 1-56 1-6 1 84 1-59 1-40 1 27 1 5 1 0 1 2 1 93 1-8 1-132 1 48 1 85 1-122 1 52 1 35 1-171 1 99 1-7 1 105 1-76 1 22 1-11 1-63 1 74 1 81 1-126 1 109 1-92 1 27 1 97 1-103 1 12 1 104 1-58 1-31 1-45 1 23 1-64 1 103 1-46 1-11 1 77 1-14 1-64 1-27 1 40 1-25 1 4 1 40 1 11 1 53 1-134 1 82 1-29 1 26 1-13 1-7 1 6 1-10 1 14 1 83 1-97 1 67 1-47 1 21 1-21 1 16 1-7 1 71 1-53 1-36 1 47 1-64 1 89 1-26 1 8 1 31 1 61 1-113 1 97 1 30 1-111 1 105 1-34 1-79 1 2 1 51 1-150 1 122 1 9 1-66 1-32 1 144 1-32 1-39 1-11 1 34 1-13 1 11 1-8 1 33 1-78 1 87 1-51 1-86 1 20 1 39 1-2 1 37 1-29 1-22 1 87 1-33 1-31 1-8 1 39 1-20 1 31 1-54 1 46 1-57 1-18 1-47 1-40 1 124 1-56 1 18 1-71 1 25 1 40 1 30 1-33 1-6 1 136 1-56 1 32 1-65 1 12 1 37 1-94 1 67 1-51 1 94 1-5 1-40 1-59 1 39 1-98 1 8 1 81 1-103 1 126 1-130 1 105 1-140 1-27 1 10 1 63 1-19 1 141 1-65 1-10 1 7 1-74 1 31 1 1 1 23 1-23 1-19 1 82 1-91 1-76 1 67 1 57 1-9 1-24 1-11 1-27 1 1 1-23 1 82 1-10 1 5 1-26 1-42 1 15 1 22 1 58 1-14 1-43 1-8 1-31 1 123 1-9 1-130 1 86 1-11 1-13 1 25 1-30 1 84 1 0 1-32 1-3 1-67 1 12 1 33 1-69 1 76 1-107 1-15 1 32 1 73 1-61 1 105 1-62 1 72 1-30 1 34 1-67 1 53 1 21 1-27 1 7 1-19 1 81 1-104 1 61 1-71 1-74 1 51 1 68 1-29 1-27 1 54 1-4 1-14 1 1 1 36 1-37 1-1 1-44 1 75 1-3 1-26 1 28 1-26 1 11 1-37 1 11 1-134 1 90 1-35 1 55 1-10 1 26 1-31 1 12 1 64 1-74 1 22 1 30 1 52 1-64 1-49 1 33 1 14 1 4 1-105 1 78 1 44 1-23 1 33 1 10 1-16 1-6 1-32 1 7 1 24 1-25 1-35 1 29 1 68 1-31 1-101 1 27 1 5 1 22 1-17 1 15 1 42 1-47 1 49 1-19 1-9 1 21 1-10 1 14 1-20 1-37 1-34 1 130 1-80 1-76 1 100 1-52 1 117 1-39 1-45 1-1 1 38 1 37 1-42 1 27 1-11 1 27 1 0 1-90 1 124 1-82 1-14 1 44 1 6 1 47 1-4 1-89 1 20 1 46 1-61 1-43 1 42 1-34 1-26 1-10 1 4 1-11 1 109 1-25 1-30 1 92 1-86 1 133 1-108 1-17 1 50 1-73 1 98 1-60 1 30 1 21 1 57 1 7 1-93 1-8 1-87 1 209 1-105 1-58 1 43 1-25 1 93 1-45 1 8 1-41 1 62 1-21 1-7 1 11 1-17 1 29 1-129 1 73 1-86 1 48 1-18 1-3 1-15 1 134 1-167 1 78 1 55 1-71 1 47 1-95 1 98 1-50 1-19 1 88 1-110 1 52 1-15 1 19 1-40 1 20 1 25 1-14 1-67 1 66 1 32 1-47 1 28 1 42 1-177 1 97 1 3 1-27 1-24 1 96 1-36 1-44 1 77 1-50 1-24 1-36 1 22 1 45 1 11 1 54 1-31 1 51 1-92 1 57 1 61 1-13 1-33 1-55 1 78 1 35 1-29 1 12 1-4 1-84 1-30 1 98 1-77 1-3 1-43 1-1 1-52 1 3 1 126 1-28 1-1 1-11 1 86 1 21 1-43 1 5 1-75 1 48 1 30 1-59 1-3 1 14 1-21 1 11 1 7 1 43 1-87 1 23 1 19 1 47 1-18 1 5 1 21 1-69 1 9 1-40 1 116 1-120 1 42 1 61 1-91 1 12 1-13 1-4 1-14 1 27 1-29 1 51 1 17 1-55 1 28 1 102 1-190 1 113 1-24 1 31 1-37 1 0 1-54 1-42 1 120 1-89 1 37 1-20 1 56 1-25 1-11 1-24 1 60 1-72 1 0 1 35 1 32 1 12 1 42 1-76 1 48 1-30 1-17 1-3 1 15 1 82 1-117 1 28 1 7 1 68 1-18 1 17 1-38 1-56 1 116 1-57 1-37 1 44 1-21 1-55 1 65 1-47 1 57 1-54 1 48 1-37 1-32 1 75 1-72 1 109 1-36 1-96 1 15 1 48 1 0 1 27 1-65 1-107 1 149 1-3 1-12 1-12 1 67 1 7 1-103 1-40 1 40 1 30 1 1 1-12 1 41 1-68 1 49 1 7 1-55 1-4 1 145 1-115 1 78 1-40 1 52 1-54 1-33 1 12 1-57 1 74 1-22 1-1 1-25 1-3 1-22 1 21 1 52 1-87 1 32 1 29 1 12 1 10 1 22 1-49 1 38 1 44 1-51 1-24 1 89 1-85 1 13 1-14 1 7 1 6 1 0 1-38 1 46 1-38 1 23 1 44 1-79 1 58 1-17 1-22 1 14 1 1 1-6 1-50 1-2 1 105 1-61 1 15 1 33 1-159 1 68 1 56 1-3 1 35 1-43 1 127 1-23 1-92 1-22 1 56 1 49 1-39 1 4 1 3 1-53 1-5 1 29 1-29 1-7 1-4 1 21 1-59 1 102 1-31 1 33 1-101 1 89 1-74 1-25 1 66 1-30 1 15 1-25 1 19 1 46 1 35 1-96 1 59 1-70 1-44 1 70 1-36 1 12 1 65 1-52 1 36 1-8 1 24 1-8 1-13 1 0 1-29 1-3 1-42 1 55 1 12 1-13 1 19 1-57 1 85 1-74 1 35 1 5 1-11 1-19 1 32 1-24 1 16 1 27 1-14 1-19 1 29 1-140 1 115 1-50 1 40 1-18 1 5 1 41 1-109 1 145 1-99 1-33 1 74 1 2 1-39 1 8 1 29 1 54 1-79 1-3 1 82 1-28 1-32 1 34 1 35 1-8 1-119 1 45 1 12 1 22 1-1 1-16 1-97 1 47 1 46 1-86 1-14 1 18 1 44 1 68 1-35 1-62 1 82 1-38 1-46 1-19 1 45 1 71 1-36 1-41 1 38 1-15 1-1 1 24 1-40 1 37 1 23 1-15 1-15 1-56 1 81 1-71 1 64 1-37 1 100 1-123 1 15 1 41 1 7 1-16 1-49 1 62 1 5 1-50 1 75 1-74 1 34 1-10 1-13 1 25 1-2 1-64 1 17 1 131 1-88 1-73 1 63 1-26 1-21 1-1 1 22 1 24 1 27 1-18 1-93 1 39 1 6 1 89 1-14 1 9 1 9 1 10 1-76 1 52 1 55 1-16 1-94 1 53 1-15 1 29 1-71 1-55 1 55 1-7 1 114 1-109 1 41 1-44 1 44 1 22 1-10 1-13 1-84 1 40 1 41 1 21 1-76 1 36 1-111 1 43 1 7 1 52 1-39 1 110 1-105 1 25 1-6 1 62 1-62 1-89 1 92 1 28 1 9 1 2 1 53 1-48 1-61 1 113 1-35 1-125 1 27 1 70 1 22 1-66 1 12 1-60 1 130 1-60 1-98 1 6 1 90 1 13 1-34 1-19 1-9 1 35 1-6 1 13 1-11 1-27 1 32 1-11 1-31 1 28 1-48 1 79 1-34 1-60 1-9 1 18 1-2 1 44 1-40 1 26 1 107 1-31 1-43 1 87 1-117 1-3 1 58 1-10 1-50 1-22 1 86 1-106 1 46 1 11 1 65 1-53 1 71 1-54 1-30 1 88 1-90 1-22 1-37 1 53 1 6 1 11 1-19 1 12 1 43 1-49 1-46 1 14 1-2 1 27 1-6 1 9 1 24 1 53 1-62 1-18 1 10 1 12 1 70 1-16 1-20 1-4 1-12 1-58 1 60 1-6 1 18 1-65 1 73 1-42 1 36 1 51 1-82 1 42 1-5 1 37 1-27 1 14 1 95 1-96 1 11 1-35 1-40 1-13 1-34 1 58 1 9 1-56 1 65 1 24 1-46 1 74 1-124 1 112 1-29 1-31 1-20 1 42 1 84 1-37 1-88 1 64 1 1 1-21 1-20 1-4 1 53 1-108 1 108 1-7 1-85 1 3 1 41 1-32 1 26 1-15 1 54 1-16 1 35 1-40 1-56 1 103 1-73 1 9 1 23 1 53 1-40 1 32 1-51 1 51 1 12 1 50 1-83 1-23 1-13 1 33 1 68 1-53 1-52 1 71 1 7 1-43 1-49 1 11 1 87 1-10 1-67 1 35 1-27 1 50 1-34 1 17 1 62 1-82 1 11 1 63 1 15 1-5 1-27 1 94 1-105 1 49 1-20 1-10 1-64 1-37 1 51 1 55 1-60 1 49 1 33 1-17 1 10 1-71 1-36 1 26 1-58 1 72 1 9 1 55 1-30 1-40 1-41 1 130 1-50 1-31 1 44 1-37 1 22 1-48 1-25 1 38 1 54 1-49 1 67 1 21 1-87 1 42 1-1 1-64 1-29 1-85 1 59 1 35 1 33 1-29 1 50 1-69 1 78 1-46 1 48 1 50 1 23 1-25 1-28 1-25 1 100 1-176 1 21 1 5 1 52 1-33 1 8 1-41 1 3 1 18 1 4 1 136 1-137 1 16 1 63 1-42 1-31 1 12 1 73 1-125 1 62 1 80 1-84 1-14 1-44 1 52 1-19 1-11 1 30 1 97 1-128 1 95 1-121 1 62 1 45 1-82 1-32 1 99 1-20 1-76 1 51 1 77 1-67 1-60 1 101 1-15 1-27 1 7 1 68 1-44 1-10 1-10 1 25 1-53 1 2 1-27 1 62 1-32 1 4 1-17 1 5 1-6 1-47 1 126 1-54 1 0 1 15 1-39 1 5 1 14 1-62 1 61 1-58 1-7 1 82 1 50 1-88 1 24 1-25 1 10 1 22 1-106 1 85 1-37 1 22 1 50 1-116 1 78 1-98 1 147 1-27 1 8 1-19 1-13 1 54 1-30 1 2 1 4 1 5 1-22 1 52 1-132 1 21 1 29 1-62 1 102 1 16 1-19 1-64 1 102 1-65 1 49 1-25 1 12 1 109 1-136 1 28 1-26 1-24 1-44 1 108 1-15 1-28 1-16 1 44 1-9 1-1 1 14 1-29 1-92 1 102 1-21 1 46 1 10 1-10 1-21 1-22 1 50 1-46 1-6 1 35 1-56 1 6 1 91 1-58 1-22 1-35 1 13 1-1 1 35 1-38 1 65 1 3 1-61 1 22 1-44 1-7 1-23 1 101 1-95 1 72 1-60 1-14 1 86 1-39 1 104 1-54 1-32 1-56 1 58 1-63 1 8 1 62 1 34 1-78 1 30 1 1 1 20 1-2 1-52 1 74 1-85 1 1 1 23 1 46 1-81 1 77 1 26 1-30 1 66 1-46 1 27 1-143 1 139 1-40 1-102 1 87 1 73 1-13 1-79 1 92 1-97 1 178 1-61 1-47 1-21 1-19 1 49 1-18 1-100 1 34 1 54 1-72 1 72 1-55 1 81 1-21 1-18 1 109 1-96 1 30 1-86 1 75 1 29 1-5 1-59 1 32 1-36 1 7 1 75 1-53 1 31 1 41 1-48 1-51 1-24 1 20 1 69 1-58 1 17 1 47 1-1 1 4 1-52 1 29 1-19 1 27 1-90 1-9 1 107 1 4 1-24 1 71 1-67 1 20 1-87 1 90 1-38 1-33 1-32 1 42 1-48 1-82 1 118 1 65 1-19 1 26 1-14 1 41 1-96 1-18 1 45 1-42 1 47" stroke="#008b00"/>
<path transform="translate(105.30 702.05) scale(0.290117)" stroke-width="8.962" d="M0 2099 l1-190 1-85 1-89 1 127 1-62 1-78 1 166 1-113 1 2 1 52 1 34 1-59 1-181 1 204 1-83 1 42 1-65 1-8 1 42 1-145 1 14 1-89 1 182 1-14 1-62 1 176 1-144 1-16 1 79 1-63 1-92 1-50 1 140 1-90 1 118 1-49 1-21 1-64 1 42 1 84 1 19 1-107 1-9 1 153 1-105 1-54 1 44 1-102 1 2 1-55 1-31 1 173 1-147 1 91 1 77 1 48 1-33 1-17 1 6 1 31 1-160 1-28 1 45 1 71 1-127 1 39 1-44 1 30 1-70 1-123 1 216 1-4 1 95 1-17 1-129 1 6 1 4 1 90 1-63 1 67 1-79 1 62 1 2 1-44 1-73 1 74 1 20 1-26 1-59 1 83 1-40 1 125 1-190 1-64 1 105 1-46 1 48 1 9 1-67 1-1 1 63 1 131 1-105 1 63 1-146 1 51 1-51 1-46 1 179 1-153 1-10 1-39 1 97 1-92 1 22 1-97 1 121 1 17 1-14 1 51 1 54 1-144 1-33 1-13 1-78 1 142 1 41 1-178 1 119 1-97 1-10 1-8 1 25 1-32 1 108 1-141 1 105 1-53 1-2 1 4 1-1 1-84 1-7 1-12 1 88 1-1 1-52 1 2 1-110 1 26 1 160 1-89 1-65 1 158 1-18 1 24 1-50 1 4 1-70 1-92 1 89 1 48 1 18 1 16 1-60 1 53 1-141 1 25 1-31 1 130 1-90 1-28 1-32 1 50 1 44 1 24 1-165 1-3 1 66 1 260 1-245 1 49 1 93 1-215 1 146 1 26 1 2 1 54 1-137 1 56 1 90 1-21 1-35 1 8 1 3 1 5 1 23 1-73 1 4 1-72 1 35 1-115 1 37 1 72 1-3 1 44 1-111 1 110 1-51 1 85 1-44 1-25 1 7 1 25 1-158 1 115 1 25 1 90 1-12 1-40 1-104 1 101 1 39 1-132 1 117 1-213 1 92 1 29 1 105 1-70 1-42 1 28 1 28 1-171 1 44 1 48 1 32 1-94 1 47 1 164 1 28 1-107 1-38 1 14 1 118 1-160 1 94 1-131 1 62 1-77 1 50 1-62 1 153 1 65 1-56 1-73 1-48 1-33 1 118 1-107 1-116 1 212 1-69 1 39 1-125 1-32 1 202 1-161 1 87 1 15 1-118 1 98 1 9 1-76 1 89 1 33 1-113 1 139 1-35 1-28 1-7 1-163 1 126 1 136 1-73 1-188 1 134 1 93 1-98 1 61 1 35 1-58 1-7 1-37 1-57 1 78 1 60 1 6 1-167 1 134 1 10 1-142 1 91 1 27 1 19 1-82 1 171 1-34 1-93 1-19 1 23 1-16 1 22 1-20 1 67 1-54 1 91 1-109 1 83 1-162 1 115 1-61 1 92 1-13 1-118 1 221 1-131 1 101 1-30 1-89 1 37 1-43 1 52 1-7 1 80 1-31 1 105 1-79 1-2 1 46 1-62 1 69 1-180 1 85 1 27 1-6 1-63 1 81 1-31 1-40 1 125 1-75 1 3 1-105 1 74 1-87 1 219 1-128 1 66 1 46 1-217 1 110 1-16 1 63 1-37 1-75 1 91 1 28 1-119 1 52 1-28 1-24 1 36 1-17 1-16 1-27 1 135 1-140 1 43 1 1 1 103 1 80 1-75 1-12 1-65 1 53 1 2 1-120 1 88 1-21 1-68 1 50 1 150 1-191 1 47 1 41 1-17 1-64 1 108 1-76 1 265 1-329 1 138 1-130 1 153 1-63 1-113 1 147 1 40 1-8 1 53 1-39 1-97 1 127 1 5 1-110 1 153 1 28 1-112 1 82 1-53 1-113 1 105 1-92 1 8 1 260 1-244 1 119 1 14 1 119 1-144 1-20 1-30 1 45 1-152 1 53 1 2 1 97 1-178 1 174 1-68 1 37 1-161 1 244 1-43 1-41 1-39 1-75 1-36 1 124 1-1 1-1 1-24 1-83 1 30 1 92 1-9 1-51 1 20 1-62 1 132 1 17 1-81 1-56 1 144 1-172 1 28 1 68 1 13 1 18 1 38 1 25 1-65 1-28 1-30 1 42 1 91 1-110 1-25 1 30 1 14 1 13 1 45 1-84 1 165 1 23 1-239 1 68 1 89 1-149 1 124 1 25 1 51 1-23 1-89 1-8 1-28 1 25 1-29 1 30 1 89 1-56 1 88 1-199 1 60 1 79 1 34 1-12 1-89 1 122 1-105 1 65 1 12 1-20 1-40 1 117 1-128 1-112 1 31 1 229 1-98 1 32 1 44 1-81 1 94 1-4 1 8 1-12 1-116 1 120 1-118 1 5 1-87 1 61 1-49 1 67 1 44 1 142 1-202 1 16 1 21 1 30 1-38 1 18 1 50 1 66 1-153 1 121 1-32 1-5 1 33 1-9 1-36 1 139 1-78 1-77 1 87 1-89 1 22 1-8 1 112 1-193 1 108 1-139 1 158 1-15 1-207 1 201 1-110 1 97 1-9 1-5 1 49 1-28 1-66 1 138 1-2 1 147 1-16 1-171 1 48 1-181 1 91 1 153 1-62 1 131 1-178 1 47 1-28 1-75 1 143 1-23 1 22 1-131 1 148 1-23 1-54 1 60 1-113 1 9 1 133 1-97 1 55 1 19 1-80 1 17 1-46 1 84 1-96 1 16 1-96 1 158 1-155 1 222 1-76 1-39 1 38 1 5 1 0 1-71 1 31 1 46 1-5 1-4 1-220 1 253 1-23 1-18 1 39 1-87 1 24 1 146 1-48 1-46 1-120 1 70 1 28 1-77 1 214 1-253 1 130 1 55 1-121 1 59 1-89 1 81 1 173 1-198 1 40 1-90 1 66 1 12 1 89 1-114 1 70 1-107 1 162 1-105 1-25 1 6 1-61 1 59 1 83 1-73 1 144 1-187 1 106 1-125 1 59 1 67 1-240 1 164 1-131 1 28 1 100 1-138 1-15 1 150 1 47 1 90 1-164 1 87 1 26 1 59 1-30 1-177 1 155 1-70 1-170 1 86 1-95 1-84 1 152 1-32 1 59 1-79 1 52 1 65 1 27 1 48 1-147 1 85 1-65 1-49 1 25 1 92 1 9 1 165 1-221 1 85 1 11 1 49 1-273 1 72 1 100 1 95 1-31 1-100 1 29 1-50 1 113 1-77 1-69 1 136 1 3 1-44 1 49 1-34 1-29 1-32 1 13 1-191 1 209 1-104 1 59 1 10 1-51 1 6 1 90 1-83 1 59 1 171 1-163 1 5 1 55 1 45 1-155 1-8 1 167 1-86 1 12 1-77 1 105 1-75 1 129 1-200 1 98 1 67 1-71 1 11 1 32 1 36 1-79 1 27 1-15 1 47 1-63 1-14 1 22 1 30 1-63 1 24 1 63 1 7 1-83 1 99 1 35 1-93 1 127 1-155 1 4 1-15 1 58 1-8 1 51 1-118 1-63 1 208 1-124 1 73 1 88 1 34 1-97 1 143 1 33 1-132 1 31 1-105 1 9 1 100 1-4 1-1 1 72 1-83 1-44 1-68 1 29 1 117 1-75 1 35 1 6 1-24 1-22 1 42 1-39 1-17 1 21 1 40 1-42 1 26 1 65 1-73 1-4 1 115 1-23 1-64 1-49 1 55 1-60 1 104 1-3 1-98 1 159 1-35 1-34 1 26 1 41 1-15 1-112 1 36 1-58 1-84 1 106 1 20 1 24 1-20 1-102 1 11 1-26 1 121 1-86 1-18 1 3 1 50 1-39 1 27 1 24 1-13 1-61 1 83 1-127 1 16 1 158 1-68 1-80 1 83 1-39 1 66 1-66 1-55 1 132 1 92 1-171 1 46 1-63 1 152 1 23 1-193 1 109 1-80 1 30 1-66 1 92 1 87 1-163 1-36 1 178 1-210 1 27 1-13 1 44 1 65 1-111 1 16 1-62 1 126 1-84 1-20 1-31 1 64 1-28 1-127 1 197 1-2 1 14 1-58 1 5 1-95 1 229 1-225 1 118 1 77 1-100 1-54 1 40 1 8 1-27 1 62 1 40 1-84 1 46 1-34 1 81 1-129 1 114 1-20 1-50 1-126 1 218 1-86 1 82 1-182 1 26 1 85 1 46 1-11 1-33 1 44 1 125 1-42 1-138 1 80 1-95 1-24 1-6 1 15 1-22 1 31 1-70 1 77 1 60 1-244 1 156 1-19 1-59 1 127 1-121 1 166 1-109 1-31 1 80 1-11 1-26 1 46 1 60 1 15 1-114 1 36 1-17 1-20 1 140 1-17 1-21 1-61 1 51 1-113 1 11 1-5 1 209 1-60 1-78 1-45 1-30 1 26 1 21 1 11 1-34 1 78 1 133 1-81 1-247 1 193 1-3 1-65 1-29 1-28 1-26 1-9 1 74 1 24 1 117 1-27 1-42 1 62 1-123 1 92 1-10 1-29 1-45 1 67 1-71 1-47 1 98 1-46 1-34 1 44 1 66 1 98 1-164 1-4 1 20 1 35 1-48 1 43 1 60 1-90 1-103 1 41 1 89 1 118 1-88 1-41 1 89 1-111 1-22 1 4 1 84 1 19 1-37 1 59 1 44 1-20 1 7 1-33 1-104 1-18 1 162 1-65 1-29 1-76 1 56 1-39 1 37 1 17 1-47 1 84 1-104 1 39 1 76 1-88 1 124 1-3 1 42 1 74 1-63 1-146 1 117 1 42 1-169 1 41 1 102 1-61 1 48 1 97 1-127 1 124 1-97 1 18 1-87 1 5 1-93 1 124 1-72 1 151 1-127 1 117 1-98 1-111 1 111 1 27 1 25 1 95 1-137 1 4 1-14 1 33 1 13 1 58 1-117 1 2 1 1 1-12 1 84 1-39 1 118 1-82 1-6 1 2 1 105 1 36 1-17 1-92 1-56 1 40 1 94 1-31 1 33 1-164 1 116 1-17 1-35 1-80 1-3 1 115 1 15 1-168 1 69 1 58 1-106 1 36 1 201 1-201 1 182 1 28 1-102 1 15 1 124 1-178 1 26 1 103 1-155 1 130 1-192 1 68 1 53 1-178 1 184 1-48 1 28 1-38 1-54 1 118 1-102 1-6 1 92 1 26 1-133 1 74 1 36 1-50 1-13 1 0 1 7 1 50 1-13 1 36 1-27 1 22 1-108 1-66 1-80 1 92 1-13 1 105 1-121 1 45 1-25 1 112 1 17 1-26 1-91 1 89 1 20 1-20 1-99 1 25 1 69 1-127 1 24 1-93 1 163 1-53 1-17 1-58 1 79 1 24 1 161 1-74 1-69 1-1 1-10 1 83 1-119 1 39 1-29 1-28 1 81 1-63 1-23 1-113 1 137 1 105 1-86 1 120 1 78 1-152 1-32 1 19 1-13 1 181 1-50 1-93 1 110 1 69 1-134 1 101 1-36 1-58 1-128 1 2 1 104 1-30 1 68 1-8 1-103 1 85 1-3 1 27 1-189 1 87 1 118 1-37 1-59 1 47 1 63 1-89 1-33 1-132 1 4 1 81 1 141 1-120 1 2 1 114 1-64 1 41 1-142 1 41 1 151 1-146 1 189 1-155 1-15 1 29 1 23 1-51 1-99 1 258 1-155 1-102 1 163 1-76 1 130 1-77 1-49 1 161 1-92 1 89 1 28 1-152 1 10 1 65 1-90 1-71 1 146 1-35 1-7 1 43 1-102 1 33 1-51 1 147 1-36 1-38 1-17 1 89 1-208 1 265 1-172 1 91 1-87 1-1 1 40 1 13 1-189 1 217 1-12 1-129 1 180 1-97 1-39 1-20 1 81 1 2 1-58 1 172 1-47 1-57 1-90 1-75 1 155 1-109 1 33 1 12 1 30 1-9 1 7 1 36 1 119 1-193 1 58 1-2 1-91 1-91 1 133 1 0 1-8 1-21 1-119 1 92 1 138 1-150 1 4 1 22 1-38 1 155 1-32 1 36 1-6 1 18 1-78 1-8 1-136 1 163 1-58 1-107 1 94 1-89 1 71 1 70 1-86 1-41 1 135 1 16 1-59 1 77 1-55 1 46 1-6 1 51 1 14 1-58 1 12 1 14 1 16 1-34 1-188 1 63 1 130 1 106 1-230 1 201 1-92 1-71 1 82 1 19 1-65 1-186 1 112 1 117 1-11 1 141 1-155 1 31 1 14 1-26 1-67 1 82 1-18 1-82 1 34 1-38 1 2 1 103 1-101 1-56 1 32 1 6 1 21 1 191 1-32 1-82 1-44 1-3 1-32 1 52 1-23 1-22 1-34 1 51 1 63 1-71 1-37 1 3 1 47 1 141 1-56 1-90 1 59 1-27 1-139 1-64 1 63 1 58 1 135 1-155 1 149 1-204 1-23 1 55 1-4 1-40 1 135 1-111 1-43 1 41 1-43 1 86 1 73 1-163 1 37 1 102 1 30 1-118 1-20 1 43 1 152 1-247 1 47 1 31 1 112 1-118 1 48 1-15 1-98 1-29 1 83 1 11 1 149 1-102 1-64 1 48 1 121 1-165 1 70 1 97 1-65 1 151 1-138 1-127 1 23 1 11 1 55 1-35 1 12 1-107 1 60 1 13 1-8 1 9 1 27 1-54 1 129 1-119 1 90 1-113 1 69 1 12 1 76 1-48 1-53 1 29 1-1 1-73 1 217 1-210 1 9 1 72 1-108 1-11 1 193 1 4 1-112 1 30 1 57 1-122 1 85 1 98 1-189 1 95 1-70 1 135 1-187 1 128 1 81 1-152 1 51 1 29 1-75 1-24 1 105 1-79 1-25 1 20 1 75 1 92 1-152 1 44 1 45 1 81 1-212 1 155 1-21 1-103 1-42 1 92 1 5 1-68 1 74 1-62 1 86 1-107 1 0 1-30 1-32 1 113 1-72 1 39 1 3 1 31 1 21 1 68 1-188 1 74 1 12 1 121 1-121 1 111 1-171 1 72 1-114 1 113 1-6 1 146 1-158 1 5 1-94 1 72 1 68 1 34 1 31 1 26 1-5 1-113 1-93 1 152 1 13 1 41 1 25 1-136 1 46 1 48 1-110 1-15 1-23 1 152 1-47 1-97 1 261 1-89 1-83 1-3 1-14 1 194 1-133 1 18 1-95 1-5 1 30 1 29 1-236 1 235 1 90 1-57 1-21 1 38 1 26 1-135 1 143 1 15 1-92 1 15 1 32 1-57 1-29 1 1 1-32 1-138 1 144 1 163 1-74 1-93 1 152 1-84 1-92 1 29 1 7 1 1 1 37 1 15 1-17 1 43 1 62 1-168 1 4 1-67 1 296 1-44 1-198 1 124 1-17 1-41 1-84 1 206 1-82 1 25 1-54 1 16 1 44 1-98 1-16 1-29 1 35 1-121 1 126 1 27 1-8 1-13 1 35 1 144 1-105 1 17 1-37 1-49 1 105 1-93 1 19 1 76 1-96 1 1 1 17 1 22 1-32 1-80 1 90 1 48 1-180 1 157 1-84 1 31 1 11 1-10 1 54 1 52 1-36 1-100 1 161 1-93 1 33 1 65 1-58 1-96 1 62 1-124 1 128 1 113 1-171 1 70 1 14 1 28 1-39 1 17 1-88 1 117 1-71 1 38 1 28 1 117 1-197 1 179 1-141 1 172 1-11 1-80 1-5 1-37 1-51 1-54 1 46 1-67 1 20 1 35 1 4 1 23 1 12 1-110 1 75 1-84 1 120 1-41 1 120 1-132 1 35 1-86 1 60 1-84 1 79 1 70 1-6 1-239 1 172 1 36 1-55 1 9 1-70 1 114 1-60 1-16 1 134 1-111 1 14 1-74 1 59 1 14 1-67 1 73 1-58 1 143 1-114 1-27 1 114 1 11 1-17 1 20 1-13 1-105 1 28 1 52 1-153 1 155 1 5 1-4 1-48 1 25 1-145 1 251 1 48 1-152 1-94 1 211 1 7 1-136 1 29 1-143 1 93 1-199 1 225 1-135 1-61 1-63 1 15 1 119 1-265 1 72 1 5 1-210 1 150 1 36 1 34 1-71 1-155 1 87 1 51 1 63 1-49 1-69 1 70 1-17 1 65 1 54 1-168 1 76 1-39 1 68 1 18 1-63 1 79 1-30 1 57 1-92 1 26 1 0 1-119 1 139 1 50 1 146 1-185 1-43 1-21 1 94 1-66 1 38 1-38 1 40 1-165 1 115 1 92 1-40 1-63 1 34 1 106 1-93 1 98 1-94 1 75 1-100 1 11 1 94 1 32 1-127 1 71 1-34 1-51 1 141 1-91 1 18 1 48 1-108 1 141 1-31 1-77 1 67 1-148 1 14 1 108 1-3 1-29 1 42 1 22 1 1 1 128 1-169 1 98 1-145 1 97 1-141 1 114 1 79 1-147 1 6 1-48 1 69 1 130 1-76 1-70 1 22 1 69 1 103 1-155 1 117 1-68 1 20 1-62 1 43 1 53 1-70 1 78 1 10 1 65 1-122 1 137 1-45 1-124 1 71 1-24 1 67 1 41 1-76 1 115 1-123 1 4 1-37 1 138 1-79 1-87 1 75 1-137 1 95 1-9 1-11 1 169 1-91 1-90 1-19 1 32 1 145 1-42 1-93 1 86 1-101 1 53 1-41 1 146 1-79 1-19 1-23 1 70 1-40 1 52 1-178 1 230 1-67 1 21 1 2 1-54 1 104 1-25 1 11 1 14 1-146 1 80 1-15 1 106 1-13 1-19 1-182 1 66 1 65 1 4 1-119 1 122 1-48 1 27 1-152 1 122 1-32 1-61 1 6 1 54 1-48 1 34 1 53 1-68 1 27 1-24 1 61 1-46 1 106 1-41 1-53 1-20 1-28 1 55 1-51 1 52 1-113 1 99 1-13 1-44 1 175 1-196 1 110 1-56 1 32 1-14 1 43 1-139 1 38 1 149 1-26 1-52 1-13 1 108 1-112 1 84 1-22 1 6 1-41 1 99 1-185 1 102 1-29 1-48 1 114 1-32 1 83 1-151 1 52 1-10 1 155 1-31 1-74 1-96 1-22 1-5 1-20 1 59 1 3 1-28 1 56 1-83 1-21 1 186 1-96 1 44 1-93 1 27 1 76 1-110 1 33 1-68 1 104 1 74 1-132 1 112 1 51 1-97 1 24 1-12 1 50 1-163 1 38 1 21 1-106 1 209 1-166 1 69 1 154 1-34 1-132 1 43 1 18 1 6 1 69 1-15 1-32 1-36 1 43 1-40 1 27 1 22 1-47 1 4 1 113 1-133 1-1 1-110 1 33 1 77 1-78 1 91 1-1 1-50 1 22 1-53 1 167 1-64 1-62 1 29 1-31 1 1 1 24 1 68 1-116 1 25 1-77 1 167 1-107 1-22 1-49 1-38 1 103 1 27 1-98 1 106 1-112 1 82 1-51 1 34 1 19 1 40 1-52 1 21 1-48 1 135 1-2 1-35 1-4 1 69 1-137 1 68 1 4 1 9 1-51 1 16 1 74 1-52 1-36 1-68 1 16 1 106 1-40 1 24 1-76 1 9 1-57 1 82 1 14 1-28 1 71 1-94 1-66 1 114 1-157 1 74 1 20 1 29 1 46 1-13 1-69 1 53 1-86 1 54 1 109 1-107 1-47 1 3 1 18 1 28 1-77 1 100 1 42 1 72 1-52 1-15 1-115 1 44 1-36 1 85 1 12 1-40 1 46 1-27 1 19 1-107 1-3 1 161 1-95 1 90 1-2 1 27 1-84 1-26 1-21 1-2 1 69 1-65 1 118 1-50 1 11 1-28 1-38 1 29 1-107 1 49 1 54 1 67 1-40 1-46 1 25 1-36 1 119 1-114 1 19 1-9 1-3 1 54 1-180 1 109 1 66 1-62 1 13 1-7 1 115 1-33 1-121 1-9 1 73 1 12 1-39 1 6 1 63 1-5 1-46 1-45 1 92 1-128 1 224 1-96 1 25 1 0 1-34 1-49 1 8 1 28 1-60 1 32 1 74 1-135 1 110 1-42 1 11 1-114 1 83 1-8 1 69 1-6 1-34 1-26 1 80 1-118 1 141 1 2 1 12 1-104 1-16 1-14 1 46 1-86 1 36 1 66 1-184 1 174 1 99 1-27 1-11 1-16 1 45 1-7 1-110 1-17 1 52 1 82 1-69 1 19 1 29 1-11 1 13 1-22 1-22 1-34 1-35 1 70 1 34 1-68 1-8 1-29 1 23 1-51 1 55 1 39 1 45 1-25 1-80 1-50 1 51 1-33 1 98 1 2 1-67 1-50 1 110 1-22 1-36 1 46 1 19 1-70 1-6 1 40 1-9 1 89 1-33 1-108 1 36 1-63 1 33 1-24 1 60 1-16 1-44 1 24 1-28 1 53 1-8 1 4 1 3 1 22 1 18 1-6 1-64 1 63 1 64 1-191 1 207 1-43 1 1 1-57 1 32 1 0 1 16 1 2 1 20 1-43 1 50 1-101 1 45 1-106 1 24 1-21 1 11 1 55 1-38 1 75 1-73 1-16 1 0 1 76 1-6 1-106 1-20 1-30 1 49 1 11 1 9 1-59 1 75 1 44 1-108 1 51 1-50 1 4 1 49 1-43 1-21 1-43 1-15 1 63 1 52 1-57 1 74 1-43 1 65 1-65 1 43 1-45 1-22 1-66 1 103 1-78 1-26 1 115 1-7 1 38 1-58 1-36 1 88 1-20 1 13 1-13 1-74 1 74 1-123 1 118 1-69 1 10 1 16 1 50 1 38 1 37 1-78 1 28 1-19 1-29 1 37 1-142 1 95 1 58 1-118 1-28 1-8 1 86 1-5 1-82 1 21 1 93 1-5 1 76 1-35 1 35 1-39 1 93 1-30 1-78 1-29 1-78 1 89 1-22 1-90 1 16 1 67 1 0 1 40 1 17 1 39 1-38 1 18 1-29 1 20 1 8 1 3 1-20 1-5 1 61 1-19 1-72 1-9 1 28 1-20 1 22 1 57 1-183 1 125 1-44 1 55 1 51 1 31 1-72 1-4 1 74 1-66 1-22 1 49 1 71 1-32 1-91 1 33 1-113 1 98 1 81 1-71 1 13 1 53 1-46 1 28 1-23 1 3 1 27 1-31 1-18 1-36 1 58 1-100 1 68 1-52 1 92 1-57 1-105 1 100 1 0 1-168 1 113 1-31 1 83 1-54 1-27 1 17 1-99 1 93 1-13 1 25 1 42 1 6 1-51 1 27 1-90 1 24 1 57 1 49 1-30 1 13 1 92 1-61 1-88 1 73 1 2 1-22 1 6 1-57 1 29 1 65 1 22 1 20 1-61 1 98 1 27 1-17 1-63 1 66 1-27 1-9 1-104 1-31 1 1 1 105 1-15 1-98 1 15 1 32 1-16 1-48 1 17 1 120 1-102 1 62 1 38 1-19 1-149 1 53 1-57 1 79 1-18 1 204 1-129 1-54 1 14 1-11 1 5 1-12 1 73 1-127 1 123 1 31 1-85 1 12 1 0 1 27 1-36 1-63 1-52 1 108 1 91 1-98 1-34 1 105 1-69 1-56 1-10 1 9 1 5 1-30 1 17 1 53 1 55 1-112 1 84 1-185 1 64 1 99 1-16 1 19 1-1 1 1 1 47 1 25 1-84 1 3 1 69 1-83 1-7 1 54 1-11 1-8 1 55 1-8 1-24 1-6 1-28 1-7 1 52 1-30 1 89 1-43 1-65 1 61 1-20 1-43 1-19 1 108 1-97 1 56 1-52 1-60 1 148 1-36 1 53 1-131 1 90 1-115 1 130 1 31 1-88 1 42 1-78 1-9 1-8 1 96 1-13 1-32 1 57 1 68 1-71 1-8 1 2 1 48 1 21 1-87 1-79 1 56 1 70 1-82 1 50 1-19 1 86 1-118 1 143 1-126 1-24 1 6 1-15 1 135 1-43 1-23 1 31 1 63 1-118 1 94 1 6 1-1 1 5 1-89 1 22 1-84 1 91 1-5 1-12 1 39 1-7 1-3 1-10 1-45 1 87 1 1 1-77 1 114 1-55 1 6 1-43 1-32 1 60 1 14 1-4 1-22 1 34 1-81 1 98 1-81 1 72 1-19 1 64 1-22 1 10 1-6 1-74 1 21 1-55 1 125 1-114 1 8 1 36 1-59 1-27 1 102 1-1 1-7 1 73 1-200 1-41 1 84 1-74 1 68 1-13 1 106 1 43 1-117 1-42 1 130 1-76 1 27 1-63 1-37 1 137 1-57 1 7 1-13 1-83 1 28 1 45 1-25 1 76 1 8 1-112 1 135 1 14 1-71 1-65 1 141 1-102 1-35 1 33 1 24 1 33 1 19 1-104 1 113 1-108 1 86 1-119 1 60 1-45 1 21 1 39 1-41 1-34 1 83 1-137 1 102 1-102 1 158 1-65 1-27 1 90 1-119 1 107 1-56 1 6 1 18 1 31 1-22 1 23 1-125 1 86 1-4 1-13 1-12 1 103 1 7 1-43 1 48 1-103 1 51 1 11 1-38 1 15 1-71 1 110 1-123 1 86 1-22 1-1 1-64 1 92 1 12 1-1 1-6 1-45 1-6 1 82 1-20 1-74 1 29 1 47 1 33 1-14 1-48 1 34 1 71 1-106 1 52 1-157 1 129 1-29 1-73 1 179 1-145 1 93 1-3 1 3 1 26 1 12 1-63 1 51 1-115 1 118 1 38 1-63 1 82 1-29 1-26 1-58 1-36 1 101 1-80 1 49 1-98 1 41 1-48 1 79 1-15 1 2 1 113 1-96 1-47 1 32 1 10 1 18 1 14 1-150 1 142 1-103 1 174 1-64 1-37 1-23 1 5 1 60 1-31 1 157 1-120 1-5 1-62 1 57 1-37 1 52 1-52 1 7 1-1 1 16 1-30 1 71 1-47 1 44 1-5 1 72 1-66 1-18 1-46 1 94 1-48 1 91 1-61 1-16 1 9 1-55 1 132 1-86 1-55 1 59 1-19 1-101 1 37 1 64 1 30 1-11 1 68 1-14 1-38 1-3 1-97 1 112 1-21 1-155 1 143 1-22 1 6 1-123 1 125 1-102 1 81 1-103 1 135 1-65 1-55 1 45 1-25 1 67 1 12 1-62 1-7 1 18 1 40 1-77 1 121 1-141 1-1 1 77 1 2 1-40 1 61 1-59 1 10 1 29 1-49 1 64 1-35 1 182 1-140 1 32 1 20 1-106 1 0 1 124 1-125 1 80 1-76 1 18 1-64 1 37 1 69 1-71 1 143 1-84 1-17 1-31 1-4 1-1 1-80 1 104 1 86 1-6 1-112 1-11 1 15 1 34 1-19 1-36 1 103 1-84 1-30 1 114 1-49" stroke="#00ffff"/>
<path transform="translate(105.30 702.05) scale(0.290117)" stroke-width="8.962" d="M0 2099 l1-87 1-71 1 45 1-31 1-2 1 49 1-32 1 98 1-17 1-84 1-37 1 24 1 48 1-107 1 20 1 13 1-43 1 9 1 66 1-114 1-2 1 119 1-90 1-58 1 74 1-17 1-68 1-57 1 93 1-7 1-5 1 104 1-5 1 21 1-85 1 91 1-145 1 34 1-49 1 34 1 86 1 23 1-84 1 55 1 5 1-138 1 84 1-35 1-57 1 79 1-31 1 45 1-41 1 102 1-138 1 89 1-23 1-3 1-83 1 14 1 134 1-151 1 130 1-154 1 190 1-54 1-89 1 48 1-151 1 119 1 10 1 36 1 21 1 22 1-117 1 32 1-101 1 139 1-101 1 136 1-104 1-98 1 9 1-24 1 110 1 41 1-181 1 173 1-179 1 27 1-61 1 48 1-82 1 93 1 19 1 63 1 14 1-97 1-111 1 144 1-165 1-99 1 7 1 53 1-118 1 30 1-58 1 71 1 26 1-96 1-30 1-91 1 67 1-3 1 35 1-102 1 46 1-63 1-71 1 176 1-95 1-75 1 16 1 51 1 34 1-2 1-54 1-31 1-31 1 38 1 2 1 7 1-45 1 58 1-42 1 74 1 32 1-15 1-8 1 80 1-119 1-29 1 10 1 56 1 24 1-61 1-4 1 103 1 46 1-1 1-117 1-93 1 3 1 51 1 57 1 12 1 64 1-23 1-132 1 226 1-114 1 26 1 43 1-84 1-94 1 179 1-52 1 97 1-139 1-42 1 19 1-2 1 21 1-68 1 63 1 45 1-24 1-21 1-59 1 166 1 85 1-143 1-61 1-14 1 48 1 12 1-123 1-1 1 84 1 117 1-68 1 57 1-38 1 156 1-177 1-42 1 119 1-94 1 8 1 155 1-135 1-198 1 112 1-17 1 14 1 61 1 10 1-53 1 11 1 42 1-73 1 98 1-71 1 55 1-82 1 89 1-60 1 20 1 37 1-67 1 36 1 9 1 175 1-71 1-37 1-88 1 69 1-40 1 60 1 41 1 21 1-250 1 73 1 29 1-3 1-71 1 43 1 51 1 15 1 5 1-230 1 1 1 218 1-127 1 82 1 37 1-66 1-43 1 13 1 95 1 129 1-105 1-166 1 153 1-117 1 80 1 4 1-131 1 127 1 69 1-143 1 53 1-29 1-7 1-12 1 234 1-307 1-31 1 166 1-143 1 199 1-37 1-36 1 205 1-147 1-86 1 115 1-78 1 50 1-84 1 24 1 66 1-12 1-63 1 110 1-77 1-19 1-8 1 116 1 50 1-94 1 52 1-111 1-27 1 73 1-113 1 30 1 21 1 32 1 11 1-94 1 75 1 2 1-82 1 125 1-100 1 20 1-111 1 3 1-21 1 172 1-78 1-125 1 135 1-27 1-86 1 31 1 35 1-87 1 107 1 28 1-148 1 7 1-44 1 78 1 4 1-61 1 164 1-31 1 37 1-59 1 114 1-115 1 28 1 2 1 70 1-11 1-43 1-46 1 61 1-46 1-66 1-44 1 197 1-126 1 108 1-65 1-110 1 98 1 63 1 52 1-101 1 46 1-57 1 76 1-188 1 14 1-60 1 178 1-62 1-93 1 110 1-55 1 146 1-92 1-50 1 41 1 101 1 134 1-110 1 53 1-62 1-56 1-45 1 42 1 50 1 3 1-52 1-74 1 79 1-60 1 77 1 69 1-45 1-29 1-27 1-31 1 50 1 13 1 23 1-79 1 16 1-3 1-53 1 6 1 5 1-49 1 159 1-84 1 16 1-2 1-68 1-8 1 23 1 139 1-151 1-1 1 6 1-1 1 96 1-76 1-15 1 27 1-76 1 48 1-34 1-47 1 119 1-80 1 68 1-39 1 97 1-13 1-121 1 80 1-16 1-10 1 137 1-82 1-47 1 102 1-64 1-120 1 50 1 36 1-52 1 19 1 57 1-123 1 112 1-53 1 4 1-41 1 70 1-19 1-57 1 73 1 29 1-6 1 88 1-68 1-31 1 15 1-29 1-32 1 93 1-70 1 112 1-92 1 69 1-47 1-18 1 28 1-100 1 175 1-100 1 6 1 61 1-160 1 61 1-37 1 82 1-159 1 76 1 67 1 76 1-151 1 57 1-20 1 67 1-163 1 151 1 54 1-75 1-6 1-16 1-7 1-30 1-7 1 23 1-2 1 12 1-25 1-79 1 250 1-31 1-86 1 111 1-147 1 31 1-6 1 78 1-73 1-40 1-9 1 133 1-11 1 23 1-49 1 18 1-21 1 34 1 30 1-93 1-27 1-3 1-41 1-24 1 156 1-8 1-8 1 0 1-93 1 39 1 57 1 56 1 66 1-77 1-62 1 150 1-57 1 85 1-87 1-84 1 78 1 43 1-163 1 11 1 19 1 59 1-73 1 43 1 87 1-22 1-21 1 27 1-76 1 97 1-70 1 49 1 42 1-84 1-12 1 1 1 50 1-47 1 5 1 19 1-8 1-42 1-39 1 117 1-28 1 46 1 0 1-67 1-27 1-11 1 40 1 29 1-134 1 85 1-6 1 11 1-130 1 15 1 113 1-1 1-9 1-58 1 42 1 15 1 67 1-20 1-47 1-43 1 1 1 89 1-15 1 2 1 14 1 48 1-156 1 118 1-68 1 24 1-126 1 272 1-141 1 59 1-53 1 0 1-137 1 168 1-85 1-24 1 129 1-32 1-161 1 105 1-58 1 88 1 12 1 38 1-119 1-23 1 48 1 26 1 28 1-116 1 12 1 17 1 99 1-165 1 17 1 91 1-131 1 205 1-45 1-6 1 70 1-82 1 46 1 72 1-110 1-36 1-38 1 41 1-73 1 58 1-7 1 44 1 40 1-5 1-83 1 19 1 69 1 46 1-31 1-1 1-48 1 23 1-11 1-124 1 11 1 58 1-27 1 99 1-1 1 22 1 20 1-13 1-73 1-59 1 7 1 12 1-61 1 200 1-135 1-10 1 58 1-80 1-3 1 40 1-100 1 51 1 158 1-94 1 86 1 8 1-118 1 23 1-42 1 6 1 61 1-9 1 43 1-89 1 7 1-82 1 151 1-142 1 3 1 15 1-26 1 131 1-23 1 38 1-11 1 31 1-88 1 27 1-61 1 44 1 33 1-21 1-19 1-48 1 54 1-7 1 49 1-39 1 12 1 16 1 26 1-32 1 60 1 8 1-33 1-64 1 143 1-152 1 47 1 24 1-44 1 14 1 13 1-80 1 167 1-126 1 90 1-20 1-37 1 68 1-56 1 13 1 73 1-15 1-133 1 67 1 46 1-124 1 50 1 51 1-64 1 3 1 52 1 26 1 4 1-12 1 55 1-120 1 79 1 13 1-48 1 57 1 55 1-29 1-137 1 22 1 76 1 12 1-8 1 85 1-184 1 47 1 10 1-13 1 39 1-38 1-1 1 96 1 8 1-71 1-30 1 50 1 67 1-63 1-17 1-1 1 30 1-39 1 15 1-19 1-10 1-89 1 104 1 1 1 79 1-55 1-75 1 5 1-60 1 57 1-18 1 39 1 25 1-33 1-39 1 98 1-26 1-11 1 23 1-57 1-96 1 122 1 0 1 36 1-59 1 25 1-71 1-80 1 180 1 12 1 17 1-17 1-30 1-54 1 80 1 82 1-96 1-32 1-53 1 49 1 48 1-41 1 47 1-24 1-33 1 46 1-29 1 3 1-15 1-84 1 128 1 53 1-66 1-84 1 8 1 92 1 62 1-55 1-16 1-14 1-18 1-59 1 60 1-30 1 29 1 28 1-24 1-17 1 17 1 17 1-6 1-27 1 79 1-57 1-36 1 28 1-101 1 150 1 18 1-138 1 148 1-70 1-44 1 98 1 20 1-5 1-13 1 45 1-45 1-75 1 23 1 11 1-54 1 44 1-31 1 46 1 68 1-18 1-25 1 5 1 47 1-17 1-59 1 114 1-1 1-46 1 16 1-36 1-61 1 57 1 125 1-48 1-5 1-24 1-127 1 95 1 13 1-34 1-13 1-59 1-15 1 151 1-78 1 15 1-38 1 83 1 70 1-91 1-5 1 39 1-50 1-51 1 83 1-33 1-118 1 98 1 27 1-125 1 73 1 26 1 35 1-66 1-18 1-41 1 60 1 11 1 35 1-121 1 91 1 21 1-31 1-54 1-5 1 75 1-63 1 23 1 55 1-25 1-45 1 63 1-54 1 25 1-64 1 108 1-74 1-35 1 7 1 58 1-69 1 13 1-8 1-1 1-68 1 69 1 27 1 9 1 31 1-4 1 39 1-23 1-55 1 7 1-22 1 82 1-140 1 52 1-52 1 47 1-96 1 43 1 21 1-32 1 19 1 7 1-5 1 114 1-66 1 30 1-115 1 79 1 21 1-75 1-20 1 41 1-19 1-18 1 65 1-26 1 16 1-91 1 182 1-110 1-33 1-17 1 184 1 33 1-34 1-92 1 108 1-151 1 16 1-23 1 28 1-82 1 155 1-82 1 40 1-79 1 42 1-39 1 62 1 99 1-9 1-36 1-50 1-70 1 47 1-57 1-1 1 18 1-5 1-50 1 98 1-125 1 137 1-42 1 100 1-199 1 160 1-111 1 104 1-42 1-6 1-78 1 171 1-109 1 118 1-121 1 88 1-94 1-42 1 78 1-15 1 49 1-46 1 1 1-82 1 174 1-219 1 41 1 78 1-19 1-76 1 38 1 62 1-181 1 171 1 25 1-83 1 89 1-67 1-11 1 49 1-49 1 23 1 18 1-39 1-15 1-47 1 91 1-8 1 29 1-21 1-40 1-64 1 78 1 5 1-3 1-44 1 26 1-6 1 24 1-39 1-25 1-23 1 89 1-6 1 78 1 30 1-103 1-20 1-64 1 97 1-17 1-85 1 68 1-84 1 31 1 1 1 105 1 37 1-74 1 7 1 72 1-92 1 50 1 19 1-42 1 38 1 2 1-54 1 42 1-60 1 37 1-156 1-9 1 154 1 17 1-38 1 23 1 10 1-161 1 28 1 69 1-51 1 13 1 22 1 52 1-15 1 17 1-30 1-25 1 57 1-41 1-19 1 148 1-109 1 14 1-21 1 42 1-15 1 51 1-138 1 26 1 98 1-59 1-23 1 100 1-129 1 20 1 48 1 73 1-90 1 21 1-93 1 113 1 56 1-42 1-80 1 20 1 17 1-29 1 14 1-71 1 125 1-47 1 43 1-43 1 10 1-6 1 20 1 10 1 65 1-80 1-22 1 4 1-10 1-26 1 52 1 56 1-41 1 133 1-149 1 104 1-20 1-37 1 18 1 12 1 54 1-41 1-19 1-58 1-8 1 8 1-1 1 69 1-31 1-38 1 33 1 100 1 50 1-107 1-26 1-66 1-88 1 59 1 192 1-134 1 57 1 60 1 19 1-87 1 13 1-20 1 19 1-7 1 44 1-62 1 59 1-102 1 19 1-45 1 2 1 14 1-31 1 51 1 123 1-138 1 10 1 102 1-127 1 79 1-51 1 67 1-3 1 41 1-9 1-77 1 76 1 19 1 20 1-102 1 95 1-46 1-2 1-63 1 15 1-15 1 75 1-63 1 29 1-31 1-12 1 57 1 19 1-60 1 73 1-63 1-31 1 0 1 96 1-26 1 103 1 0 1-19 1-143 1 75 1 32 1 1 1 42 1-77 1-14 1-15 1 121 1-141 1 8 1 28 1 45 1-98 1-62 1 156 1-100 1 161 1-82 1-82 1 17 1-25 1 46 1 84 1-116 1 141 1-44 1-63 1-1 1 60 1-117 1-20 1-32 1 74 1 72 1-21 1 6 1-118 1 189 1-28 1-122 1 90 1 11 1 19 1-108 1 7 1 56 1-45 1-22 1 118 1-12 1-47 1 21 1-37 1 82 1-37 1 64 1-177 1 51 1-60 1 137 1-18 1 0 1 20 1-6 1-30 1-134 1 87 1-34 1 30 1-89 1 109 1-134 1 22 1 102 1-146 1 193 1-121 1-8 1 71 1-53 1 16 1-23 1 31 1-104 1 117 1 18 1 135 1-114 1-63 1 112 1 74 1 19 1-58 1 56 1-83 1-167 1 267 1-202 1 76 1-68 1-4 1-23 1 157 1-253 1 167 1-24 1-61 1 32 1 23 1-8 1 59 1-33 1-80 1 65 1 22 1 21 1-40 1 42 1-120 1-16 1 117 1-18 1-98 1 68 1-69 1 126 1-31 1-52 1-28 1 83 1-73 1-20 1 53 1 36 1-60 1 17 1 21 1-43 1 83 1-118 1-8 1 38 1 24 1-106 1 184 1-5 1-52 1-44 1 50 1-110 1 171 1-158 1 80 1 0 1 18 1-144 1 66 1 95 1-148 1 159 1-59 1-44 1 118 1-75 1-61 1 6 1-9 1 72 1-38 1-11 1 119 1-26 1 13 1 54 1-101 1 47 1-76 1 139 1-73 1-89 1 69 1-44 1 51 1-61 1 33 1-41 1 14 1 63 1-7 1 49 1-59 1 94 1-58 1-14 1 32 1-88 1 43 1-12 1 84 1-105 1 74 1-43 1 12 1-53 1 35 1-75 1 113 1-53 1 75 1 31 1-200 1 65 1 33 1-39 1 24 1 49 1-43 1 85 1 4 1-147 1 101 1 5 1-115 1 124 1 0 1-15 1 32 1-50 1-38 1 80 1-87 1 96 1-110 1 12 1 67 1 10 1 43 1-114 1 42 1 20 1 32 1-89 1 125 1 32 1-66 1-98 1 163 1-209 1 82 1 72 1-121 1 59 1-51 1-42 1-6 1-35 1 109 1-48 1 79 1 6 1-59 1 79 1 11 1-40 1 8 1-24 1 49 1-74 1-69 1 8 1 84 1-41 1 133 1-101 1-9 1 39 1 81 1 55 1-101 1 17 1-53 1 27 1-100 1 66 1-50 1 21 1-44 1 135 1-125 1-15 1 3 1 22 1 104 1-10 1 3 1-67 1 104 1-80 1-96 1 34 1 1 1 18 1-9 1-37 1 113 1 55 1-81 1 111 1-15 1-133 1 57 1-22 1-41 1 53 1 37 1 26 1-92 1 100 1-97 1-117 1 56 1 38 1 39 1-18 1-13 1-93 1 187 1-55 1-41 1-39 1 76 1-3 1-13 1 18 1-87 1 80 1-88 1 32 1-64 1 122 1-51 1-26 1 44 1 7 1 97 1-14 1 15 1-66 1 7 1 34 1 0 1-27 1-70 1 74 1-18 1-70 1 41 1 18 1 75 1-117 1-58 1 65 1 24 1 81 1 95 1-73 1-13 1-57 1-11 1 119 1-47 1-28 1-95 1 104 1-144 1 117 1 5 1 137 1-114 1-41 1 37 1 38 1-79 1-10 1 74 1 66 1-82 1-13 1 38 1-19 1-4 1 28 1-63 1 76 1-47 1-4 1-62 1 35 1-33 1 22 1 33 1-21 1 3 1 115 1-43 1 8 1-95 1 36 1 31 1-88 1 52 1 41 1-28 1 57 1-139 1 73 1 77 1-73 1-51 1 35 1 5 1 51 1-46 1 87 1-51 1 76 1-116 1 20 1-36 1 33 1 111 1-111 1 56 1 104 1-54 1-29 1-18 1-14 1-6 1 83 1 15 1-4 1 6 1-113 1-27 1 108 1-32 1-98 1 19 1 47 1 127 1-79 1-87 1-40 1 137 1 16 1 31 1 16 1-15 1-116 1 99 1 59 1-49 1-33 1-182 1 113 1 78 1-8 1-16 1-2 1 88 1-30 1-16 1 119 1-146 1 143 1-105 1 21 1-46 1 103 1-59 1-94 1 15 1 17 1-31 1 45 1 49 1-34 1 34 1-36 1 10 1 23 1 35 1-30 1-4 1 8 1 69 1 41 1-152 1 40 1 8 1 23 1-52 1 6 1-91 1 52 1-74 1-53 1 78 1 154 1-58 1 48 1-161 1 64 1 57 1-65 1 31 1-43 1 9 1 96 1-100 1-8 1 83 1-66 1-2 1 17 1 34 1-164 1 61 1 28 1-79 1 37 1-124 1 1 1 77 1-51 1-51 1 66 1 30 1-28 1 39 1-5 1-135 1 194 1-101 1-10 1-57 1 91 1 41 1-30 1-93 1 30 1 40 1 11 1-142 1 119 1 15 1-26 1-67 1 32 1 81 1 32 1-2 1-31 1-42 1 87 1-81 1 24 1 17 1 9 1-57 1 66 1-39 1-86 1 42 1-10 1-92 1 108 1 31 1-110 1-6 1 8 1 34 1-29 1-23 1 54 1 63 1-100 1 61 1-58 1 20 1 77 1-20 1 59 1 1 1-52 1-43 1-7 1 60 1-42 1 11 1 18 1 66 1-108 1 175 1-132 1 37 1-74 1 83 1-43 1 31 1 30 1-146 1 70 1-20 1 147 1-74 1 53 1-15 1-143 1 45 1 24 1-59 1-2 1 24 1-51 1 93 1-133 1 82 1-16 1 64 1-29 1 45 1 20 1-25 1 70 1-33 1-45 1 16 1 30 1-73 1 64 1 74 1-65 1 110 1-46 1-71 1-20 1 42 1 13 1 123 1-126 1 114 1-173 1 20 1 58 1 23 1-104 1 24 1 34 1-65 1 5 1 85 1-51 1 45 1 13 1-12 1-21 1 119 1-153 1-94 1 88 1 30 1-82 1 11 1 34 1 49 1-53 1 32 1 11 1-39 1 22 1-70 1 67 1-41 1 20 1 42 1 30 1-71 1 63 1 38 1-25 1-10 1-51 1 59 1-114 1 21 1-41 1-2 1 82 1 12 1 76 1 12 1-72 1 101 1-47 1 0 1-157 1 98 1-20 1-5 1 36 1-20 1-41 1 101 1-77 1 22 1-88 1 103 1 22 1 60 1 5 1-89 1-33 1-16 1 94 1-62 1 52 1-2 1-82 1 12 1 0 1 36 1-17 1 165 1-124 1 89 1-83 1 25 1-110 1 59 1-3 1 51 1-88 1 81 1-80 1-29 1 87 1-50 1 80 1 57 1-137 1 70 1-61 1 6 1 125 1-92 1 13 1 15 1-66 1 98 1 44 1-150 1 141 1-100 1 122 1-144 1-67 1 33 1 151 1-109 1 64 1-48 1-26 1 53 1-1 1 7 1-54 1-63 1 104 1-13 1 3 1 64 1 15 1-176 1 114 1-7 1 46 1-84 1 83 1-149 1 63 1 60 1 28 1-59 1-23 1-39 1 21 1 31 1-1 1-81 1 137 1-42 1 52 1-156 1 55 1 114 1-102 1-42 1 56 1-34 1 31 1-67 1-19 1 103 1-39 1 3 1 81 1-73 1 19 1-28 1-9 1-87 1 80 1-17 1 21 1 99 1-97 1 91 1 14 1 8 1 52 1-29 1-182 1 116 1 75 1-56 1 4 1 16 1-97 1 74 1 60 1 42 1-57 1 7 1 64 1-62 1-51 1-34 1-35 1 18 1 78 1-98 1-20 1 49 1 7 1-64 1 61 1 5 1 3 1 40 1 32 1-28 1-28 1-37 1-12 1-20 1-38 1 2 1 28 1-40 1 39 1 66 1-74 1 6 1-61 1 28 1 2 1-3 1 83 1-37 1-31 1-59 1 75 1-117 1 140 1 17 1-58 1 28 1-14 1 40 1 16 1 26 1-104 1 53 1 4 1-24 1-31 1-78 1 159 1-48 1-18 1 137 1-96 1 7 1-30 1 120 1-45 1 41 1-80 1-39 1 104 1-108 1-27 1 43 1 143 1-146 1-79 1 11 1 25 1 50 1-35 1-49 1 27 1 31 1 43 1-84 1-1 1 58 1-37 1 44 1-26 1-77 1 47 1 91 1 66 1-104 1 90 1-100 1 55 1-57 1 55 1-35 1 38 1-140 1 71 1-9 1-1 1 9 1-2 1 43 1-24 1-21 1 69 1-6 1-29 1 34 1-46 1-64 1 94 1 2 1-74 1 4 1-38 1 74 1 74 1-79 1-66 1 43 1 45 1-61 1 84 1-31 1-8 1 112 1-3 1-115 1-51 1 71 1 40 1-99 1-6 1-11 1-84 1 99 1 39 1 25 1 43 1-122 1 32 1-111 1 32 1 124 1-44 1-14 1 11 1 29 1-54 1 17 1 29 1 54 1-119 1 16 1 54 1-34 1 112 1 41 1-7 1-134 1 90 1-94 1 21 1 19 1 38 1-13 1 2 1 56 1-81 1 3 1 44 1-88 1 47 1 16 1-62 1 9 1 120 1-142 1 53 1 29 1-78 1-46 1 92 1-38 1 39 1 1 1-51 1 23 1 68 1-16 1-49 1-5 1-10 1 126 1-78 1-16 1-6 1 56 1-25 1 9 1 4 1 41 1-16 1 69 1-17 1-120 1 30 1-39 1 94 1-34 1-101 1-67 1 176 1-122 1 95 1-91 1 17 1 142 1-154 1 36 1-103 1 37 1 2 1 121 1-7 1-118 1 39 1 15 1 91 1 8 1-68 1-23 1 63 1-65 1-18 1-4 1 27 1-39 1 87 1-42 1 80 1-108 1 32 1 102 1-166 1-7 1 66 1-119 1 142 1-42 1 15 1 35 1-98 1 75 1-104 1 66 1 30 1-46 1 158 1-25 1-134 1 79 1-74 1 34 1-16 1 9 1 40 1 1 1-70 1-12 1 42 1 15 1 39 1-27 1-1 1 32 1-143 1 88 1 12 1-47 1-14 1-15 1-3 1 27 1 9 1 18 1-28 1 99 1-32 1 31 1-66 1-13 1 21 1 42 1-49 1 83 1-51 1 55 1-54 1 19 1-41 1 43 1 20 1-69 1 27 1-50 1-35 1 64 1-9 1 49 1-97 1 117 1 12 1-4 1-98 1-37 1 48 1-19 1-29 1 90 1 78 1-47 1-70 1 37 1-17 1-52 1 132 1-52 1 19 1-51 1 56 1-89 1 78 1-81 1-61 1 80 1 14 1 16 1 16 1 60 1-21 1-3 1-185 1 93 1-28 1 29 1 0 1-21 1 59 1-96 1 43 1 33 1 63 1-101 1-38 1 161 1-96 1 53 1-24 1 53 1-71 1 72 1-77 1-59 1 100 1-40 1-61 1 170 1-67 1-28 1-20 1-1 1 43 1-160 1 115 1 4 1 78 1 25 1-80 1-31 1 64 1 8 1-69 1-2 1 90 1-43 1-74 1 64 1 53 1-56 1 99 1-140 1 60 1 118 1-94 1-46 1-12 1 2 1-7 1 117 1-50 1-35 1-58 1 55 1-3 1 52 1-93 1 31 1 24 1-92 1-7 1 130 1-120 1 57 1-36 1 6 1 79 1 26 1 8 1-79 1 10 1-63 1 40 1-45 1 2 1 61 1-81 1 43 1 33 1-54 1 53 1-65 1 31 1-52 1 82 1 25 1-112 1 51 1 38 1-93 1 67 1-33 1-27 1-9 1 62 1 21 1-12 1-13 1 30 1 11 1 1 1-133 1 67 1-52 1 123 1 54 1 5 1-38 1-97 1 85 1-12 1-30 1 56 1-16 1 6 1-70 1 65 1-37 1-18 1 36 1-12 1 131 1-161 1 74 1 16 1-129 1 111 1-43 1 26 1-13 1 4 1 78 1-11 1-68 1 24 1-38 1 7 1 26 1-35 1 75 1-61 1 20 1 61 1 12 1-92 1 51 1-111 1 102 1 86 1-71 1-44 1-15 1 76 1 54 1-44 1-6 1-69 1 85 1-53 1 63 1-69 1 62 1-34 1-50 1-6 1 129 1-118 1 70 1-106 1 58 1 3 1-11 1-11 1 38 1 6 1 89 1 10 1-45 1 1 1 4 1-60 1 80 1-215 1 56 1-44 1 88 1-3 1 63 1-48 1-46 1 83 1 5 1-48 1 4 1 5 1 60 1 20 1-7 1-118 1 67 1-58 1 1 1 22 1 27 1 12 1-24 1-9 1-67 1 15 1 42 1-12 1-47 1 10 1 44 1 40 1-13 1-68 1-31 1 111 1-33 1-9 1-31 1-13 1-45 1 146 1-33 1-1 1-33 1 9 1 6 1-46 1-2 1 91 1-57 1-4 1-34 1 50 1-18 1 63 1-77 1-95 1 174 1-11 1-117 1 63 1-16 1-43 1 19 1 164 1-72 1-153 1 22 1 67 1-36 1 32 1 19 1 49 1-41 1-114 1 116 1-54 1 49 1-20 1 27 1-49 1 22 1 34 1-72 1-2 1 16 1-14 1 9 1-42 1 65 1 34 1-12 1 20 1-25 1 48 1-98 1 51 1 22 1-34 1-52 1 67 1 10 1-25 1-50 1 62 1-75 1 67 1-12 1 121 1-153 1 94 1-85 1 12 1-2 1 63 1-39 1-3 1-31 1-6 1 15 1 88 1 9 1-97 1 92 1-146 1 44 1 65 1-33 1 57 1-119 1-22 1 77 1 31 1-18 1-2 1 44 1-86 1 28 1 20 1 25 1-6 1-49 1-51 1 6 1 81 1 23 1-41 1-41 1 85 1-87 1 134 1-121 1 122 1-51 1 7 1-15 1 13 1 9 1-96 1 69 1 35 1-45 1-18 1-84 1 103 1 55 1-41 1-64 1-22 1 50 1 1 1 21 1 16 1 35 1-105 1 57 1-59 1 51 1-2 1-23 1 8 1-2 1 19 1-139 1 85 1-46 1 113 1 5 1-79 1 82 1-2 1-47 1 29 1-65 1 2 1 31 1-22 1-21 1 30 1 112 1-107 1 7 1-35 1 87 1-95 1 72 1-117 1 68 1-20 1 82 1-90 1 34 1 47 1-98 1-31 1-17 1 15 1-15 1 96 1-14 1-25 1 91 1-40 1-4 1-20 1-15 1-62 1 185 1-77 1 27 1-47 1 47 1-7 1-4 1-66 1 45 1 8 1 67 1-91 1 79 1-47 1-33 1 10 1-24 1-70 1 84 1 24 1-10 1 36 1-70 1 66 1-34 1-35 1-37 1 66 1-18 1 9 1-39 1 35 1 3 1 49 1-54 1 44 1-67 1 32 1 70 1-39 1-66 1-7 1-13 1 75 1-42 1-30 1-23 1 54 1-49 1 101 1-104 1 85 1-123 1-24 1 123 1 65 1-118 1 40 1 92 1 1 1-21 1-74 1 11 1 55 1-78 1-19 1 25 1 10 1 17 1-7 1-13 1-28 1 77 1-40 1-32 1 123 1-113 1-42 1 112 1-6 1 76 1-98 1-45 1 78 1-13 1-38 1 27 1 39 1-131 1 102 1-83 1 128 1-150 1 39 1-9 1 42 1 31 1 45 1-66 1 39 1-50 1-12 1 0 1 43 1-43 1-41 1-68 1 87 1-129 1 129 1 22 1-2 1-64 1 1 1 17 1 47 1 42 1-61 1-26 1 33" stroke="#9400d3"/>
</g>
<text x="97.8" y="612.3" text-anchor="end" class="n">0</text>
<line x1="105.0" y1="517.9" x2="122.7" y2="517.9" stroke="#383838" stroke-width="1.8"/>
<text x="97.8" y="526.3" text-anchor="end" class="n">2</text>
<line x1="105.0" y1="432.0" x2="122.7" y2="432.0" stroke="#383838" stroke-width="1.8"/>
<text x="97.8" y="440.4" text-anchor="end" class="n">4</text>
<line x1="105.0" y1="346.0" x2="122.7" y2="346.0" stroke="#383838" stroke-width="1.8"/>
<text x="97.8" y="354.4" text-anchor="end" class="n">6</text>
<line x1="105.0" y1="260.1" x2="122.7" y2="260.1" stroke="#383838" stroke-width="1.8"/>
<text x="97.8" y="268.5" text-anchor="end" class="n">8</text>
<line x1="105.0" y1="174.1" x2="122.7" y2="174.1" stroke="#383838" stroke-width="1.8"/>
<text x="97.8" y="182.5" text-anchor="end" class="n">10</text>
<line x1="105.0" y1="88.2" x2="122.7" y2="88.2" stroke="#383838" stroke-width="1.8"/>
<text x="97.8" y="96.6" text-anchor="end" class="n">12</text>
<text x="105.0" y="630.0" text-anchor="middle" class="n">0</text>
<line x1="190.9" y1="603.9" x2="190.9" y2="586.2" stroke="#383838" stroke-width="1.8"/>
<text x="190.9" y="630.0" text-anchor="middle" class="n">10</text>
<line x1="276.9" y1="603.9" x2="276.9" y2="586.2" stroke="#383838" stroke-width="1.8"/>
<text x="276.9" y="630.0" text-anchor="middle" class="n">20</text>
<line x1="362.9" y1="603.9" x2="362.9" y2="586.2" stroke="#383838" stroke-width="1.8"/>
<text x="362.9" y="630.0" text-anchor="middle" class="n">30</text>
<line x1="448.9" y1="603.9" x2="448.9" y2="586.2" stroke="#383838" stroke-width="1.8"/>
<text x="448.9" y="630.0" text-anchor="middle" class="n">40</text>
<line x1="534.9" y1="603.9" x2="534.9" y2="586.2" stroke="#383838" stroke-width="1.8"/>
<text x="534.9" y="630.0" text-anchor="middle" class="n">50</text>
<line x1="620.9" y1="603.9" x2="620.9" y2="586.2" stroke="#383838" stroke-width="1.8"/>
<text x="620.9" y="630.0" text-anchor="middle" class="n">60</text>
<line x1="706.9" y1="603.9" x2="706.9" y2="586.2" stroke="#383838" stroke-width="1.8"/>
<text x="706.9" y="630.0" text-anchor="middle" class="n">70</text>
<line x1="792.9" y1="603.9" x2="792.9" y2="586.2" stroke="#383838" stroke-width="1.8"/>
<text x="792.9" y="630.0" text-anchor="middle" class="n">80</text>
<line x1="878.9" y1="603.9" x2="878.9" y2="586.2" stroke="#383838" stroke-width="1.8"/>
<text x="878.9" y="630.0" text-anchor="middle" class="n">90</text>
<line x1="964.9" y1="603.9" x2="964.9" y2="586.2" stroke="#383838" stroke-width="1.8"/>
<text x="964.9" y="630.0" text-anchor="middle" class="n">100</text>
<text x="535.9" y="655.0" text-anchor="middle" class="t">Time (ns)</text>
<text transform="translate(60.0 303.1) rotate(-90)" text-anchor="middle" class="t">RMSD (Å)</text>
<text x="97.8" y="1319.5" text-anchor="end" class="n">0</text>
<line x1="105.3" y1="1243.4" x2="123.0" y2="1243.4" stroke="#1c1c1c" stroke-width="1.5"/>
<text x="97.8" y="1251.8" text-anchor="end" class="n">1</text>
<line x1="105.3" y1="1175.7" x2="123.0" y2="1175.7" stroke="#1c1c1c" stroke-width="1.5"/>
<text x="97.8" y="1184.1" text-anchor="end" class="n">2</text>
<line x1="105.3" y1="1108.0" x2="123.0" y2="1108.0" stroke="#1c1c1c" stroke-width="1.5"/>
<text x="97.8" y="1116.5" text-anchor="end" class="n">3</text>
<line x1="105.3" y1="1040.4" x2="123.0" y2="1040.4" stroke="#1c1c1c" stroke-width="1.5"/>
<text x="97.8" y="1048.8" text-anchor="end" class="n">4</text>
<line x1="105.3" y1="972.7" x2="123.0" y2="972.7" stroke="#1c1c1c" stroke-width="1.5"/>
<text x="97.8" y="981.1" text-anchor="end" class="n">5</text>
<line x1="105.3" y1="905.0" x2="123.0" y2="905.0" stroke="#1c1c1c" stroke-width="1.5"/>
<text x="97.8" y="913.4" text-anchor="end" class="n">6</text>
<line x1="105.3" y1="837.4" x2="123.0" y2="837.4" stroke="#1c1c1c" stroke-width="1.5"/>
<text x="97.8" y="845.8" text-anchor="end" class="n">7</text>
<line x1="105.3" y1="769.7" x2="123.0" y2="769.7" stroke="#1c1c1c" stroke-width="1.5"/>
<text x="97.8" y="778.1" text-anchor="end" class="n">8</text>
<line x1="105.3" y1="702.0" x2="123.0" y2="702.0" stroke="#1c1c1c" stroke-width="1.5"/>
<text x="97.8" y="710.4" text-anchor="end" class="n">9</text>
<text x="105.3" y="1337.5" text-anchor="middle" class="n">0</text>
<line x1="192.3" y1="1311.0" x2="192.3" y2="1293.3" stroke="#1c1c1c" stroke-width="1.5"/>
<text x="192.3" y="1337.5" text-anchor="middle" class="n">10</text>
<line x1="279.4" y1="1311.0" x2="279.4" y2="1293.3" stroke="#1c1c1c" stroke-width="1.5"/>
<text x="279.4" y="1337.5" text-anchor="middle" class="n">20</text>
<line x1="366.4" y1="1311.0" x2="366.4" y2="1293.3" stroke="#1c1c1c" stroke-width="1.5"/>
<text x="366.4" y="1337.5" text-anchor="middle" class="n">30</text>
<line x1="453.4" y1="1311.0" x2="453.4" y2="1293.3" stroke="#1c1c1c" stroke-width="1.5"/>
<text x="453.4" y="1337.5" text-anchor="middle" class="n">40</text>
<line x1="540.5" y1="1311.0" x2="540.5" y2="1293.3" stroke="#1c1c1c" stroke-width="1.5"/>
<text x="540.5" y="1337.5" text-anchor="middle" class="n">50</text>
<line x1="627.5" y1="1311.0" x2="627.5" y2="1293.3" stroke="#1c1c1c" stroke-width="1.5"/>
<text x="627.5" y="1337.5" text-anchor="middle" class="n">60</text>
<line x1="714.5" y1="1311.0" x2="714.5" y2="1293.3" stroke="#1c1c1c" stroke-width="1.5"/>
<text x="714.5" y="1337.5" text-anchor="middle" class="n">70</text>
<line x1="801.6" y1="1311.0" x2="801.6" y2="1293.3" stroke="#1c1c1c" stroke-width="1.5"/>
<text x="801.6" y="1337.5" text-anchor="middle" class="n">80</text>
<line x1="888.6" y1="1311.0" x2="888.6" y2="1293.3" stroke="#1c1c1c" stroke-width="1.5"/>
<text x="888.6" y="1337.5" text-anchor="middle" class="n">90</text>
<line x1="975.6" y1="1311.0" x2="975.6" y2="1293.3" stroke="#1c1c1c" stroke-width="1.5"/>
<text x="975.6" y="1337.5" text-anchor="middle" class="n">100</text>
<text x="541.5" y="1362.5" text-anchor="middle" class="t">Time (ns)</text>
<text transform="translate(72.0 1006.5) rotate(-90)" text-anchor="middle" class="t">RMSD (Å)</text>
<line x1="194.8" y1="82.2" x2="232.0" y2="82.2" stroke="#000000" stroke-width="2.5"/>
<text x="248.0" y="88.6" class="t" textLength="229.3" lengthAdjust="spacing">6CVN-TauR2 Complex</text>
<line x1="194.8" y1="112.3" x2="232.0" y2="112.3" stroke="#ffa500" stroke-width="2.5"/>
<text x="248.0" y="118.7" class="t" textLength="241.9" lengthAdjust="spacing">6CVN*-TauR2 Complex</text>
<line x1="194.8" y1="143.7" x2="232.0" y2="143.7" stroke="#008b00" stroke-width="2.5"/>
<text x="248.0" y="150.1" class="t" textLength="238.3" lengthAdjust="spacing">βI/α/βI-TauR2 Complex</text>
<line x1="194.8" y1="175.3" x2="232.0" y2="175.3" stroke="#00ffff" stroke-width="2.5"/>
<text x="248.0" y="181.4" class="t" textLength="278.1" lengthAdjust="spacing">βIIb/α/βIIb-TauR2 Complex</text>
<line x1="194.8" y1="206.6" x2="232.0" y2="206.6" stroke="#9400d3" stroke-width="2.5"/>
<text x="248.0" y="213.2" class="t" textLength="270.2" lengthAdjust="spacing">βIII/α/βIII-TauR2 Complex</text>
<line x1="186.8" y1="766.9" x2="223.9" y2="766.9" stroke="#000000" stroke-width="2.5"/>
<text x="240.9" y="774.8" class="t" textLength="160.3" lengthAdjust="spacing">TauR2 in 6CVN</text>
<line x1="186.8" y1="792.9" x2="223.9" y2="792.9" stroke="#ffa500" stroke-width="2.5"/>
<text x="240.9" y="800.6" class="t" textLength="171.8" lengthAdjust="spacing">TauR2 in 6CVN*</text>
<line x1="186.8" y1="821.4" x2="223.9" y2="821.4" stroke="#008b00" stroke-width="2.5"/>
<text x="240.9" y="828.4" class="t" textLength="144.4" lengthAdjust="spacing">TauR2 βI/α/βI</text>
<line x1="186.8" y1="854.2" x2="223.9" y2="854.2" stroke="#00ffff" stroke-width="2.5"/>
<text x="240.9" y="860.5" class="t" textLength="210.1" lengthAdjust="spacing">TauR2 in βIIb/α/βIIb</text>
<line x1="186.8" y1="886.3" x2="223.9" y2="886.3" stroke="#9400d3" stroke-width="2.5"/>
<text x="240.9" y="892.3" class="t" textLength="201.9" lengthAdjust="spacing">TauR2 in βIII/α/βIII</text>
</svg>
</body></html>
